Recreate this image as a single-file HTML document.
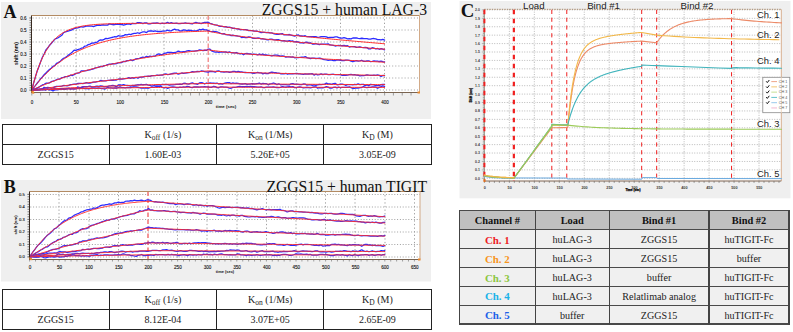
<!DOCTYPE html>
<html><head><meta charset="utf-8"><style>
html,body{margin:0;padding:0;background:#fff;}
body{width:793px;height:332px;position:relative;overflow:hidden;font-family:"Liberation Serif",serif;}
svg{position:absolute;left:0;top:0;}
svg text{font-family:"Liberation Sans",sans-serif;fill:#111;}
.tk{font-size:5.3px;fill:#111;stroke:#111;stroke-width:0.12px;}
.tkb{font-size:5px;font-weight:bold;}
.tkc{font-size:4px;font-weight:bold;fill:#3a3a3a;}
.tkcb{font-size:3.1px;font-weight:bold;stroke:#000;stroke-width:0.25px;}
svg text.lbl{font-family:"Liberation Serif",serif;font-weight:bold;font-size:18px;}
svg text.lblc{font-family:"Liberation Serif",serif;font-weight:bold;font-size:18.8px;}
svg text.ttl{font-family:"Liberation Serif",serif;font-size:15.7px;}
.sec{font-size:9.7px;fill:#222;}
.chl{font-size:9.4px;fill:#222;}
.lg{font-size:3.7px;fill:#555;}
table{position:absolute;border-collapse:collapse;}
.kt{left:1.5px;width:430px;font-size:10px;}
.kt td{border:1.2px solid #222;height:18.8px;padding:0;text-align:center;width:25%;color:#222;}
.kt sub{font-size:7.5px;vertical-align:-2px;line-height:0;}
.cc{position:absolute;display:flex;align-items:center;justify-content:center;font-size:10.6px;line-height:1;padding-top:2.2px;box-sizing:border-box;}
</style></head><body>
<svg width="793" height="332" viewBox="0 0 793 332">
<rect x="1" y="2" width="430" height="117" fill="#efefef"/>
<rect x="31.5" y="15.5" width="388.0" height="77.0" fill="#fff"/>
<line x1="29.5" y1="90" x2="419.5" y2="90" stroke="#a0a0a0" stroke-width="1.2" stroke-dasharray="1,2.1"/>
<line x1="29.5" y1="78" x2="419.5" y2="78" stroke="#a0a0a0" stroke-width="1.2" stroke-dasharray="1,2.1"/>
<line x1="29.5" y1="66" x2="419.5" y2="66" stroke="#a0a0a0" stroke-width="1.2" stroke-dasharray="1,2.1"/>
<line x1="29.5" y1="54" x2="419.5" y2="54" stroke="#a0a0a0" stroke-width="1.2" stroke-dasharray="1,2.1"/>
<line x1="29.5" y1="42" x2="419.5" y2="42" stroke="#a0a0a0" stroke-width="1.2" stroke-dasharray="1,2.1"/>
<line x1="29.5" y1="30" x2="419.5" y2="30" stroke="#a0a0a0" stroke-width="1.2" stroke-dasharray="1,2.1"/>
<line x1="29.5" y1="18" x2="419.5" y2="18" stroke="#a0a0a0" stroke-width="1.2" stroke-dasharray="1,2.1"/>
<line x1="76" y1="15.5" x2="76" y2="92.5" stroke="#a0a0a0" stroke-width="1" stroke-dasharray="1.3,2.3"/>
<line x1="120" y1="15.5" x2="120" y2="92.5" stroke="#a0a0a0" stroke-width="1" stroke-dasharray="1.3,2.3"/>
<line x1="164" y1="15.5" x2="164" y2="92.5" stroke="#a0a0a0" stroke-width="1" stroke-dasharray="1.3,2.3"/>
<line x1="252.5" y1="15.5" x2="252.5" y2="92.5" stroke="#a0a0a0" stroke-width="1" stroke-dasharray="1.3,2.3"/>
<line x1="296.5" y1="15.5" x2="296.5" y2="92.5" stroke="#a0a0a0" stroke-width="1" stroke-dasharray="1.3,2.3"/>
<line x1="340.5" y1="15.5" x2="340.5" y2="92.5" stroke="#a0a0a0" stroke-width="1" stroke-dasharray="1.3,2.3"/>
<line x1="384.5" y1="15.5" x2="384.5" y2="92.5" stroke="#a0a0a0" stroke-width="1" stroke-dasharray="1.3,2.3"/>
<line x1="208.2" y1="15.5" x2="208.2" y2="92.5" stroke="#f27a7a" stroke-width="1.2" stroke-dasharray="4.5,2.5"/>
<path d="M31.8,90.2 L33.56,83.23 L35.33,77.1 L37.09,71.35 L38.86,66.76 L40.62,61.86 L42.38,57.28 L44.15,54.02 L45.91,49.95 L47.68,48.05 L49.44,45.46 L51.2,43.51 L52.97,41.31 L54.73,39.24 L56.5,38.46 L58.26,37.59 L60.02,36.56 L61.79,35.3 L63.55,32.72 L65.32,32 L67.08,31.28 L68.84,30.8 L70.61,30.44 L72.37,29.69 L74.14,28.54 L75.9,28.1 L77.66,27.77 L79.43,27.29 L81.19,26.72 L82.96,27.02 L84.72,26.53 L86.48,26.09 L88.25,25.94 L90.01,26.03 L91.78,26.17 L93.54,26.55 L95.3,25.81 L97.07,25.44 L98.83,25.26 L100.6,25.29 L102.36,24.85 L104.12,24.99 L105.89,25.08 L107.65,25.11 L109.42,23.79 L111.18,24.28 L112.94,24.74 L114.71,24.69 L116.47,24.23 L118.24,24.24 L120,24.69 L121.76,24.33 L123.53,25.18 L125.29,24.57 L127.06,24.07 L128.82,23.89 L130.58,24.48 L132.35,23.33 L134.11,23.54 L135.88,23.65 L137.64,22.62 L139.4,22.74 L141.17,22.9 L142.93,23.61 L144.7,22.91 L146.46,22.85 L148.22,23.87 L149.99,23.9 L151.75,23.43 L153.52,23.03 L155.28,23.24 L157.04,22.96 L158.81,23.4 L160.57,23.58 L162.34,23.1 L164.1,23.54 L165.86,23.21 L167.63,22.38 L169.39,23.46 L171.16,22.56 L172.92,23.45 L174.68,23.42 L176.45,23.19 L178.21,23.71 L179.98,23.62 L181.74,23.45 L183.5,23.3 L185.27,22.98 L187.03,23.41 L188.8,23.28 L190.56,23.55 L192.32,23.94 L194.09,23.01 L195.85,22.4 L197.62,22.95 L199.38,23.24 L201.14,23.67 L202.91,22.86 L204.67,22.38 L206.44,22.43 L208.2,22.19 L209.96,23.3 L211.73,23.82 L213.49,24.52 L215.26,24.97 L217.02,25.06 L218.78,26.04 L220.55,26.34 L222.31,26.36 L224.08,26.82 L225.84,26.68 L227.6,27.37 L229.37,27.12 L231.13,27.55 L232.9,28.39 L234.66,28.24 L236.42,28.86 L238.19,28.79 L239.95,29.64 L241.72,29.6 L243.48,29.54 L245.24,29.69 L247.01,29.96 L248.77,30.57 L250.54,30.54 L252.3,30.72 L254.06,31.04 L255.83,31.22 L257.59,31.25 L259.36,31.98 L261.12,32.53 L262.88,32.42 L264.65,32.45 L266.41,32.73 L268.18,32.39 L269.94,32.86 L271.7,32.89 L273.47,33.59 L275.23,34.2 L277,34.33 L278.76,34.27 L280.52,33.81 L282.29,33.59 L284.05,34.96 L285.82,34.96 L287.58,34.8 L289.34,34.51 L291.11,35.07 L292.87,35.65 L294.64,36.1 L296.4,35.37 L298.16,34.81 L299.93,35.97 L301.69,36 L303.46,36.18 L305.22,35.69 L306.98,36.72 L308.75,36.65 L310.51,36.61 L312.28,36.61 L314.04,36.67 L315.8,36.66 L317.57,37.43 L319.33,37.13 L321.1,36.61 L322.86,36.64 L324.62,36.56 L326.39,36.86 L328.15,37.68 L329.92,37.4 L331.68,37.33 L333.44,37.37 L335.21,36.8 L336.97,36.95 L338.74,37.56 L340.5,38.15 L342.26,38.16 L344.03,37.7 L345.79,38.23 L347.56,38.82 L349.32,38.67 L351.08,38.94 L352.85,37.99 L354.61,37.99 L356.38,37.93 L358.14,38.29 L359.9,38.57 L361.67,38.26 L363.43,38.49 L365.2,38.66 L366.96,38.57 L368.72,39.1 L370.49,39.17 L372.25,38.64 L374.02,38.52 L375.78,38.82 L377.54,39.55 L379.31,39.66 L381.07,39.92 L382.84,39.4 L384.6,40.11" fill="none" stroke="#2c2cff" stroke-width="1.3" stroke-linejoin="round" stroke-linecap="round" />
<path d="M31.8,90.2 L33.56,83.23 L35.33,76.98 L37.09,71.38 L38.86,66.37 L40.62,61.88 L42.38,57.86 L44.15,54.25 L45.91,51.02 L47.68,48.13 L49.44,45.54 L51.2,43.22 L52.97,41.14 L54.73,39.28 L56.5,37.61 L58.26,36.11 L60.02,34.77 L61.79,33.58 L63.55,32.5 L65.32,31.54 L67.08,30.68 L68.84,29.9 L70.61,29.21 L72.37,28.59 L74.14,28.03 L75.9,27.54 L77.66,27.09 L79.43,26.69 L81.19,26.33 L82.96,26.01 L84.72,25.73 L86.48,25.47 L88.25,25.24 L90.01,25.03 L91.78,24.85 L93.54,24.68 L95.3,24.53 L97.07,24.4 L98.83,24.28 L100.6,24.18 L102.36,24.08 L104.12,23.99 L105.89,23.92 L107.65,23.85 L109.42,23.79 L111.18,23.73 L112.94,23.68 L114.71,23.64 L116.47,23.6 L118.24,23.56 L120,23.53 L121.76,23.5 L123.53,23.48 L125.29,23.45 L127.06,23.43 L128.82,23.42 L130.58,23.4 L132.35,23.38 L134.11,23.37 L135.88,23.36 L137.64,23.35 L139.4,23.34 L141.17,23.33 L142.93,23.32 L144.7,23.32 L146.46,23.31 L148.22,23.3 L149.99,23.3 L151.75,23.3 L153.52,23.29 L155.28,23.29 L157.04,23.28 L158.81,23.28 L160.57,23.28 L162.34,23.28 L164.1,23.28 L165.86,23.27 L167.63,23.27 L169.39,23.27 L171.16,23.27 L172.92,23.27 L174.68,23.27 L176.45,23.27 L178.21,23.26 L179.98,23.26 L181.74,23.26 L183.5,23.26 L185.27,23.26 L187.03,23.26 L188.8,23.26 L190.56,23.26 L192.32,23.26 L194.09,23.26 L195.85,23.26 L197.62,23.26 L199.38,23.26 L201.14,23.26 L202.91,23.26 L204.67,23.26 L206.44,23.26 L208.2,23.26 L209.96,23.69 L211.73,24.11 L213.49,24.51 L215.26,24.9 L217.02,25.27 L218.78,25.62 L220.55,25.97 L222.31,26.3 L224.08,26.62 L225.84,26.93 L227.6,27.23 L229.37,27.53 L231.13,27.81 L232.9,28.09 L234.66,28.36 L236.42,28.62 L238.19,28.88 L239.95,29.14 L241.72,29.38 L243.48,29.63 L245.24,29.86 L247.01,30.1 L248.77,30.33 L250.54,30.56 L252.3,30.78 L254.06,31 L255.83,31.22 L257.59,31.43 L259.36,31.64 L261.12,31.85 L262.88,32.06 L264.65,32.26 L266.41,32.46 L268.18,32.66 L269.94,32.86 L271.7,33.06 L273.47,33.25 L275.23,33.45 L277,33.64 L278.76,33.83 L280.52,34.02 L282.29,34.21 L284.05,34.39 L285.82,34.58 L287.58,34.76 L289.34,34.95 L291.11,35.13 L292.87,35.31 L294.64,35.49 L296.4,35.67 L298.16,35.85 L299.93,36.02 L301.69,36.2 L303.46,36.38 L305.22,36.55 L306.98,36.73 L308.75,36.9 L310.51,37.07 L312.28,37.24 L314.04,37.41 L315.8,37.58 L317.57,37.75 L319.33,37.92 L321.1,38.09 L322.86,38.26 L324.62,38.43 L326.39,38.59 L328.15,38.76 L329.92,38.92 L331.68,39.09 L333.44,39.25 L335.21,39.42 L336.97,39.58 L338.74,39.74 L340.5,39.9 L342.26,40.07 L344.03,40.23 L345.79,40.39 L347.56,40.55 L349.32,40.7 L351.08,40.86 L352.85,41.02 L354.61,41.18 L356.38,41.34 L358.14,41.49 L359.9,41.65 L361.67,41.8 L363.43,41.96 L365.2,42.11 L366.96,42.27 L368.72,42.42 L370.49,42.57 L372.25,42.72 L374.02,42.88 L375.78,43.03 L377.54,43.18 L379.31,43.33 L381.07,43.48 L382.84,43.63 L384.6,43.78" fill="none" stroke="#ff2a2a" stroke-width="1.0" stroke-linejoin="round" stroke-linecap="round" />
<path d="M31.8,90.2 L33.56,87.8 L35.33,85.61 L37.09,83.27 L38.86,81.17 L40.62,78.76 L42.38,76.97 L44.15,74.71 L45.91,73.07 L47.68,71.33 L49.44,69.58 L51.2,68.24 L52.97,66.38 L54.73,65.56 L56.5,63.44 L58.26,62.66 L60.02,61.61 L61.79,59.8 L63.55,58.28 L65.32,57.5 L67.08,56.28 L68.84,54.69 L70.61,53.44 L72.37,52.04 L74.14,50.16 L75.9,50.38 L77.66,49.59 L79.43,49.23 L81.19,48.24 L82.96,47.8 L84.72,46.19 L86.48,45.77 L88.25,44.67 L90.01,44.15 L91.78,43.11 L93.54,43.02 L95.3,42.51 L97.07,42.2 L98.83,40.67 L100.6,39.92 L102.36,40.15 L104.12,39.4 L105.89,38.43 L107.65,38.55 L109.42,38.06 L111.18,37.62 L112.94,37.26 L114.71,36.59 L116.47,36.85 L118.24,35.73 L120,36.09 L121.76,36 L123.53,35.76 L125.29,34.64 L127.06,34.89 L128.82,34.24 L130.58,34.63 L132.35,33.87 L134.11,33.41 L135.88,33.31 L137.64,32.75 L139.4,33.39 L141.17,32.5 L142.93,31.81 L144.7,31.89 L146.46,32.54 L148.22,31.16 L149.99,31 L151.75,30.88 L153.52,31.3 L155.28,30.92 L157.04,31.5 L158.81,31.38 L160.57,31.71 L162.34,31.11 L164.1,31.11 L165.86,30.89 L167.63,30.2 L169.39,30.87 L171.16,30.9 L172.92,29.78 L174.68,29.07 L176.45,29.97 L178.21,29.87 L179.98,30.95 L181.74,30.88 L183.5,29.83 L185.27,30.13 L187.03,30.53 L188.8,30.21 L190.56,30.41 L192.32,30.73 L194.09,30.79 L195.85,30.99 L197.62,30.72 L199.38,29.43 L201.14,29.87 L202.91,29.08 L204.67,29.79 L206.44,29.92 L208.2,30.53 L209.96,31.35 L211.73,31.58 L213.49,31.31 L215.26,31.65 L217.02,31.98 L218.78,32.5 L220.55,33.4 L222.31,33.94 L224.08,33.53 L225.84,34.68 L227.6,34.94 L229.37,34.92 L231.13,35.59 L232.9,35.24 L234.66,35.58 L236.42,35.77 L238.19,36.16 L239.95,36.4 L241.72,37.56 L243.48,37.14 L245.24,37.7 L247.01,37.63 L248.77,36.85 L250.54,37.19 L252.3,38.03 L254.06,38.32 L255.83,38.32 L257.59,38.02 L259.36,38.12 L261.12,38.84 L262.88,38.76 L264.65,39.21 L266.41,39.52 L268.18,39.96 L269.94,39.19 L271.7,39.14 L273.47,39.53 L275.23,39.78 L277,39.56 L278.76,39.76 L280.52,40.41 L282.29,40.92 L284.05,40.72 L285.82,41.15 L287.58,41.1 L289.34,40.67 L291.11,41.15 L292.87,40.94 L294.64,41.96 L296.4,41.57 L298.16,41.9 L299.93,42.88 L301.69,42.61 L303.46,43.18 L305.22,42.33 L306.98,42.15 L308.75,43.04 L310.51,42.77 L312.28,43.98 L314.04,44.08 L315.8,43.59 L317.57,44.24 L319.33,44.63 L321.1,44.14 L322.86,44.22 L324.62,44.1 L326.39,44.16 L328.15,43.84 L329.92,44.96 L331.68,45.11 L333.44,45.28 L335.21,46.01 L336.97,45.68 L338.74,45.52 L340.5,45.65 L342.26,45.75 L344.03,45.42 L345.79,45.99 L347.56,45.69 L349.32,47.05 L351.08,46.67 L352.85,46.59 L354.61,46.55 L356.38,47.29 L358.14,47.05 L359.9,46.77 L361.67,47.27 L363.43,47.6 L365.2,47.34 L366.96,47.63 L368.72,48.86 L370.49,48.84 L372.25,47.7 L374.02,48.18 L375.78,48.8 L377.54,48.49 L379.31,49.27 L381.07,48.72 L382.84,49.2 L384.6,49.76" fill="none" stroke="#2c2cff" stroke-width="1.3" stroke-linejoin="round" stroke-linecap="round" />
<path d="M31.8,90.2 L33.56,87.84 L35.33,85.57 L37.09,83.39 L38.86,81.3 L40.62,79.29 L42.38,77.35 L44.15,75.5 L45.91,73.71 L47.68,72 L49.44,70.35 L51.2,68.77 L52.97,67.25 L54.73,65.79 L56.5,64.39 L58.26,63.04 L60.02,61.74 L61.79,60.5 L63.55,59.3 L65.32,58.15 L67.08,57.05 L68.84,55.99 L70.61,54.97 L72.37,53.99 L74.14,53.05 L75.9,52.15 L77.66,51.28 L79.43,50.44 L81.19,49.64 L82.96,48.87 L84.72,48.13 L86.48,47.42 L88.25,46.74 L90.01,46.08 L91.78,45.45 L93.54,44.85 L95.3,44.26 L97.07,43.7 L98.83,43.17 L100.6,42.65 L102.36,42.15 L104.12,41.68 L105.89,41.22 L107.65,40.78 L109.42,40.36 L111.18,39.95 L112.94,39.56 L114.71,39.19 L116.47,38.83 L118.24,38.48 L120,38.15 L121.76,37.83 L123.53,37.52 L125.29,37.23 L127.06,36.94 L128.82,36.67 L130.58,36.41 L132.35,36.16 L134.11,35.92 L135.88,35.68 L137.64,35.46 L139.4,35.25 L141.17,35.04 L142.93,34.84 L144.7,34.65 L146.46,34.47 L148.22,34.3 L149.99,34.13 L151.75,33.97 L153.52,33.81 L155.28,33.66 L157.04,33.52 L158.81,33.38 L160.57,33.25 L162.34,33.12 L164.1,33 L165.86,32.88 L167.63,32.77 L169.39,32.66 L171.16,32.55 L172.92,32.45 L174.68,32.36 L176.45,32.27 L178.21,32.18 L179.98,32.09 L181.74,32.01 L183.5,31.93 L185.27,31.85 L187.03,31.78 L188.8,31.71 L190.56,31.64 L192.32,31.58 L194.09,31.52 L195.85,31.46 L197.62,31.4 L199.38,31.35 L201.14,31.29 L202.91,31.24 L204.67,31.19 L206.44,31.15 L208.2,31.1 L209.96,31.49 L211.73,31.86 L213.49,32.21 L215.26,32.55 L217.02,32.88 L218.78,33.19 L220.55,33.49 L222.31,33.79 L224.08,34.07 L225.84,34.34 L227.6,34.61 L229.37,34.87 L231.13,35.12 L232.9,35.37 L234.66,35.61 L236.42,35.84 L238.19,36.07 L239.95,36.29 L241.72,36.51 L243.48,36.72 L245.24,36.93 L247.01,37.14 L248.77,37.34 L250.54,37.54 L252.3,37.74 L254.06,37.94 L255.83,38.13 L257.59,38.32 L259.36,38.5 L261.12,38.69 L262.88,38.87 L264.65,39.05 L266.41,39.23 L268.18,39.41 L269.94,39.58 L271.7,39.75 L273.47,39.93 L275.23,40.1 L277,40.27 L278.76,40.43 L280.52,40.6 L282.29,40.77 L284.05,40.93 L285.82,41.1 L287.58,41.26 L289.34,41.42 L291.11,41.58 L292.87,41.74 L294.64,41.9 L296.4,42.06 L298.16,42.22 L299.93,42.37 L301.69,42.53 L303.46,42.68 L305.22,42.84 L306.98,42.99 L308.75,43.14 L310.51,43.3 L312.28,43.45 L314.04,43.6 L315.8,43.75 L317.57,43.9 L319.33,44.05 L321.1,44.2 L322.86,44.35 L324.62,44.49 L326.39,44.64 L328.15,44.79 L329.92,44.93 L331.68,45.08 L333.44,45.22 L335.21,45.37 L336.97,45.51 L338.74,45.65 L340.5,45.8 L342.26,45.94 L344.03,46.08 L345.79,46.22 L347.56,46.36 L349.32,46.5 L351.08,46.64 L352.85,46.78 L354.61,46.92 L356.38,47.06 L358.14,47.2 L359.9,47.34 L361.67,47.47 L363.43,47.61 L365.2,47.75 L366.96,47.88 L368.72,48.02 L370.49,48.15 L372.25,48.29 L374.02,48.42 L375.78,48.56 L377.54,48.69 L379.31,48.82 L381.07,48.95 L382.84,49.09 L384.6,49.22" fill="none" stroke="#ff2a2a" stroke-width="1.0" stroke-linejoin="round" stroke-linecap="round" />
<path d="M31.8,90.2 L33.56,89.39 L35.33,88.57 L37.09,88.24 L38.86,87.18 L40.62,86.07 L42.38,84.94 L44.15,84.26 L45.91,83.26 L47.68,83.04 L49.44,82.85 L51.2,81.71 L52.97,81.04 L54.73,80.51 L56.5,79.72 L58.26,79.17 L60.02,79.08 L61.79,77.64 L63.55,77.38 L65.32,76.57 L67.08,76.71 L68.84,76.19 L70.61,75.16 L72.37,75.54 L74.14,74.64 L75.9,73.36 L77.66,73.08 L79.43,72.91 L81.19,70.95 L82.96,70.88 L84.72,70.85 L86.48,70.52 L88.25,70.04 L90.01,69.89 L91.78,69.24 L93.54,68.93 L95.3,67.83 L97.07,67.63 L98.83,67.07 L100.6,66.47 L102.36,66.67 L104.12,65.64 L105.89,65.33 L107.65,64.56 L109.42,64.21 L111.18,64.11 L112.94,63.53 L114.71,63.79 L116.47,63.51 L118.24,62.94 L120,62.59 L121.76,62.48 L123.53,61.39 L125.29,61.59 L127.06,60.65 L128.82,60.54 L130.58,59.96 L132.35,60.51 L134.11,59.92 L135.88,58.77 L137.64,58.54 L139.4,58.38 L141.17,57.61 L142.93,57.17 L144.7,57.55 L146.46,56.3 L148.22,56.78 L149.99,56.09 L151.75,56.59 L153.52,56.09 L155.28,55.99 L157.04,54.51 L158.81,53.84 L160.57,54.64 L162.34,54.62 L164.1,53.46 L165.86,53.22 L167.63,52.3 L169.39,52.49 L171.16,52.49 L172.92,52.55 L174.68,52.5 L176.45,52.02 L178.21,51.06 L179.98,51.54 L181.74,51.94 L183.5,51.74 L185.27,51.57 L187.03,50.97 L188.8,50.63 L190.56,50.96 L192.32,51.05 L194.09,51.14 L195.85,50.85 L197.62,50.72 L199.38,49.94 L201.14,50.24 L202.91,50.66 L204.67,50.25 L206.44,50.43 L208.2,49.08 L209.96,49.19 L211.73,50.91 L213.49,51.59 L215.26,52.11 L217.02,51.94 L218.78,52.32 L220.55,52.18 L222.31,52.1 L224.08,52.2 L225.84,51.81 L227.6,52.55 L229.37,51.96 L231.13,52.66 L232.9,52.76 L234.66,52.94 L236.42,52.52 L238.19,53.43 L239.95,53.79 L241.72,53.48 L243.48,54.72 L245.24,53.64 L247.01,53.47 L248.77,53.88 L250.54,53.95 L252.3,54.29 L254.06,54.12 L255.83,54.48 L257.59,54.86 L259.36,54.06 L261.12,54.53 L262.88,54.18 L264.65,54.81 L266.41,55 L268.18,55.36 L269.94,55.45 L271.7,55.77 L273.47,55.36 L275.23,55.05 L277,55.07 L278.76,55.59 L280.52,56.16 L282.29,55.82 L284.05,56.19 L285.82,57.07 L287.58,56.92 L289.34,56.79 L291.11,57.19 L292.87,56.93 L294.64,57.78 L296.4,57.72 L298.16,57.55 L299.93,57.33 L301.69,57.21 L303.46,57.27 L305.22,56.53 L306.98,57.67 L308.75,58.06 L310.51,58.5 L312.28,58.12 L314.04,58.13 L315.8,58.49 L317.57,58.39 L319.33,58.04 L321.1,58.5 L322.86,59.26 L324.62,59.66 L326.39,59.89 L328.15,60.28 L329.92,60.06 L331.68,60.08 L333.44,60.53 L335.21,60.59 L336.97,59.98 L338.74,60 L340.5,60.25 L342.26,60.66 L344.03,60.69 L345.79,60.13 L347.56,60.05 L349.32,60.47 L351.08,61.17 L352.85,61.74 L354.61,61.09 L356.38,60.6 L358.14,61.07 L359.9,60.87 L361.67,60.26 L363.43,61.27 L365.2,61.3 L366.96,60.97 L368.72,60.9 L370.49,61.69 L372.25,61.44 L374.02,60.95 L375.78,61.17 L377.54,61.03 L379.31,61.51 L381.07,61.18 L382.84,61.73 L384.6,61.93" fill="none" stroke="#2c2cff" stroke-width="1.3" stroke-linejoin="round" stroke-linecap="round" />
<path d="M31.8,90.2 L33.56,89.4 L35.33,88.61 L37.09,87.83 L38.86,87.07 L40.62,86.31 L42.38,85.57 L44.15,84.84 L45.91,84.12 L47.68,83.42 L49.44,82.72 L51.2,82.04 L52.97,81.37 L54.73,80.7 L56.5,80.05 L58.26,79.41 L60.02,78.78 L61.79,78.16 L63.55,77.55 L65.32,76.94 L67.08,76.35 L68.84,75.77 L70.61,75.2 L72.37,74.63 L74.14,74.08 L75.9,73.53 L77.66,72.99 L79.43,72.46 L81.19,71.94 L82.96,71.43 L84.72,70.92 L86.48,70.43 L88.25,69.94 L90.01,69.46 L91.78,68.98 L93.54,68.52 L95.3,68.06 L97.07,67.61 L98.83,67.16 L100.6,66.73 L102.36,66.3 L104.12,65.87 L105.89,65.46 L107.65,65.05 L109.42,64.64 L111.18,64.25 L112.94,63.86 L114.71,63.47 L116.47,63.09 L118.24,62.72 L120,62.35 L121.76,61.99 L123.53,61.64 L125.29,61.29 L127.06,60.95 L128.82,60.61 L130.58,60.27 L132.35,59.95 L134.11,59.62 L135.88,59.31 L137.64,58.99 L139.4,58.69 L141.17,58.38 L142.93,58.09 L144.7,57.79 L146.46,57.51 L148.22,57.22 L149.99,56.94 L151.75,56.67 L153.52,56.4 L155.28,56.13 L157.04,55.87 L158.81,55.61 L160.57,55.36 L162.34,55.11 L164.1,54.86 L165.86,54.62 L167.63,54.38 L169.39,54.15 L171.16,53.92 L172.92,53.69 L174.68,53.47 L176.45,53.25 L178.21,53.03 L179.98,52.82 L181.74,52.61 L183.5,52.4 L185.27,52.2 L187.03,52 L188.8,51.81 L190.56,51.61 L192.32,51.42 L194.09,51.24 L195.85,51.05 L197.62,50.87 L199.38,50.69 L201.14,50.52 L202.91,50.34 L204.67,50.17 L206.44,50.01 L208.2,49.84 L209.96,50.1 L211.73,50.36 L213.49,50.6 L215.26,50.83 L217.02,51.05 L218.78,51.27 L220.55,51.47 L222.31,51.67 L224.08,51.87 L225.84,52.06 L227.6,52.24 L229.37,52.41 L231.13,52.59 L232.9,52.75 L234.66,52.92 L236.42,53.08 L238.19,53.23 L239.95,53.38 L241.72,53.53 L243.48,53.68 L245.24,53.82 L247.01,53.97 L248.77,54.1 L250.54,54.24 L252.3,54.38 L254.06,54.51 L255.83,54.64 L257.59,54.77 L259.36,54.89 L261.12,55.02 L262.88,55.15 L264.65,55.27 L266.41,55.39 L268.18,55.51 L269.94,55.63 L271.7,55.75 L273.47,55.87 L275.23,55.98 L277,56.1 L278.76,56.21 L280.52,56.33 L282.29,56.44 L284.05,56.55 L285.82,56.67 L287.58,56.78 L289.34,56.89 L291.11,57 L292.87,57.11 L294.64,57.22 L296.4,57.32 L298.16,57.43 L299.93,57.54 L301.69,57.64 L303.46,57.75 L305.22,57.86 L306.98,57.96 L308.75,58.06 L310.51,58.17 L312.28,58.27 L314.04,58.38 L315.8,58.48 L317.57,58.58 L319.33,58.68 L321.1,58.78 L322.86,58.89 L324.62,58.99 L326.39,59.09 L328.15,59.19 L329.92,59.29 L331.68,59.39 L333.44,59.48 L335.21,59.58 L336.97,59.68 L338.74,59.78 L340.5,59.88 L342.26,59.97 L344.03,60.07 L345.79,60.17 L347.56,60.26 L349.32,60.36 L351.08,60.46 L352.85,60.55 L354.61,60.65 L356.38,60.74 L358.14,60.83 L359.9,60.93 L361.67,61.02 L363.43,61.12 L365.2,61.21 L366.96,61.3 L368.72,61.39 L370.49,61.49 L372.25,61.58 L374.02,61.67 L375.78,61.76 L377.54,61.85 L379.31,61.94 L381.07,62.03 L382.84,62.12 L384.6,62.21" fill="none" stroke="#ff2a2a" stroke-width="1.0" stroke-linejoin="round" stroke-linecap="round" />
<path d="M31.8,90.2 L33.56,89.97 L35.33,89.86 L37.09,89.49 L38.86,89.18 L40.62,89.02 L42.38,88.88 L44.15,87.32 L45.91,87.76 L47.68,87.36 L49.44,87.74 L51.2,88.23 L52.97,87.86 L54.73,86.95 L56.5,86.29 L58.26,86.39 L60.02,86.29 L61.79,86.02 L63.55,85.5 L65.32,85.7 L67.08,85.84 L68.84,85.32 L70.61,84.73 L72.37,84.46 L74.14,84.11 L75.9,84.12 L77.66,83.49 L79.43,83.39 L81.19,83.35 L82.96,83.54 L84.72,83.15 L86.48,82.71 L88.25,83.11 L90.01,83.09 L91.78,82.64 L93.54,82.08 L95.3,82.05 L97.07,81.58 L98.83,81.42 L100.6,80.47 L102.36,80.74 L104.12,80.96 L105.89,80.87 L107.65,80.41 L109.42,80.36 L111.18,80.11 L112.94,80.23 L114.71,80.09 L116.47,80 L118.24,79.22 L120,78.97 L121.76,79.22 L123.53,78.88 L125.29,78.53 L127.06,78.37 L128.82,77.65 L130.58,78.46 L132.35,77.72 L134.11,78.31 L135.88,77.29 L137.64,78.17 L139.4,77.32 L141.17,77.17 L142.93,77.13 L144.7,76.44 L146.46,76.39 L148.22,76.27 L149.99,76.38 L151.75,75.65 L153.52,75.62 L155.28,75.6 L157.04,75.02 L158.81,75.45 L160.57,75.13 L162.34,75.09 L164.1,74.48 L165.86,73.96 L167.63,74.54 L169.39,74.28 L171.16,73.79 L172.92,73.51 L174.68,73.22 L176.45,73.08 L178.21,74.22 L179.98,73.74 L181.74,73 L183.5,73.37 L185.27,73.2 L187.03,72.76 L188.8,72.6 L190.56,72.29 L192.32,71.7 L194.09,71.83 L195.85,71.66 L197.62,71.4 L199.38,71.7 L201.14,70.98 L202.91,71.18 L204.67,71.69 L206.44,71.94 L208.2,72.2 L209.96,71.42 L211.73,71.52 L213.49,71.62 L215.26,72.15 L217.02,71.14 L218.78,70.8 L220.55,71.75 L222.31,71.88 L224.08,72.14 L225.84,71.77 L227.6,71.95 L229.37,72.25 L231.13,72.03 L232.9,71.46 L234.66,71.42 L236.42,71.96 L238.19,71.3 L239.95,71.86 L241.72,71.88 L243.48,72.29 L245.24,72.48 L247.01,72.67 L248.77,72.65 L250.54,72.69 L252.3,72.99 L254.06,73.24 L255.83,72.87 L257.59,72.34 L259.36,72.88 L261.12,72.8 L262.88,73.89 L264.65,73.25 L266.41,73.5 L268.18,73.64 L269.94,72.54 L271.7,72.03 L273.47,72.45 L275.23,72.68 L277,72.92 L278.76,73.11 L280.52,73.73 L282.29,73.72 L284.05,73.78 L285.82,73.42 L287.58,74.26 L289.34,73.53 L291.11,73.94 L292.87,73.75 L294.64,73.54 L296.4,73.46 L298.16,73.76 L299.93,73.8 L301.69,74.09 L303.46,74.31 L305.22,73.87 L306.98,74.14 L308.75,74 L310.51,73.88 L312.28,73.65 L314.04,75.12 L315.8,74.24 L317.57,74.8 L319.33,74.62 L321.1,73.87 L322.86,74.59 L324.62,74.14 L326.39,74.08 L328.15,74.54 L329.92,74.72 L331.68,74.33 L333.44,74.27 L335.21,74.6 L336.97,74.72 L338.74,74.54 L340.5,74.55 L342.26,75.35 L344.03,75.19 L345.79,75.25 L347.56,75.14 L349.32,74.7 L351.08,74.46 L352.85,74.81 L354.61,74.74 L356.38,75.13 L358.14,75.23 L359.9,75.87 L361.67,75.59 L363.43,75.6 L365.2,75.3 L366.96,74.84 L368.72,75.17 L370.49,75.37 L372.25,75.41 L374.02,75.1 L375.78,75.33 L377.54,74.98 L379.31,75.36 L381.07,76.47 L382.84,75.47 L384.6,75.72" fill="none" stroke="#2c2cff" stroke-width="1.3" stroke-linejoin="round" stroke-linecap="round" />
<path d="M31.8,90.2 L33.56,89.94 L35.33,89.69 L37.09,89.44 L38.86,89.19 L40.62,88.94 L42.38,88.69 L44.15,88.44 L45.91,88.2 L47.68,87.95 L49.44,87.71 L51.2,87.47 L52.97,87.23 L54.73,86.99 L56.5,86.76 L58.26,86.52 L60.02,86.29 L61.79,86.06 L63.55,85.82 L65.32,85.59 L67.08,85.37 L68.84,85.14 L70.61,84.91 L72.37,84.69 L74.14,84.47 L75.9,84.25 L77.66,84.03 L79.43,83.81 L81.19,83.59 L82.96,83.37 L84.72,83.16 L86.48,82.95 L88.25,82.73 L90.01,82.52 L91.78,82.31 L93.54,82.1 L95.3,81.9 L97.07,81.69 L98.83,81.49 L100.6,81.28 L102.36,81.08 L104.12,80.88 L105.89,80.68 L107.65,80.48 L109.42,80.28 L111.18,80.09 L112.94,79.89 L114.71,79.7 L116.47,79.5 L118.24,79.31 L120,79.12 L121.76,78.93 L123.53,78.74 L125.29,78.56 L127.06,78.37 L128.82,78.19 L130.58,78 L132.35,77.82 L134.11,77.64 L135.88,77.46 L137.64,77.28 L139.4,77.1 L141.17,76.92 L142.93,76.75 L144.7,76.57 L146.46,76.4 L148.22,76.22 L149.99,76.05 L151.75,75.88 L153.52,75.71 L155.28,75.54 L157.04,75.37 L158.81,75.21 L160.57,75.04 L162.34,74.88 L164.1,74.71 L165.86,74.55 L167.63,74.39 L169.39,74.23 L171.16,74.07 L172.92,73.91 L174.68,73.75 L176.45,73.59 L178.21,73.43 L179.98,73.28 L181.74,73.12 L183.5,72.97 L185.27,72.82 L187.03,72.67 L188.8,72.52 L190.56,72.37 L192.32,72.22 L194.09,72.07 L195.85,71.92 L197.62,71.78 L199.38,71.63 L201.14,71.49 L202.91,71.34 L204.67,71.2 L206.44,71.06 L208.2,70.92 L209.96,71.02 L211.73,71.13 L213.49,71.22 L215.26,71.32 L217.02,71.41 L218.78,71.49 L220.55,71.57 L222.31,71.65 L224.08,71.73 L225.84,71.8 L227.6,71.87 L229.37,71.94 L231.13,72 L232.9,72.07 L234.66,72.13 L236.42,72.19 L238.19,72.25 L239.95,72.31 L241.72,72.36 L243.48,72.41 L245.24,72.47 L247.01,72.52 L248.77,72.57 L250.54,72.62 L252.3,72.67 L254.06,72.72 L255.83,72.76 L257.59,72.81 L259.36,72.86 L261.12,72.9 L262.88,72.95 L264.65,72.99 L266.41,73.03 L268.18,73.08 L269.94,73.12 L271.7,73.16 L273.47,73.2 L275.23,73.24 L277,73.29 L278.76,73.33 L280.52,73.37 L282.29,73.41 L284.05,73.45 L285.82,73.49 L287.58,73.53 L289.34,73.56 L291.11,73.6 L292.87,73.64 L294.64,73.68 L296.4,73.72 L298.16,73.76 L299.93,73.79 L301.69,73.83 L303.46,73.87 L305.22,73.91 L306.98,73.94 L308.75,73.98 L310.51,74.02 L312.28,74.06 L314.04,74.09 L315.8,74.13 L317.57,74.17 L319.33,74.2 L321.1,74.24 L322.86,74.27 L324.62,74.31 L326.39,74.35 L328.15,74.38 L329.92,74.42 L331.68,74.45 L333.44,74.49 L335.21,74.52 L336.97,74.56 L338.74,74.59 L340.5,74.63 L342.26,74.66 L344.03,74.7 L345.79,74.73 L347.56,74.77 L349.32,74.8 L351.08,74.84 L352.85,74.87 L354.61,74.91 L356.38,74.94 L358.14,74.98 L359.9,75.01 L361.67,75.04 L363.43,75.08 L365.2,75.11 L366.96,75.14 L368.72,75.18 L370.49,75.21 L372.25,75.25 L374.02,75.28 L375.78,75.31 L377.54,75.35 L379.31,75.38 L381.07,75.41 L382.84,75.45 L384.6,75.48" fill="none" stroke="#ff2a2a" stroke-width="1.0" stroke-linejoin="round" stroke-linecap="round" />
<path d="M31.8,90.2 L33.56,90.1 L35.33,89.95 L37.09,89.93 L38.86,89.67 L40.62,89.49 L42.38,89.15 L44.15,89.02 L45.91,89.39 L47.68,89.41 L49.44,89.97 L51.2,89.21 L52.97,89.38 L54.73,88.29 L56.5,88.81 L58.26,88.88 L60.02,88.67 L61.79,89.05 L63.55,88.69 L65.32,88.82 L67.08,88.93 L68.84,88.24 L70.61,89.08 L72.37,88.73 L74.14,88.77 L75.9,88.37 L77.66,86.91 L79.43,87.54 L81.19,87.31 L82.96,86.56 L84.72,86.72 L86.48,86.55 L88.25,86.45 L90.01,86.16 L91.78,86.96 L93.54,86.78 L95.3,86.5 L97.07,86.11 L98.83,86.37 L100.6,85.91 L102.36,86.06 L104.12,86.88 L105.89,86.55 L107.65,86.36 L109.42,85.87 L111.18,85.68 L112.94,85.36 L114.71,85.93 L116.47,86.84 L118.24,85 L120,85 L121.76,85.11 L123.53,84.72 L125.29,85.2 L127.06,85.33 L128.82,85.72 L130.58,86.11 L132.35,85.5 L134.11,85.74 L135.88,85.19 L137.64,84.77 L139.4,84.88 L141.17,84.38 L142.93,84.77 L144.7,84.69 L146.46,84.31 L148.22,85.09 L149.99,85.28 L151.75,86.02 L153.52,85.58 L155.28,85.04 L157.04,84.8 L158.81,84.72 L160.57,85.16 L162.34,84.47 L164.1,84.63 L165.86,84.47 L167.63,84.6 L169.39,85.23 L171.16,84.81 L172.92,84.94 L174.68,84.67 L176.45,84.3 L178.21,84.38 L179.98,84.24 L181.74,84.46 L183.5,83.3 L185.27,83.26 L187.03,83.78 L188.8,84.21 L190.56,83.45 L192.32,82.84 L194.09,83.52 L195.85,83.89 L197.62,84.26 L199.38,82.93 L201.14,82.75 L202.91,83.01 L204.67,84.03 L206.44,83.01 L208.2,83.53 L209.96,82.9 L211.73,83.23 L213.49,83.11 L215.26,83.48 L217.02,83.03 L218.78,84.06 L220.55,83.52 L222.31,84.16 L224.08,83.38 L225.84,82.83 L227.6,82.59 L229.37,82.62 L231.13,83.62 L232.9,82.97 L234.66,83.39 L236.42,83.19 L238.19,83.39 L239.95,83.96 L241.72,84.01 L243.48,83.98 L245.24,83.72 L247.01,84.39 L248.77,84.14 L250.54,83.99 L252.3,83.52 L254.06,84 L255.83,83.77 L257.59,83.71 L259.36,83.19 L261.12,84.01 L262.88,83.43 L264.65,83.59 L266.41,83.69 L268.18,84.82 L269.94,83.95 L271.7,83.72 L273.47,83.02 L275.23,83.64 L277,84.69 L278.76,83.9 L280.52,84.79 L282.29,84.71 L284.05,84.71 L285.82,84.57 L287.58,84.83 L289.34,84.9 L291.11,83.89 L292.87,83.57 L294.64,84.3 L296.4,84.14 L298.16,84.36 L299.93,84.65 L301.69,84.7 L303.46,84.02 L305.22,84.09 L306.98,85.22 L308.75,84.89 L310.51,84.88 L312.28,85.26 L314.04,84.81 L315.8,85.4 L317.57,84.78 L319.33,84.5 L321.1,84.58 L322.86,84.28 L324.62,84.12 L326.39,83.18 L328.15,83.78 L329.92,83.95 L331.68,84.41 L333.44,83.56 L335.21,83.38 L336.97,84.8 L338.74,84.67 L340.5,84.09 L342.26,84.22 L344.03,84.52 L345.79,85.31 L347.56,84.62 L349.32,84.65 L351.08,84.65 L352.85,84.83 L354.61,84.39 L356.38,84.59 L358.14,83.78 L359.9,84.63 L361.67,84.29 L363.43,84.39 L365.2,85.65 L366.96,84.88 L368.72,85.65 L370.49,84.4 L372.25,84.71 L374.02,84.95 L375.78,85.61 L377.54,85.59 L379.31,85.54 L381.07,84.63 L382.84,84.3 L384.6,84.3" fill="none" stroke="#2c2cff" stroke-width="1.3" stroke-linejoin="round" stroke-linecap="round" />
<path d="M31.8,90.2 L33.56,90.08 L35.33,89.95 L37.09,89.83 L38.86,89.71 L40.62,89.6 L42.38,89.48 L44.15,89.37 L45.91,89.26 L47.68,89.15 L49.44,89.04 L51.2,88.93 L52.97,88.82 L54.73,88.72 L56.5,88.61 L58.26,88.51 L60.02,88.41 L61.79,88.31 L63.55,88.22 L65.32,88.12 L67.08,88.02 L68.84,87.93 L70.61,87.84 L72.37,87.75 L74.14,87.66 L75.9,87.57 L77.66,87.48 L79.43,87.4 L81.19,87.31 L82.96,87.23 L84.72,87.14 L86.48,87.06 L88.25,86.98 L90.01,86.9 L91.78,86.83 L93.54,86.75 L95.3,86.67 L97.07,86.6 L98.83,86.52 L100.6,86.45 L102.36,86.38 L104.12,86.31 L105.89,86.24 L107.65,86.17 L109.42,86.1 L111.18,86.04 L112.94,85.97 L114.71,85.9 L116.47,85.84 L118.24,85.78 L120,85.71 L121.76,85.65 L123.53,85.59 L125.29,85.53 L127.06,85.47 L128.82,85.42 L130.58,85.36 L132.35,85.3 L134.11,85.25 L135.88,85.19 L137.64,85.14 L139.4,85.08 L141.17,85.03 L142.93,84.98 L144.7,84.93 L146.46,84.88 L148.22,84.83 L149.99,84.78 L151.75,84.73 L153.52,84.68 L155.28,84.63 L157.04,84.59 L158.81,84.54 L160.57,84.5 L162.34,84.45 L164.1,84.41 L165.86,84.36 L167.63,84.32 L169.39,84.28 L171.16,84.24 L172.92,84.2 L174.68,84.16 L176.45,84.12 L178.21,84.08 L179.98,84.04 L181.74,84 L183.5,83.96 L185.27,83.93 L187.03,83.89 L188.8,83.85 L190.56,83.82 L192.32,83.78 L194.09,83.75 L195.85,83.71 L197.62,83.68 L199.38,83.65 L201.14,83.61 L202.91,83.58 L204.67,83.55 L206.44,83.52 L208.2,83.49 L209.96,83.52 L211.73,83.55 L213.49,83.58 L215.26,83.61 L217.02,83.63 L218.78,83.66 L220.55,83.68 L222.31,83.7 L224.08,83.73 L225.84,83.75 L227.6,83.76 L229.37,83.78 L231.13,83.8 L232.9,83.82 L234.66,83.84 L236.42,83.85 L238.19,83.87 L239.95,83.88 L241.72,83.9 L243.48,83.91 L245.24,83.92 L247.01,83.94 L248.77,83.95 L250.54,83.96 L252.3,83.98 L254.06,83.99 L255.83,84 L257.59,84.01 L259.36,84.02 L261.12,84.03 L262.88,84.04 L264.65,84.05 L266.41,84.07 L268.18,84.08 L269.94,84.09 L271.7,84.1 L273.47,84.11 L275.23,84.12 L277,84.13 L278.76,84.14 L280.52,84.15 L282.29,84.16 L284.05,84.16 L285.82,84.17 L287.58,84.18 L289.34,84.19 L291.11,84.2 L292.87,84.21 L294.64,84.22 L296.4,84.23 L298.16,84.24 L299.93,84.25 L301.69,84.26 L303.46,84.27 L305.22,84.27 L306.98,84.28 L308.75,84.29 L310.51,84.3 L312.28,84.31 L314.04,84.32 L315.8,84.33 L317.57,84.33 L319.33,84.34 L321.1,84.35 L322.86,84.36 L324.62,84.37 L326.39,84.38 L328.15,84.39 L329.92,84.39 L331.68,84.4 L333.44,84.41 L335.21,84.42 L336.97,84.43 L338.74,84.44 L340.5,84.45 L342.26,84.45 L344.03,84.46 L345.79,84.47 L347.56,84.48 L349.32,84.49 L351.08,84.49 L352.85,84.5 L354.61,84.51 L356.38,84.52 L358.14,84.53 L359.9,84.54 L361.67,84.54 L363.43,84.55 L365.2,84.56 L366.96,84.57 L368.72,84.58 L370.49,84.58 L372.25,84.59 L374.02,84.6 L375.78,84.61 L377.54,84.62 L379.31,84.63 L381.07,84.63 L382.84,84.64 L384.6,84.65" fill="none" stroke="#ff2a2a" stroke-width="1.0" stroke-linejoin="round" stroke-linecap="round" />
<path d="M31.8,90.2 L33.56,90.18 L35.33,90.17 L37.09,90.1 L38.86,90.22 L40.62,89.83 L42.38,89.93 L44.15,89.55 L45.91,90.03 L47.68,89.01 L49.44,89.51 L51.2,89.97 L52.97,90.92 L54.73,89.92 L56.5,89.85 L58.26,89.67 L60.02,89.36 L61.79,88.8 L63.55,89.46 L65.32,89.24 L67.08,88.64 L68.84,88.7 L70.61,88.77 L72.37,88.36 L74.14,88.84 L75.9,88.93 L77.66,88.22 L79.43,88.53 L81.19,87.96 L82.96,88.01 L84.72,88.58 L86.48,88.42 L88.25,88.76 L90.01,88.55 L91.78,88.11 L93.54,88.19 L95.3,88.19 L97.07,88.25 L98.83,87.98 L100.6,88.41 L102.36,88.49 L104.12,89 L105.89,88.53 L107.65,87.29 L109.42,87.88 L111.18,87.84 L112.94,88.23 L114.71,87.89 L116.47,88.25 L118.24,87.56 L120,86.98 L121.76,87.61 L123.53,87.56 L125.29,87.84 L127.06,87.48 L128.82,87.53 L130.58,87.71 L132.35,87.14 L134.11,86.83 L135.88,86.96 L137.64,87.25 L139.4,87.65 L141.17,88 L142.93,88.07 L144.7,88.15 L146.46,87.96 L148.22,88.26 L149.99,87.53 L151.75,87.17 L153.52,87.43 L155.28,86.78 L157.04,86.22 L158.81,86.36 L160.57,86.12 L162.34,87.26 L164.1,87.77 L165.86,87.4 L167.63,88.37 L169.39,87.73 L171.16,87.23 L172.92,86.96 L174.68,87.04 L176.45,87.52 L178.21,87.67 L179.98,87.17 L181.74,87.35 L183.5,86.98 L185.27,87.03 L187.03,86.49 L188.8,86.59 L190.56,87.32 L192.32,87.6 L194.09,86.89 L195.85,87.01 L197.62,86.93 L199.38,87.19 L201.14,86.78 L202.91,86.88 L204.67,86.76 L206.44,86.87 L208.2,86.98 L209.96,87.45 L211.73,87.25 L213.49,86.37 L215.26,86.63 L217.02,87.64 L218.78,87.74 L220.55,86.86 L222.31,86.91 L224.08,87.17 L225.84,87.1 L227.6,87.42 L229.37,88.07 L231.13,88.28 L232.9,87.42 L234.66,87.41 L236.42,87.22 L238.19,86.64 L239.95,86.3 L241.72,86.76 L243.48,86.55 L245.24,86.74 L247.01,86.34 L248.77,86.54 L250.54,86.36 L252.3,86.74 L254.06,86.71 L255.83,86.89 L257.59,87.09 L259.36,87.16 L261.12,86.78 L262.88,87.59 L264.65,87.59 L266.41,87.21 L268.18,87.12 L269.94,87.19 L271.7,87.07 L273.47,86.78 L275.23,87.4 L277,87.48 L278.76,87.58 L280.52,87.4 L282.29,86.55 L284.05,86.98 L285.82,87.24 L287.58,86.9 L289.34,86.54 L291.11,86.93 L292.87,86.66 L294.64,87.64 L296.4,87.72 L298.16,87.23 L299.93,86.94 L301.69,87.48 L303.46,87.83 L305.22,87.64 L306.98,87.37 L308.75,87.56 L310.51,87.82 L312.28,87.46 L314.04,86.8 L315.8,86.82 L317.57,88.1 L319.33,87.73 L321.1,87.79 L322.86,87.77 L324.62,87.31 L326.39,86.66 L328.15,87.11 L329.92,88.16 L331.68,88.22 L333.44,87.4 L335.21,87.21 L336.97,87.82 L338.74,87.05 L340.5,87.74 L342.26,87.32 L344.03,87.43 L345.79,87.44 L347.56,87.26 L349.32,86.79 L351.08,87.63 L352.85,88.52 L354.61,88.4 L356.38,87.86 L358.14,88.2 L359.9,87.66 L361.67,87.52 L363.43,86.49 L365.2,87.34 L366.96,87.64 L368.72,87.37 L370.49,87.3 L372.25,86.83 L374.02,86.78 L375.78,87.15 L377.54,88.27 L379.31,87.36 L381.07,86.68 L382.84,85.86 L384.6,86.51" fill="none" stroke="#2c2cff" stroke-width="1.3" stroke-linejoin="round" stroke-linecap="round" />
<path d="M31.8,90.2 L33.56,90.13 L35.33,90.06 L37.09,89.99 L38.86,89.92 L40.62,89.86 L42.38,89.79 L44.15,89.73 L45.91,89.67 L47.68,89.6 L49.44,89.55 L51.2,89.49 L52.97,89.43 L54.73,89.37 L56.5,89.32 L58.26,89.26 L60.02,89.21 L61.79,89.16 L63.55,89.11 L65.32,89.06 L67.08,89.01 L68.84,88.96 L70.61,88.91 L72.37,88.87 L74.14,88.82 L75.9,88.78 L77.66,88.74 L79.43,88.69 L81.19,88.65 L82.96,88.61 L84.72,88.57 L86.48,88.53 L88.25,88.49 L90.01,88.45 L91.78,88.42 L93.54,88.38 L95.3,88.35 L97.07,88.31 L98.83,88.28 L100.6,88.24 L102.36,88.21 L104.12,88.18 L105.89,88.15 L107.65,88.12 L109.42,88.09 L111.18,88.06 L112.94,88.03 L114.71,88 L116.47,87.97 L118.24,87.94 L120,87.92 L121.76,87.89 L123.53,87.86 L125.29,87.84 L127.06,87.81 L128.82,87.79 L130.58,87.77 L132.35,87.74 L134.11,87.72 L135.88,87.7 L137.64,87.68 L139.4,87.65 L141.17,87.63 L142.93,87.61 L144.7,87.59 L146.46,87.57 L148.22,87.55 L149.99,87.53 L151.75,87.52 L153.52,87.5 L155.28,87.48 L157.04,87.46 L158.81,87.44 L160.57,87.43 L162.34,87.41 L164.1,87.39 L165.86,87.38 L167.63,87.36 L169.39,87.35 L171.16,87.33 L172.92,87.32 L174.68,87.3 L176.45,87.29 L178.21,87.27 L179.98,87.26 L181.74,87.25 L183.5,87.23 L185.27,87.22 L187.03,87.21 L188.8,87.2 L190.56,87.19 L192.32,87.17 L194.09,87.16 L195.85,87.15 L197.62,87.14 L199.38,87.13 L201.14,87.12 L202.91,87.11 L204.67,87.1 L206.44,87.09 L208.2,87.08 L209.96,87.09 L211.73,87.1 L213.49,87.11 L215.26,87.12 L217.02,87.13 L218.78,87.14 L220.55,87.15 L222.31,87.15 L224.08,87.16 L225.84,87.17 L227.6,87.17 L229.37,87.18 L231.13,87.19 L232.9,87.19 L234.66,87.2 L236.42,87.2 L238.19,87.21 L239.95,87.21 L241.72,87.21 L243.48,87.22 L245.24,87.22 L247.01,87.22 L248.77,87.23 L250.54,87.23 L252.3,87.23 L254.06,87.24 L255.83,87.24 L257.59,87.24 L259.36,87.24 L261.12,87.25 L262.88,87.25 L264.65,87.25 L266.41,87.25 L268.18,87.26 L269.94,87.26 L271.7,87.26 L273.47,87.26 L275.23,87.26 L277,87.27 L278.76,87.27 L280.52,87.27 L282.29,87.27 L284.05,87.27 L285.82,87.28 L287.58,87.28 L289.34,87.28 L291.11,87.28 L292.87,87.28 L294.64,87.28 L296.4,87.29 L298.16,87.29 L299.93,87.29 L301.69,87.29 L303.46,87.29 L305.22,87.29 L306.98,87.29 L308.75,87.3 L310.51,87.3 L312.28,87.3 L314.04,87.3 L315.8,87.3 L317.57,87.3 L319.33,87.31 L321.1,87.31 L322.86,87.31 L324.62,87.31 L326.39,87.31 L328.15,87.31 L329.92,87.31 L331.68,87.32 L333.44,87.32 L335.21,87.32 L336.97,87.32 L338.74,87.32 L340.5,87.32 L342.26,87.32 L344.03,87.33 L345.79,87.33 L347.56,87.33 L349.32,87.33 L351.08,87.33 L352.85,87.33 L354.61,87.33 L356.38,87.34 L358.14,87.34 L359.9,87.34 L361.67,87.34 L363.43,87.34 L365.2,87.34 L366.96,87.34 L368.72,87.34 L370.49,87.35 L372.25,87.35 L374.02,87.35 L375.78,87.35 L377.54,87.35 L379.31,87.35 L381.07,87.35 L382.84,87.36 L384.6,87.36" fill="none" stroke="#ff2a2a" stroke-width="1.0" stroke-linejoin="round" stroke-linecap="round" />
<line x1="31.5" y1="15.5" x2="419.5" y2="15.5" stroke="#b38b63" stroke-width="1"/>
<line x1="419.5" y1="15.5" x2="419.5" y2="92.5" stroke="#d2aa88" stroke-width="1"/>
<line x1="31.5" y1="15.5" x2="31.5" y2="93.0" stroke="#3a2a20" stroke-width="1"/>
<line x1="31.5" y1="92.5" x2="419.5" y2="92.5" stroke="#7a6450" stroke-width="1"/>
<rect x="417.5" y="91.5" width="2.5" height="2" fill="#e8882e"/>
<line x1="29.5" y1="90.2" x2="31.5" y2="90.2" stroke="#333" stroke-width="0.6"/>
<line x1="29.5" y1="87.79" x2="31.5" y2="87.79" stroke="#333" stroke-width="0.6"/>
<line x1="29.5" y1="85.38" x2="31.5" y2="85.38" stroke="#333" stroke-width="0.6"/>
<line x1="29.5" y1="82.98" x2="31.5" y2="82.98" stroke="#333" stroke-width="0.6"/>
<line x1="29.5" y1="80.57" x2="31.5" y2="80.57" stroke="#333" stroke-width="0.6"/>
<line x1="29.5" y1="78.16" x2="31.5" y2="78.16" stroke="#333" stroke-width="0.6"/>
<line x1="29.5" y1="75.75" x2="31.5" y2="75.75" stroke="#333" stroke-width="0.6"/>
<line x1="29.5" y1="73.34" x2="31.5" y2="73.34" stroke="#333" stroke-width="0.6"/>
<line x1="29.5" y1="70.94" x2="31.5" y2="70.94" stroke="#333" stroke-width="0.6"/>
<line x1="29.5" y1="68.53" x2="31.5" y2="68.53" stroke="#333" stroke-width="0.6"/>
<line x1="29.5" y1="66.12" x2="31.5" y2="66.12" stroke="#333" stroke-width="0.6"/>
<line x1="29.5" y1="63.71" x2="31.5" y2="63.71" stroke="#333" stroke-width="0.6"/>
<line x1="29.5" y1="61.3" x2="31.5" y2="61.3" stroke="#333" stroke-width="0.6"/>
<line x1="29.5" y1="58.9" x2="31.5" y2="58.9" stroke="#333" stroke-width="0.6"/>
<line x1="29.5" y1="56.49" x2="31.5" y2="56.49" stroke="#333" stroke-width="0.6"/>
<line x1="29.5" y1="54.08" x2="31.5" y2="54.08" stroke="#333" stroke-width="0.6"/>
<line x1="29.5" y1="51.67" x2="31.5" y2="51.67" stroke="#333" stroke-width="0.6"/>
<line x1="29.5" y1="49.26" x2="31.5" y2="49.26" stroke="#333" stroke-width="0.6"/>
<line x1="29.5" y1="46.86" x2="31.5" y2="46.86" stroke="#333" stroke-width="0.6"/>
<line x1="29.5" y1="44.45" x2="31.5" y2="44.45" stroke="#333" stroke-width="0.6"/>
<line x1="29.5" y1="42.04" x2="31.5" y2="42.04" stroke="#333" stroke-width="0.6"/>
<line x1="29.5" y1="39.63" x2="31.5" y2="39.63" stroke="#333" stroke-width="0.6"/>
<line x1="29.5" y1="37.22" x2="31.5" y2="37.22" stroke="#333" stroke-width="0.6"/>
<line x1="29.5" y1="34.82" x2="31.5" y2="34.82" stroke="#333" stroke-width="0.6"/>
<line x1="29.5" y1="32.41" x2="31.5" y2="32.41" stroke="#333" stroke-width="0.6"/>
<line x1="29.5" y1="30" x2="31.5" y2="30" stroke="#333" stroke-width="0.6"/>
<line x1="29.5" y1="27.59" x2="31.5" y2="27.59" stroke="#333" stroke-width="0.6"/>
<line x1="29.5" y1="25.18" x2="31.5" y2="25.18" stroke="#333" stroke-width="0.6"/>
<line x1="29.5" y1="22.78" x2="31.5" y2="22.78" stroke="#333" stroke-width="0.6"/>
<line x1="29.5" y1="20.37" x2="31.5" y2="20.37" stroke="#333" stroke-width="0.6"/>
<line x1="29.5" y1="17.96" x2="31.5" y2="17.96" stroke="#333" stroke-width="0.6"/>
<line x1="31.8" y1="92.5" x2="31.8" y2="95.5" stroke="#666" stroke-width="0.6"/>
<line x1="40.62" y1="92.5" x2="40.62" y2="95.5" stroke="#666" stroke-width="0.6"/>
<line x1="49.44" y1="92.5" x2="49.44" y2="95.5" stroke="#666" stroke-width="0.6"/>
<line x1="58.26" y1="92.5" x2="58.26" y2="95.5" stroke="#666" stroke-width="0.6"/>
<line x1="67.08" y1="92.5" x2="67.08" y2="95.5" stroke="#666" stroke-width="0.6"/>
<line x1="75.9" y1="92.5" x2="75.9" y2="95.5" stroke="#666" stroke-width="0.6"/>
<line x1="84.72" y1="92.5" x2="84.72" y2="95.5" stroke="#666" stroke-width="0.6"/>
<line x1="93.54" y1="92.5" x2="93.54" y2="95.5" stroke="#666" stroke-width="0.6"/>
<line x1="102.36" y1="92.5" x2="102.36" y2="95.5" stroke="#666" stroke-width="0.6"/>
<line x1="111.18" y1="92.5" x2="111.18" y2="95.5" stroke="#666" stroke-width="0.6"/>
<line x1="120" y1="92.5" x2="120" y2="95.5" stroke="#666" stroke-width="0.6"/>
<line x1="128.82" y1="92.5" x2="128.82" y2="95.5" stroke="#666" stroke-width="0.6"/>
<line x1="137.64" y1="92.5" x2="137.64" y2="95.5" stroke="#666" stroke-width="0.6"/>
<line x1="146.46" y1="92.5" x2="146.46" y2="95.5" stroke="#666" stroke-width="0.6"/>
<line x1="155.28" y1="92.5" x2="155.28" y2="95.5" stroke="#666" stroke-width="0.6"/>
<line x1="164.1" y1="92.5" x2="164.1" y2="95.5" stroke="#666" stroke-width="0.6"/>
<line x1="172.92" y1="92.5" x2="172.92" y2="95.5" stroke="#666" stroke-width="0.6"/>
<line x1="181.74" y1="92.5" x2="181.74" y2="95.5" stroke="#666" stroke-width="0.6"/>
<line x1="190.56" y1="92.5" x2="190.56" y2="95.5" stroke="#666" stroke-width="0.6"/>
<line x1="199.38" y1="92.5" x2="199.38" y2="95.5" stroke="#666" stroke-width="0.6"/>
<line x1="208.2" y1="92.5" x2="208.2" y2="95.5" stroke="#666" stroke-width="0.6"/>
<line x1="217.02" y1="92.5" x2="217.02" y2="95.5" stroke="#666" stroke-width="0.6"/>
<line x1="225.84" y1="92.5" x2="225.84" y2="95.5" stroke="#666" stroke-width="0.6"/>
<line x1="234.66" y1="92.5" x2="234.66" y2="95.5" stroke="#666" stroke-width="0.6"/>
<line x1="243.48" y1="92.5" x2="243.48" y2="95.5" stroke="#666" stroke-width="0.6"/>
<line x1="252.3" y1="92.5" x2="252.3" y2="95.5" stroke="#666" stroke-width="0.6"/>
<line x1="261.12" y1="92.5" x2="261.12" y2="95.5" stroke="#666" stroke-width="0.6"/>
<line x1="269.94" y1="92.5" x2="269.94" y2="95.5" stroke="#666" stroke-width="0.6"/>
<line x1="278.76" y1="92.5" x2="278.76" y2="95.5" stroke="#666" stroke-width="0.6"/>
<line x1="287.58" y1="92.5" x2="287.58" y2="95.5" stroke="#666" stroke-width="0.6"/>
<line x1="296.4" y1="92.5" x2="296.4" y2="95.5" stroke="#666" stroke-width="0.6"/>
<line x1="305.22" y1="92.5" x2="305.22" y2="95.5" stroke="#666" stroke-width="0.6"/>
<line x1="314.04" y1="92.5" x2="314.04" y2="95.5" stroke="#666" stroke-width="0.6"/>
<line x1="322.86" y1="92.5" x2="322.86" y2="95.5" stroke="#666" stroke-width="0.6"/>
<line x1="331.68" y1="92.5" x2="331.68" y2="95.5" stroke="#666" stroke-width="0.6"/>
<line x1="340.5" y1="92.5" x2="340.5" y2="95.5" stroke="#666" stroke-width="0.6"/>
<line x1="349.32" y1="92.5" x2="349.32" y2="95.5" stroke="#666" stroke-width="0.6"/>
<line x1="358.14" y1="92.5" x2="358.14" y2="95.5" stroke="#666" stroke-width="0.6"/>
<line x1="366.96" y1="92.5" x2="366.96" y2="95.5" stroke="#666" stroke-width="0.6"/>
<line x1="375.78" y1="92.5" x2="375.78" y2="95.5" stroke="#666" stroke-width="0.6"/>
<line x1="384.6" y1="92.5" x2="384.6" y2="95.5" stroke="#666" stroke-width="0.6"/>
<line x1="393.42" y1="92.5" x2="393.42" y2="95.5" stroke="#666" stroke-width="0.6"/>
<line x1="402.24" y1="92.5" x2="402.24" y2="95.5" stroke="#666" stroke-width="0.6"/>
<line x1="411.06" y1="92.5" x2="411.06" y2="95.5" stroke="#666" stroke-width="0.6"/>
<text x="26.6" y="92.2" class="tk" style="font-size:4.9px" text-anchor="end" textLength="6.3" lengthAdjust="spacingAndGlyphs">0.0</text>
<text x="26.6" y="80.16" class="tk" style="font-size:4.9px" text-anchor="end" textLength="6.3" lengthAdjust="spacingAndGlyphs">0.1</text>
<text x="26.6" y="68.12" class="tk" style="font-size:4.9px" text-anchor="end" textLength="6.3" lengthAdjust="spacingAndGlyphs">0.2</text>
<text x="26.6" y="56.08" class="tk" style="font-size:4.9px" text-anchor="end" textLength="6.3" lengthAdjust="spacingAndGlyphs">0.3</text>
<text x="26.6" y="44.04" class="tk" style="font-size:4.9px" text-anchor="end" textLength="6.3" lengthAdjust="spacingAndGlyphs">0.4</text>
<text x="26.6" y="32" class="tk" style="font-size:4.9px" text-anchor="end" textLength="6.3" lengthAdjust="spacingAndGlyphs">0.5</text>
<text x="26.6" y="19.96" class="tk" style="font-size:4.9px" text-anchor="end" textLength="6.3" lengthAdjust="spacingAndGlyphs">0.6</text>
<text x="32.1" y="103.8" class="tk" style="font-size:5.2px" text-anchor="middle" textLength="2.5" lengthAdjust="spacingAndGlyphs">0</text>
<text x="76.2" y="103.8" class="tk" style="font-size:5.2px" text-anchor="middle" textLength="5" lengthAdjust="spacingAndGlyphs">50</text>
<text x="120.3" y="103.8" class="tk" style="font-size:5.2px" text-anchor="middle" textLength="7.5" lengthAdjust="spacingAndGlyphs">100</text>
<text x="164.4" y="103.8" class="tk" style="font-size:5.2px" text-anchor="middle" textLength="7.5" lengthAdjust="spacingAndGlyphs">150</text>
<text x="208.5" y="103.8" class="tk" style="font-size:5.2px" text-anchor="middle" textLength="7.5" lengthAdjust="spacingAndGlyphs">200</text>
<text x="252.6" y="103.8" class="tk" style="font-size:5.2px" text-anchor="middle" textLength="7.5" lengthAdjust="spacingAndGlyphs">250</text>
<text x="296.7" y="103.8" class="tk" style="font-size:5.2px" text-anchor="middle" textLength="7.5" lengthAdjust="spacingAndGlyphs">300</text>
<text x="340.8" y="103.8" class="tk" style="font-size:5.2px" text-anchor="middle" textLength="7.5" lengthAdjust="spacingAndGlyphs">350</text>
<text x="384.9" y="103.8" class="tk" style="font-size:5.2px" text-anchor="middle" textLength="7.5" lengthAdjust="spacingAndGlyphs">400</text>
<text x="226" y="108.3" class="tkb" style="font-size:4.4px" text-anchor="middle">time (sec)</text>
<text transform="translate(18.2,53.5) rotate(-90)" class="tkb" style="font-size:5px" text-anchor="middle">shift (nm)</text>
<path d="M31.0,90.7 l2.8,0.6 l0.6,2.4 l-2.6,-0.2 z" fill="#e8882e"/>
<text x="3.4" y="17.9" class="lbl">A</text>
<text x="427" y="15.3" class="ttl" text-anchor="end">ZGGS15 + human LAG-3</text>
<rect x="1" y="180" width="430" height="101.5" fill="#efefef"/>
<rect x="29.5" y="191.5" width="390.5" height="68.0" fill="#fff"/>
<line x1="27.5" y1="257" x2="420" y2="257" stroke="#a0a0a0" stroke-width="1.2" stroke-dasharray="1,1.8"/>
<line x1="27.5" y1="244.5" x2="420" y2="244.5" stroke="#a0a0a0" stroke-width="1.2" stroke-dasharray="1,1.8"/>
<line x1="27.5" y1="232" x2="420" y2="232" stroke="#a0a0a0" stroke-width="1.2" stroke-dasharray="1,1.8"/>
<line x1="27.5" y1="219.5" x2="420" y2="219.5" stroke="#a0a0a0" stroke-width="1.2" stroke-dasharray="1,1.8"/>
<line x1="27.5" y1="207" x2="420" y2="207" stroke="#a0a0a0" stroke-width="1.2" stroke-dasharray="1,1.8"/>
<line x1="27.5" y1="194.5" x2="420" y2="194.5" stroke="#a0a0a0" stroke-width="1.2" stroke-dasharray="1,1.8"/>
<line x1="59" y1="191.5" x2="59" y2="259.5" stroke="#a0a0a0" stroke-width="1" stroke-dasharray="1.3,2.3"/>
<line x1="89" y1="191.5" x2="89" y2="259.5" stroke="#a0a0a0" stroke-width="1" stroke-dasharray="1.3,2.3"/>
<line x1="118.5" y1="191.5" x2="118.5" y2="259.5" stroke="#a0a0a0" stroke-width="1" stroke-dasharray="1.3,2.3"/>
<line x1="177.5" y1="191.5" x2="177.5" y2="259.5" stroke="#a0a0a0" stroke-width="1" stroke-dasharray="1.3,2.3"/>
<line x1="207" y1="191.5" x2="207" y2="259.5" stroke="#a0a0a0" stroke-width="1" stroke-dasharray="1.3,2.3"/>
<line x1="237" y1="191.5" x2="237" y2="259.5" stroke="#a0a0a0" stroke-width="1" stroke-dasharray="1.3,2.3"/>
<line x1="266.5" y1="191.5" x2="266.5" y2="259.5" stroke="#a0a0a0" stroke-width="1" stroke-dasharray="1.3,2.3"/>
<line x1="296" y1="191.5" x2="296" y2="259.5" stroke="#a0a0a0" stroke-width="1" stroke-dasharray="1.3,2.3"/>
<line x1="325.5" y1="191.5" x2="325.5" y2="259.5" stroke="#a0a0a0" stroke-width="1" stroke-dasharray="1.3,2.3"/>
<line x1="355" y1="191.5" x2="355" y2="259.5" stroke="#a0a0a0" stroke-width="1" stroke-dasharray="1.3,2.3"/>
<line x1="385" y1="191.5" x2="385" y2="259.5" stroke="#a0a0a0" stroke-width="1" stroke-dasharray="1.3,2.3"/>
<line x1="414.5" y1="191.5" x2="414.5" y2="259.5" stroke="#a0a0a0" stroke-width="1" stroke-dasharray="1.3,2.3"/>
<line x1="148" y1="191.5" x2="148" y2="259.5" stroke="#f27a7a" stroke-width="1.6" stroke-dasharray="4.5,2.5"/>
<path d="M29.6,256.8 L31.38,254.21 L33.15,251.67 L34.93,249.28 L36.7,246.78 L38.48,244.66 L40.26,243.32 L42.03,241.36 L43.81,239.24 L45.58,237.07 L47.36,235.31 L49.14,234.1 L50.91,232.48 L52.69,230.65 L54.46,228.72 L56.24,228.1 L58.02,226.29 L59.79,224.83 L61.57,223.02 L63.34,221.35 L65.12,220.45 L66.9,219.98 L68.67,218.05 L70.45,217.72 L72.22,216.79 L74,215.37 L75.78,214.55 L77.55,213.72 L79.33,213.09 L81.1,211.97 L82.88,211.52 L84.66,210.63 L86.43,209.96 L88.21,209.73 L89.98,209.21 L91.76,209.14 L93.54,207.89 L95.31,208.51 L97.09,207.61 L98.86,206.76 L100.64,205.6 L102.42,205.12 L104.19,205.08 L105.97,204.67 L107.74,204.35 L109.52,203.91 L111.3,204.33 L113.07,203.64 L114.85,202.82 L116.62,202.86 L118.4,202.03 L120.18,202.6 L121.95,202.4 L123.73,202.46 L125.5,201.25 L127.28,201.1 L129.06,201.11 L130.83,200.62 L132.61,200.84 L134.38,200.19 L136.16,200.71 L137.94,200.62 L139.71,200.47 L141.49,200.05 L143.26,200.69 L145.04,200.81 L146.82,199.96 L148.59,199.92 L150.37,200.38 L152.14,201.26 L153.92,201.77 L155.7,201.61 L157.47,202.2 L159.25,202.03 L161.02,202.39 L162.8,202.05 L164.58,202.62 L166.35,202.99 L168.13,203.43 L169.9,203.57 L171.68,203.71 L173.46,203.29 L175.23,204.59 L177.01,204.26 L178.78,203.82 L180.56,203.96 L182.34,204.18 L184.11,204.73 L185.89,204.17 L187.66,203.96 L189.44,204.22 L191.22,204.47 L192.99,205.08 L194.77,205.08 L196.54,204.72 L198.32,205.52 L200.1,205.22 L201.87,205.38 L203.65,205.87 L205.42,205.44 L207.2,206.14 L208.98,205.61 L210.75,205.64 L212.53,205.65 L214.3,206.2 L216.08,206.73 L217.86,207.74 L219.63,208.21 L221.41,207.7 L223.18,207.2 L224.96,207.58 L226.74,207.26 L228.51,207.09 L230.29,207.38 L232.06,207.63 L233.84,207.45 L235.62,207.33 L237.39,207.3 L239.17,207.48 L240.94,207.84 L242.72,207.71 L244.5,208.14 L246.27,208.23 L248.05,207.85 L249.82,208.56 L251.6,208.48 L253.38,208.89 L255.15,209.47 L256.93,209.93 L258.7,209.39 L260.48,209.1 L262.26,208.55 L264.03,209.23 L265.81,209.99 L267.58,209.68 L269.36,209.45 L271.14,209.95 L272.91,209.68 L274.69,209.61 L276.46,209.71 L278.24,209.6 L280.02,209.33 L281.79,210.47 L283.57,210.49 L285.34,210.96 L287.12,211.97 L288.9,211.39 L290.67,210.82 L292.45,210.85 L294.22,211.66 L296,211.56 L297.78,211.65 L299.55,211.95 L301.33,211.9 L303.1,212.03 L304.88,212.1 L306.66,212.25 L308.43,212.28 L310.21,212.6 L311.98,212.34 L313.76,212.92 L315.54,213.11 L317.31,213.17 L319.09,213.57 L320.86,213.87 L322.64,213.76 L324.42,213.38 L326.19,213.43 L327.97,213.58 L329.74,213.46 L331.52,213.42 L333.3,213.92 L335.07,214.01 L336.85,214.19 L338.62,213.81 L340.4,213.39 L342.18,213.43 L343.95,213.5 L345.73,214.24 L347.5,214.3 L349.28,214.29 L351.06,214.49 L352.83,214.38 L354.61,214.92 L356.38,215.92 L358.16,216.05 L359.94,216.37 L361.71,215.65 L363.49,215.46 L365.26,215.25 L367.04,215.93 L368.82,216.45 L370.59,215.98 L372.37,216.27 L374.14,215.57 L375.92,216.05 L377.7,216.58 L379.47,216.82 L381.25,216.7 L383.02,216.63 L384.8,216.01" fill="none" stroke="#2c2cff" stroke-width="1.25" stroke-linejoin="round" stroke-linecap="round" />
<path d="M29.6,256.8 L30.78,255.03 L31.97,253.31 L33.15,251.64 L34.34,250.02 L35.52,248.45 L36.7,246.93 L37.89,245.46 L39.07,244.03 L40.26,242.65 L41.44,241.31 L42.62,240.01 L43.81,238.74 L44.99,237.52 L46.18,236.33 L47.36,235.19 L48.54,234.07 L49.73,232.99 L50.91,231.94 L52.1,230.93 L53.28,229.94 L54.46,228.99 L55.65,228.06 L56.83,227.17 L58.02,226.3 L59.2,225.45 L60.38,224.64 L61.57,223.84 L62.75,223.08 L63.94,222.33 L65.12,221.61 L66.3,220.91 L67.49,220.23 L68.67,219.57 L69.86,218.93 L71.04,218.32 L72.22,217.72 L73.41,217.13 L74.59,216.57 L75.78,216.03 L76.96,215.5 L78.14,214.98 L79.33,214.48 L80.51,214 L81.7,213.53 L82.88,213.08 L84.06,212.64 L85.25,212.21 L86.43,211.8 L87.62,211.4 L88.8,211.01 L89.98,210.64 L91.17,210.27 L92.35,209.92 L93.54,209.57 L94.72,209.24 L95.9,208.92 L97.09,208.61 L98.27,208.3 L99.46,208.01 L100.64,207.72 L101.82,207.45 L103.01,207.18 L104.19,206.92 L105.38,206.67 L106.56,206.42 L107.74,206.19 L108.93,205.96 L110.11,205.74 L111.3,205.52 L112.48,205.31 L113.66,205.11 L114.85,204.91 L116.03,204.72 L117.22,204.54 L118.4,204.36 L119.58,204.19 L120.77,204.02 L121.95,203.85 L123.14,203.7 L124.32,203.54 L125.5,203.39 L126.69,203.25 L127.87,203.11 L129.06,202.97 L130.24,202.84 L131.42,202.72 L132.61,202.59 L133.79,202.47 L134.98,202.36 L136.16,202.25 L137.34,202.14 L138.53,202.03 L139.71,201.93 L140.9,201.83 L142.08,201.73 L143.26,201.64 L144.45,201.55 L145.63,201.46 L146.82,201.38 L148,201.29 L149.18,201.38 L150.37,201.47 L151.55,201.56 L152.74,201.65 L153.92,201.74 L155.1,201.83 L156.29,201.92 L157.47,202.01 L158.66,202.1 L159.84,202.19 L161.02,202.28 L162.21,202.36 L163.39,202.45 L164.58,202.54 L165.76,202.63 L166.94,202.72 L168.13,202.8 L169.31,202.89 L170.5,202.98 L171.68,203.07 L172.86,203.15 L174.05,203.24 L175.23,203.33 L176.42,203.42 L177.6,203.5 L178.78,203.59 L179.97,203.67 L181.15,203.76 L182.34,203.85 L183.52,203.93 L184.7,204.02 L185.89,204.1 L187.07,204.19 L188.26,204.28 L189.44,204.36 L190.62,204.45 L191.81,204.53 L192.99,204.62 L194.18,204.7 L195.36,204.78 L196.54,204.87 L197.73,204.95 L198.91,205.04 L200.1,205.12 L201.28,205.21 L202.46,205.29 L203.65,205.37 L204.83,205.46 L206.02,205.54 L207.2,205.62 L208.38,205.71 L209.57,205.79 L210.75,205.87 L211.94,205.95 L213.12,206.04 L214.3,206.12 L215.49,206.2 L216.67,206.28 L217.86,206.37 L219.04,206.45 L220.22,206.53 L221.41,206.61 L222.59,206.69 L223.78,206.77 L224.96,206.85 L226.14,206.94 L227.33,207.02 L228.51,207.1 L229.7,207.18 L230.88,207.26 L232.06,207.34 L233.25,207.42 L234.43,207.5 L235.62,207.58 L236.8,207.66 L237.98,207.74 L239.17,207.82 L240.35,207.9 L241.54,207.98 L242.72,208.06 L243.9,208.14 L245.09,208.21 L246.27,208.29 L247.46,208.37 L248.64,208.45 L249.82,208.53 L251.01,208.61 L252.19,208.69 L253.38,208.76 L254.56,208.84 L255.74,208.92 L256.93,209 L258.11,209.07 L259.3,209.15 L260.48,209.23 L261.66,209.31 L262.85,209.38 L264.03,209.46 L265.22,209.54 L266.4,209.61 L267.58,209.69 L268.77,209.77 L269.95,209.84 L271.14,209.92 L272.32,210 L273.5,210.07 L274.69,210.15 L275.87,210.22 L277.06,210.3 L278.24,210.37 L279.42,210.45 L280.61,210.52 L281.79,210.6 L282.98,210.67 L284.16,210.75 L285.34,210.82 L286.53,210.9 L287.71,210.97 L288.9,211.05 L290.08,211.12 L291.26,211.2 L292.45,211.27 L293.63,211.34 L294.82,211.42 L296,211.49 L297.18,211.56 L298.37,211.64 L299.55,211.71 L300.74,211.78 L301.92,211.86 L303.1,211.93 L304.29,212 L305.47,212.08 L306.66,212.15 L307.84,212.22 L309.02,212.29 L310.21,212.37 L311.39,212.44 L312.58,212.51 L313.76,212.58 L314.94,212.65 L316.13,212.73 L317.31,212.8 L318.5,212.87 L319.68,212.94 L320.86,213.01 L322.05,213.08 L323.23,213.15 L324.42,213.22 L325.6,213.29 L326.78,213.36 L327.97,213.44 L329.15,213.51 L330.34,213.58 L331.52,213.65 L332.7,213.72 L333.89,213.79 L335.07,213.86 L336.26,213.93 L337.44,213.99 L338.62,214.06 L339.81,214.13 L340.99,214.2 L342.18,214.27 L343.36,214.34 L344.54,214.41 L345.73,214.48 L346.91,214.55 L348.1,214.62 L349.28,214.68 L350.46,214.75 L351.65,214.82 L352.83,214.89 L354.02,214.96 L355.2,215.02 L356.38,215.09 L357.57,215.16 L358.75,215.23 L359.94,215.3 L361.12,215.36 L362.3,215.43 L363.49,215.5 L364.67,215.56 L365.86,215.63 L367.04,215.7 L368.22,215.76 L369.41,215.83 L370.59,215.9 L371.78,215.96 L372.96,216.03 L374.14,216.1 L375.33,216.16 L376.51,216.23 L377.7,216.29 L378.88,216.36 L380.06,216.43 L381.25,216.49 L382.43,216.56 L383.62,216.62 L384.8,216.69" fill="none" stroke="#ff2a2a" stroke-width="0.95" stroke-linejoin="round" stroke-linecap="round" />
<path d="M29.6,256.8 L31.38,255.57 L33.15,254.74 L34.93,253.62 L36.7,252.5 L38.48,251.78 L40.26,250.29 L42.03,249.53 L43.81,248.25 L45.58,247.22 L47.36,246.98 L49.14,245.47 L50.91,244.06 L52.69,242.79 L54.46,241.85 L56.24,241.03 L58.02,239.61 L59.79,239.34 L61.57,238.71 L63.34,237.25 L65.12,236.83 L66.9,236.01 L68.67,234.91 L70.45,234.25 L72.22,234.42 L74,232.89 L75.78,232.82 L77.55,232.08 L79.33,230.61 L81.1,229.28 L82.88,228.67 L84.66,228.79 L86.43,228.63 L88.21,227.74 L89.98,225.99 L91.76,225.39 L93.54,224.88 L95.31,224.24 L97.09,223.57 L98.86,223.03 L100.64,222.39 L102.42,221.63 L104.19,221.17 L105.97,220.44 L107.74,220.05 L109.52,220.07 L111.3,219.01 L113.07,219.07 L114.85,218.54 L116.62,218.17 L118.4,217.49 L120.18,216.7 L121.95,216.39 L123.73,215.81 L125.5,215.57 L127.28,215.33 L129.06,214.74 L130.83,214.1 L132.61,213.96 L134.38,213.78 L136.16,212.62 L137.94,212.17 L139.71,210.66 L141.49,211.24 L143.26,210.89 L145.04,209.93 L146.82,210.08 L148.59,208.54 L150.37,210.11 L152.14,209.96 L153.92,210.54 L155.7,210.62 L157.47,210.95 L159.25,210.91 L161.02,210.78 L162.8,210.73 L164.58,210.61 L166.35,211.17 L168.13,211.18 L169.9,211.64 L171.68,211.62 L173.46,211.38 L175.23,211.3 L177.01,212 L178.78,212.19 L180.56,212.67 L182.34,212.34 L184.11,212.42 L185.89,212.68 L187.66,212.92 L189.44,212.92 L191.22,213.07 L192.99,212.46 L194.77,212.76 L196.54,213.1 L198.32,213.47 L200.1,214.11 L201.87,213.49 L203.65,213.15 L205.42,213.37 L207.2,214.18 L208.98,214.1 L210.75,214.19 L212.53,214.11 L214.3,214.08 L216.08,214.42 L217.86,215.12 L219.63,214.83 L221.41,215.29 L223.18,214.76 L224.96,215.48 L226.74,215.98 L228.51,215.28 L230.29,215.79 L232.06,215.11 L233.84,215.06 L235.62,215.78 L237.39,215.5 L239.17,216.15 L240.94,215.32 L242.72,215.47 L244.5,216.41 L246.27,216.68 L248.05,216.95 L249.82,217 L251.6,216.66 L253.38,216.67 L255.15,216.82 L256.93,216.37 L258.7,217.24 L260.48,217.23 L262.26,217.41 L264.03,217.38 L265.81,217.13 L267.58,216.92 L269.36,216.84 L271.14,216.42 L272.91,216.67 L274.69,217.27 L276.46,217.2 L278.24,216.83 L280.02,217.29 L281.79,217.96 L283.57,217.6 L285.34,217.67 L287.12,218.36 L288.9,218.24 L290.67,218.19 L292.45,217.62 L294.22,217.74 L296,218.12 L297.78,218.19 L299.55,217.96 L301.33,217.99 L303.1,217.96 L304.88,218.21 L306.66,218.77 L308.43,219.35 L310.21,219.31 L311.98,219.92 L313.76,219.84 L315.54,219.6 L317.31,219.71 L319.09,220.03 L320.86,220.04 L322.64,219.69 L324.42,219.33 L326.19,220.34 L327.97,220.44 L329.74,219.96 L331.52,220.33 L333.3,220.68 L335.07,220.95 L336.85,221.09 L338.62,220.96 L340.4,221.41 L342.18,221.36 L343.95,221.25 L345.73,220.68 L347.5,220.85 L349.28,221.12 L351.06,220.84 L352.83,221.18 L354.61,221.12 L356.38,221.12 L358.16,221.71 L359.94,221.69 L361.71,222.1 L363.49,222.19 L365.26,222.8 L367.04,222.49 L368.82,222.36 L370.59,222.51 L372.37,222.01 L374.14,222.59 L375.92,222.2 L377.7,222.7 L379.47,223.2 L381.25,223.11 L383.02,222.36 L384.8,222.3" fill="none" stroke="#2c2cff" stroke-width="1.25" stroke-linejoin="round" stroke-linecap="round" />
<path d="M29.6,256.8 L30.78,256.02 L31.97,255.25 L33.15,254.49 L34.34,253.74 L35.52,252.99 L36.7,252.25 L37.89,251.53 L39.07,250.81 L40.26,250.1 L41.44,249.39 L42.62,248.7 L43.81,248.01 L44.99,247.33 L46.18,246.66 L47.36,245.99 L48.54,245.34 L49.73,244.69 L50.91,244.05 L52.1,243.41 L53.28,242.78 L54.46,242.16 L55.65,241.55 L56.83,240.94 L58.02,240.34 L59.2,239.75 L60.38,239.16 L61.57,238.59 L62.75,238.01 L63.94,237.45 L65.12,236.89 L66.3,236.33 L67.49,235.79 L68.67,235.24 L69.86,234.71 L71.04,234.18 L72.22,233.66 L73.41,233.14 L74.59,232.63 L75.78,232.12 L76.96,231.62 L78.14,231.13 L79.33,230.64 L80.51,230.16 L81.7,229.68 L82.88,229.21 L84.06,228.74 L85.25,228.28 L86.43,227.83 L87.62,227.38 L88.8,226.93 L89.98,226.49 L91.17,226.05 L92.35,225.62 L93.54,225.2 L94.72,224.78 L95.9,224.36 L97.09,223.95 L98.27,223.54 L99.46,223.14 L100.64,222.74 L101.82,222.35 L103.01,221.96 L104.19,221.57 L105.38,221.19 L106.56,220.82 L107.74,220.45 L108.93,220.08 L110.11,219.72 L111.3,219.36 L112.48,219 L113.66,218.65 L114.85,218.31 L116.03,217.96 L117.22,217.62 L118.4,217.29 L119.58,216.96 L120.77,216.63 L121.95,216.31 L123.14,215.98 L124.32,215.67 L125.5,215.36 L126.69,215.05 L127.87,214.74 L129.06,214.44 L130.24,214.14 L131.42,213.84 L132.61,213.55 L133.79,213.26 L134.98,212.98 L136.16,212.69 L137.34,212.41 L138.53,212.14 L139.71,211.86 L140.9,211.59 L142.08,211.33 L143.26,211.06 L144.45,210.8 L145.63,210.54 L146.82,210.29 L148,210.04 L149.18,210.11 L150.37,210.19 L151.55,210.26 L152.74,210.34 L153.92,210.42 L155.1,210.49 L156.29,210.57 L157.47,210.64 L158.66,210.72 L159.84,210.79 L161.02,210.87 L162.21,210.94 L163.39,211.01 L164.58,211.09 L165.76,211.16 L166.94,211.24 L168.13,211.31 L169.31,211.38 L170.5,211.46 L171.68,211.53 L172.86,211.61 L174.05,211.68 L175.23,211.75 L176.42,211.83 L177.6,211.9 L178.78,211.97 L179.97,212.04 L181.15,212.12 L182.34,212.19 L183.52,212.26 L184.7,212.33 L185.89,212.41 L187.07,212.48 L188.26,212.55 L189.44,212.62 L190.62,212.69 L191.81,212.76 L192.99,212.84 L194.18,212.91 L195.36,212.98 L196.54,213.05 L197.73,213.12 L198.91,213.19 L200.1,213.26 L201.28,213.33 L202.46,213.4 L203.65,213.47 L204.83,213.54 L206.02,213.61 L207.2,213.68 L208.38,213.75 L209.57,213.82 L210.75,213.89 L211.94,213.96 L213.12,214.03 L214.3,214.1 L215.49,214.17 L216.67,214.24 L217.86,214.31 L219.04,214.38 L220.22,214.45 L221.41,214.52 L222.59,214.59 L223.78,214.65 L224.96,214.72 L226.14,214.79 L227.33,214.86 L228.51,214.93 L229.7,214.99 L230.88,215.06 L232.06,215.13 L233.25,215.2 L234.43,215.27 L235.62,215.33 L236.8,215.4 L237.98,215.47 L239.17,215.53 L240.35,215.6 L241.54,215.67 L242.72,215.73 L243.9,215.8 L245.09,215.87 L246.27,215.93 L247.46,216 L248.64,216.07 L249.82,216.13 L251.01,216.2 L252.19,216.26 L253.38,216.33 L254.56,216.4 L255.74,216.46 L256.93,216.53 L258.11,216.59 L259.3,216.66 L260.48,216.72 L261.66,216.79 L262.85,216.85 L264.03,216.92 L265.22,216.98 L266.4,217.05 L267.58,217.11 L268.77,217.18 L269.95,217.24 L271.14,217.3 L272.32,217.37 L273.5,217.43 L274.69,217.5 L275.87,217.56 L277.06,217.62 L278.24,217.69 L279.42,217.75 L280.61,217.81 L281.79,217.88 L282.98,217.94 L284.16,218 L285.34,218.07 L286.53,218.13 L287.71,218.19 L288.9,218.26 L290.08,218.32 L291.26,218.38 L292.45,218.44 L293.63,218.5 L294.82,218.57 L296,218.63 L297.18,218.69 L298.37,218.75 L299.55,218.81 L300.74,218.88 L301.92,218.94 L303.1,219 L304.29,219.06 L305.47,219.12 L306.66,219.18 L307.84,219.24 L309.02,219.3 L310.21,219.37 L311.39,219.43 L312.58,219.49 L313.76,219.55 L314.94,219.61 L316.13,219.67 L317.31,219.73 L318.5,219.79 L319.68,219.85 L320.86,219.91 L322.05,219.97 L323.23,220.03 L324.42,220.09 L325.6,220.15 L326.78,220.21 L327.97,220.27 L329.15,220.33 L330.34,220.38 L331.52,220.44 L332.7,220.5 L333.89,220.56 L335.07,220.62 L336.26,220.68 L337.44,220.74 L338.62,220.8 L339.81,220.85 L340.99,220.91 L342.18,220.97 L343.36,221.03 L344.54,221.09 L345.73,221.15 L346.91,221.2 L348.1,221.26 L349.28,221.32 L350.46,221.38 L351.65,221.43 L352.83,221.49 L354.02,221.55 L355.2,221.61 L356.38,221.66 L357.57,221.72 L358.75,221.78 L359.94,221.83 L361.12,221.89 L362.3,221.95 L363.49,222 L364.67,222.06 L365.86,222.12 L367.04,222.17 L368.22,222.23 L369.41,222.29 L370.59,222.34 L371.78,222.4 L372.96,222.45 L374.14,222.51 L375.33,222.56 L376.51,222.62 L377.7,222.68 L378.88,222.73 L380.06,222.79 L381.25,222.84 L382.43,222.9 L383.62,222.95 L384.8,223.01" fill="none" stroke="#ff2a2a" stroke-width="0.95" stroke-linejoin="round" stroke-linecap="round" />
<path d="M29.6,256.8 L31.38,256.25 L33.15,255.52 L34.93,254.7 L36.7,254.28 L38.48,254.22 L40.26,253.81 L42.03,253.49 L43.81,253.3 L45.58,252.77 L47.36,251.92 L49.14,250.81 L50.91,250.13 L52.69,249.47 L54.46,249.39 L56.24,249.22 L58.02,248.63 L59.79,247.82 L61.57,246.78 L63.34,245.75 L65.12,245.53 L66.9,245.59 L68.67,245.45 L70.45,245.16 L72.22,244.87 L74,244.44 L75.78,243.59 L77.55,243.7 L79.33,241.99 L81.1,241.81 L82.88,240.9 L84.66,240.79 L86.43,240.86 L88.21,240.14 L89.98,239.65 L91.76,239.06 L93.54,238.87 L95.31,238.25 L97.09,237.91 L98.86,238.25 L100.64,237.92 L102.42,237.77 L104.19,237.65 L105.97,237.21 L107.74,236.68 L109.52,235.69 L111.3,235.38 L113.07,234.62 L114.85,233.92 L116.62,233.43 L118.4,233.5 L120.18,232.89 L121.95,232.81 L123.73,232.37 L125.5,231.6 L127.28,231.28 L129.06,231.42 L130.83,230.92 L132.61,231.02 L134.38,230.5 L136.16,230.45 L137.94,230.21 L139.71,229.77 L141.49,230.16 L143.26,229.22 L145.04,228.48 L146.82,227.76 L148.59,227.09 L150.37,227.65 L152.14,227.57 L153.92,228.06 L155.7,227.88 L157.47,228.16 L159.25,228.11 L161.02,228.34 L162.8,228.25 L164.58,228.72 L166.35,228.76 L168.13,229.17 L169.9,229.47 L171.68,229.43 L173.46,229.65 L175.23,229.79 L177.01,229.61 L178.78,229.55 L180.56,229.53 L182.34,229.64 L184.11,229.52 L185.89,229.88 L187.66,229.72 L189.44,229.88 L191.22,230.1 L192.99,230.25 L194.77,230.18 L196.54,229.7 L198.32,230.14 L200.1,230.58 L201.87,231.14 L203.65,230.79 L205.42,230.84 L207.2,231.4 L208.98,230.53 L210.75,230.95 L212.53,230.62 L214.3,230.22 L216.08,231.14 L217.86,231.01 L219.63,230.92 L221.41,231.36 L223.18,231.14 L224.96,230.48 L226.74,230.91 L228.51,230.71 L230.29,230.49 L232.06,230.89 L233.84,230.78 L235.62,230.55 L237.39,230.88 L239.17,230.99 L240.94,231.57 L242.72,232.05 L244.5,231.4 L246.27,231.13 L248.05,231.21 L249.82,232.02 L251.6,232.42 L253.38,231.96 L255.15,231.89 L256.93,231.66 L258.7,232.04 L260.48,232.02 L262.26,232.4 L264.03,232.19 L265.81,231.55 L267.58,232.17 L269.36,232.54 L271.14,232.74 L272.91,233.29 L274.69,233.13 L276.46,232.27 L278.24,232.58 L280.02,232.08 L281.79,231.96 L283.57,232.2 L285.34,232.6 L287.12,233.21 L288.9,233.06 L290.67,232.54 L292.45,233.65 L294.22,233.23 L296,233.78 L297.78,233.84 L299.55,233.81 L301.33,233.43 L303.1,233.51 L304.88,233.27 L306.66,233.96 L308.43,233.81 L310.21,234.03 L311.98,233.93 L313.76,234.4 L315.54,234.05 L317.31,233.31 L319.09,234.3 L320.86,234.55 L322.64,234.45 L324.42,234.57 L326.19,235.14 L327.97,235.13 L329.74,234.85 L331.52,234.58 L333.3,234.41 L335.07,235.07 L336.85,234.72 L338.62,234.69 L340.4,234.74 L342.18,234.27 L343.95,234.4 L345.73,234.16 L347.5,234.35 L349.28,234.3 L351.06,234.93 L352.83,235.45 L354.61,235.57 L356.38,235.43 L358.16,235.04 L359.94,235.73 L361.71,235.89 L363.49,235.67 L365.26,235.73 L367.04,235.66 L368.82,235.82 L370.59,236.2 L372.37,236.19 L374.14,236.13 L375.92,236.13 L377.7,236.27 L379.47,235.87 L381.25,235.65 L383.02,236.17 L384.8,235.42" fill="none" stroke="#2c2cff" stroke-width="1.25" stroke-linejoin="round" stroke-linecap="round" />
<path d="M29.6,256.8 L30.78,256.42 L31.97,256.05 L33.15,255.68 L34.34,255.31 L35.52,254.94 L36.7,254.58 L37.89,254.21 L39.07,253.85 L40.26,253.49 L41.44,253.14 L42.62,252.78 L43.81,252.43 L44.99,252.08 L46.18,251.73 L47.36,251.38 L48.54,251.04 L49.73,250.7 L50.91,250.36 L52.1,250.02 L53.28,249.68 L54.46,249.35 L55.65,249.01 L56.83,248.68 L58.02,248.35 L59.2,248.03 L60.38,247.7 L61.57,247.38 L62.75,247.06 L63.94,246.74 L65.12,246.42 L66.3,246.1 L67.49,245.79 L68.67,245.48 L69.86,245.17 L71.04,244.86 L72.22,244.55 L73.41,244.25 L74.59,243.94 L75.78,243.64 L76.96,243.34 L78.14,243.04 L79.33,242.75 L80.51,242.45 L81.7,242.16 L82.88,241.87 L84.06,241.58 L85.25,241.29 L86.43,241 L87.62,240.72 L88.8,240.44 L89.98,240.16 L91.17,239.88 L92.35,239.6 L93.54,239.32 L94.72,239.05 L95.9,238.77 L97.09,238.5 L98.27,238.23 L99.46,237.96 L100.64,237.7 L101.82,237.43 L103.01,237.17 L104.19,236.9 L105.38,236.64 L106.56,236.38 L107.74,236.13 L108.93,235.87 L110.11,235.62 L111.3,235.36 L112.48,235.11 L113.66,234.86 L114.85,234.61 L116.03,234.36 L117.22,234.12 L118.4,233.87 L119.58,233.63 L120.77,233.39 L121.95,233.15 L123.14,232.91 L124.32,232.67 L125.5,232.43 L126.69,232.2 L127.87,231.96 L129.06,231.73 L130.24,231.5 L131.42,231.27 L132.61,231.04 L133.79,230.82 L134.98,230.59 L136.16,230.37 L137.34,230.14 L138.53,229.92 L139.71,229.7 L140.9,229.48 L142.08,229.26 L143.26,229.05 L144.45,228.83 L145.63,228.62 L146.82,228.41 L148,228.19 L149.18,228.24 L150.37,228.29 L151.55,228.33 L152.74,228.38 L153.92,228.42 L155.1,228.47 L156.29,228.52 L157.47,228.56 L158.66,228.61 L159.84,228.65 L161.02,228.7 L162.21,228.75 L163.39,228.79 L164.58,228.84 L165.76,228.88 L166.94,228.93 L168.13,228.97 L169.31,229.02 L170.5,229.06 L171.68,229.11 L172.86,229.15 L174.05,229.2 L175.23,229.24 L176.42,229.29 L177.6,229.33 L178.78,229.38 L179.97,229.42 L181.15,229.47 L182.34,229.51 L183.52,229.55 L184.7,229.6 L185.89,229.64 L187.07,229.69 L188.26,229.73 L189.44,229.77 L190.62,229.82 L191.81,229.86 L192.99,229.91 L194.18,229.95 L195.36,229.99 L196.54,230.04 L197.73,230.08 L198.91,230.12 L200.1,230.17 L201.28,230.21 L202.46,230.25 L203.65,230.3 L204.83,230.34 L206.02,230.38 L207.2,230.42 L208.38,230.47 L209.57,230.51 L210.75,230.55 L211.94,230.6 L213.12,230.64 L214.3,230.68 L215.49,230.72 L216.67,230.76 L217.86,230.81 L219.04,230.85 L220.22,230.89 L221.41,230.93 L222.59,230.98 L223.78,231.02 L224.96,231.06 L226.14,231.1 L227.33,231.14 L228.51,231.18 L229.7,231.23 L230.88,231.27 L232.06,231.31 L233.25,231.35 L234.43,231.39 L235.62,231.43 L236.8,231.47 L237.98,231.51 L239.17,231.56 L240.35,231.6 L241.54,231.64 L242.72,231.68 L243.9,231.72 L245.09,231.76 L246.27,231.8 L247.46,231.84 L248.64,231.88 L249.82,231.92 L251.01,231.96 L252.19,232 L253.38,232.04 L254.56,232.08 L255.74,232.12 L256.93,232.16 L258.11,232.2 L259.3,232.24 L260.48,232.28 L261.66,232.32 L262.85,232.36 L264.03,232.4 L265.22,232.44 L266.4,232.48 L267.58,232.52 L268.77,232.56 L269.95,232.6 L271.14,232.64 L272.32,232.68 L273.5,232.72 L274.69,232.76 L275.87,232.8 L277.06,232.83 L278.24,232.87 L279.42,232.91 L280.61,232.95 L281.79,232.99 L282.98,233.03 L284.16,233.07 L285.34,233.11 L286.53,233.14 L287.71,233.18 L288.9,233.22 L290.08,233.26 L291.26,233.3 L292.45,233.34 L293.63,233.37 L294.82,233.41 L296,233.45 L297.18,233.49 L298.37,233.52 L299.55,233.56 L300.74,233.6 L301.92,233.64 L303.1,233.68 L304.29,233.71 L305.47,233.75 L306.66,233.79 L307.84,233.83 L309.02,233.86 L310.21,233.9 L311.39,233.94 L312.58,233.97 L313.76,234.01 L314.94,234.05 L316.13,234.08 L317.31,234.12 L318.5,234.16 L319.68,234.2 L320.86,234.23 L322.05,234.27 L323.23,234.31 L324.42,234.34 L325.6,234.38 L326.78,234.41 L327.97,234.45 L329.15,234.49 L330.34,234.52 L331.52,234.56 L332.7,234.6 L333.89,234.63 L335.07,234.67 L336.26,234.7 L337.44,234.74 L338.62,234.78 L339.81,234.81 L340.99,234.85 L342.18,234.88 L343.36,234.92 L344.54,234.95 L345.73,234.99 L346.91,235.02 L348.1,235.06 L349.28,235.09 L350.46,235.13 L351.65,235.17 L352.83,235.2 L354.02,235.24 L355.2,235.27 L356.38,235.31 L357.57,235.34 L358.75,235.37 L359.94,235.41 L361.12,235.44 L362.3,235.48 L363.49,235.51 L364.67,235.55 L365.86,235.58 L367.04,235.62 L368.22,235.65 L369.41,235.69 L370.59,235.72 L371.78,235.75 L372.96,235.79 L374.14,235.82 L375.33,235.86 L376.51,235.89 L377.7,235.92 L378.88,235.96 L380.06,235.99 L381.25,236.03 L382.43,236.06 L383.62,236.09 L384.8,236.13" fill="none" stroke="#ff2a2a" stroke-width="0.95" stroke-linejoin="round" stroke-linecap="round" />
<path d="M29.6,256.8 L31.38,256.62 L33.15,255.98 L34.93,256.04 L36.7,255.53 L38.48,254.78 L40.26,254.81 L42.03,254.79 L43.81,254.79 L45.58,254.07 L47.36,253.5 L49.14,253.19 L50.91,253 L52.69,253 L54.46,252.9 L56.24,253.13 L58.02,252.19 L59.79,251.47 L61.57,251.8 L63.34,251.82 L65.12,251.85 L66.9,252.52 L68.67,252.14 L70.45,252 L72.22,251.45 L74,251.65 L75.78,251.41 L77.55,250.77 L79.33,250.79 L81.1,250.59 L82.88,249.33 L84.66,249.76 L86.43,249.39 L88.21,249.09 L89.98,249.49 L91.76,248.78 L93.54,248.45 L95.31,248.31 L97.09,248.53 L98.86,248.52 L100.64,248.29 L102.42,248.25 L104.19,247.3 L105.97,247.14 L107.74,247.15 L109.52,247.37 L111.3,246.97 L113.07,245.75 L114.85,245.55 L116.62,245.67 L118.4,245.91 L120.18,245.56 L121.95,244.7 L123.73,244.93 L125.5,245.01 L127.28,245.3 L129.06,245.19 L130.83,244.96 L132.61,245.13 L134.38,244.52 L136.16,244.25 L137.94,244.12 L139.71,244.33 L141.49,244.44 L143.26,243.9 L145.04,243.18 L146.82,243.03 L148.59,242.47 L150.37,242.83 L152.14,242.09 L153.92,242.46 L155.7,243.03 L157.47,242.74 L159.25,242.83 L161.02,242.75 L162.8,242.23 L164.58,243.1 L166.35,242.55 L168.13,242.71 L169.9,243.49 L171.68,243.39 L173.46,242.89 L175.23,242.72 L177.01,242.29 L178.78,243.25 L180.56,243.88 L182.34,243.61 L184.11,243.39 L185.89,243.36 L187.66,243.55 L189.44,243.13 L191.22,243.76 L192.99,243.21 L194.77,242.94 L196.54,242.89 L198.32,242.7 L200.1,242.75 L201.87,242.62 L203.65,242.68 L205.42,242.7 L207.2,243.11 L208.98,243.09 L210.75,243.33 L212.53,243.57 L214.3,243.63 L216.08,243.81 L217.86,243.65 L219.63,243.86 L221.41,243.82 L223.18,243.55 L224.96,243.32 L226.74,243.52 L228.51,244.02 L230.29,243.61 L232.06,244.23 L233.84,243.82 L235.62,243.79 L237.39,244.28 L239.17,243.96 L240.94,243.9 L242.72,243.29 L244.5,243.54 L246.27,243.23 L248.05,243.36 L249.82,243.42 L251.6,243.49 L253.38,243.76 L255.15,243.8 L256.93,244.74 L258.7,244.52 L260.48,244.88 L262.26,244.87 L264.03,244.46 L265.81,244.67 L267.58,243.83 L269.36,243.54 L271.14,243.87 L272.91,243.66 L274.69,243.74 L276.46,244.63 L278.24,244.87 L280.02,244.62 L281.79,244.91 L283.57,245.37 L285.34,245.02 L287.12,244.39 L288.9,244.95 L290.67,245.3 L292.45,245.44 L294.22,245.38 L296,245.23 L297.78,244.58 L299.55,244.26 L301.33,244.19 L303.1,244.88 L304.88,244.27 L306.66,244.31 L308.43,244.43 L310.21,244.5 L311.98,244.85 L313.76,245.26 L315.54,245.37 L317.31,245.37 L319.09,245.56 L320.86,244.93 L322.64,246.06 L324.42,245.91 L326.19,245.52 L327.97,245.33 L329.74,245.53 L331.52,244.45 L333.3,244.47 L335.07,244.17 L336.85,244.55 L338.62,244.27 L340.4,244.87 L342.18,244.89 L343.95,245.09 L345.73,245.38 L347.5,245.57 L349.28,244.72 L351.06,245.21 L352.83,244.72 L354.61,244.5 L356.38,244.92 L358.16,244.96 L359.94,245.16 L361.71,246.35 L363.49,245.13 L365.26,244.3 L367.04,244.46 L368.82,245.11 L370.59,244.81 L372.37,245.63 L374.14,245.13 L375.92,245.69 L377.7,245.66 L379.47,245.47 L381.25,245.95 L383.02,246.45 L384.8,245.45" fill="none" stroke="#2c2cff" stroke-width="1.25" stroke-linejoin="round" stroke-linecap="round" />
<path d="M29.6,256.8 L30.78,256.63 L31.97,256.47 L33.15,256.3 L34.34,256.13 L35.52,255.97 L36.7,255.8 L37.89,255.64 L39.07,255.48 L40.26,255.31 L41.44,255.15 L42.62,254.99 L43.81,254.83 L44.99,254.67 L46.18,254.51 L47.36,254.35 L48.54,254.2 L49.73,254.04 L50.91,253.88 L52.1,253.73 L53.28,253.57 L54.46,253.42 L55.65,253.26 L56.83,253.11 L58.02,252.96 L59.2,252.8 L60.38,252.65 L61.57,252.5 L62.75,252.35 L63.94,252.2 L65.12,252.05 L66.3,251.9 L67.49,251.75 L68.67,251.61 L69.86,251.46 L71.04,251.31 L72.22,251.17 L73.41,251.02 L74.59,250.88 L75.78,250.73 L76.96,250.59 L78.14,250.45 L79.33,250.3 L80.51,250.16 L81.7,250.02 L82.88,249.88 L84.06,249.74 L85.25,249.6 L86.43,249.46 L87.62,249.32 L88.8,249.19 L89.98,249.05 L91.17,248.91 L92.35,248.78 L93.54,248.64 L94.72,248.51 L95.9,248.37 L97.09,248.24 L98.27,248.1 L99.46,247.97 L100.64,247.84 L101.82,247.71 L103.01,247.58 L104.19,247.44 L105.38,247.31 L106.56,247.18 L107.74,247.05 L108.93,246.93 L110.11,246.8 L111.3,246.67 L112.48,246.54 L113.66,246.42 L114.85,246.29 L116.03,246.16 L117.22,246.04 L118.4,245.91 L119.58,245.79 L120.77,245.67 L121.95,245.54 L123.14,245.42 L124.32,245.3 L125.5,245.18 L126.69,245.06 L127.87,244.93 L129.06,244.81 L130.24,244.69 L131.42,244.58 L132.61,244.46 L133.79,244.34 L134.98,244.22 L136.16,244.1 L137.34,243.99 L138.53,243.87 L139.71,243.75 L140.9,243.64 L142.08,243.52 L143.26,243.41 L144.45,243.29 L145.63,243.18 L146.82,243.07 L148,242.95 L149.18,242.97 L150.37,242.98 L151.55,242.99 L152.74,243.01 L153.92,243.02 L155.1,243.03 L156.29,243.05 L157.47,243.06 L158.66,243.07 L159.84,243.09 L161.02,243.1 L162.21,243.11 L163.39,243.13 L164.58,243.14 L165.76,243.15 L166.94,243.17 L168.13,243.18 L169.31,243.19 L170.5,243.21 L171.68,243.22 L172.86,243.23 L174.05,243.25 L175.23,243.26 L176.42,243.27 L177.6,243.29 L178.78,243.3 L179.97,243.31 L181.15,243.33 L182.34,243.34 L183.52,243.35 L184.7,243.37 L185.89,243.38 L187.07,243.39 L188.26,243.4 L189.44,243.42 L190.62,243.43 L191.81,243.44 L192.99,243.46 L194.18,243.47 L195.36,243.48 L196.54,243.5 L197.73,243.51 L198.91,243.52 L200.1,243.53 L201.28,243.55 L202.46,243.56 L203.65,243.57 L204.83,243.59 L206.02,243.6 L207.2,243.61 L208.38,243.62 L209.57,243.64 L210.75,243.65 L211.94,243.66 L213.12,243.68 L214.3,243.69 L215.49,243.7 L216.67,243.71 L217.86,243.73 L219.04,243.74 L220.22,243.75 L221.41,243.77 L222.59,243.78 L223.78,243.79 L224.96,243.8 L226.14,243.82 L227.33,243.83 L228.51,243.84 L229.7,243.85 L230.88,243.87 L232.06,243.88 L233.25,243.89 L234.43,243.9 L235.62,243.92 L236.8,243.93 L237.98,243.94 L239.17,243.95 L240.35,243.97 L241.54,243.98 L242.72,243.99 L243.9,244 L245.09,244.02 L246.27,244.03 L247.46,244.04 L248.64,244.05 L249.82,244.07 L251.01,244.08 L252.19,244.09 L253.38,244.1 L254.56,244.12 L255.74,244.13 L256.93,244.14 L258.11,244.15 L259.3,244.17 L260.48,244.18 L261.66,244.19 L262.85,244.2 L264.03,244.21 L265.22,244.23 L266.4,244.24 L267.58,244.25 L268.77,244.26 L269.95,244.28 L271.14,244.29 L272.32,244.3 L273.5,244.31 L274.69,244.32 L275.87,244.34 L277.06,244.35 L278.24,244.36 L279.42,244.37 L280.61,244.39 L281.79,244.4 L282.98,244.41 L284.16,244.42 L285.34,244.43 L286.53,244.45 L287.71,244.46 L288.9,244.47 L290.08,244.48 L291.26,244.49 L292.45,244.51 L293.63,244.52 L294.82,244.53 L296,244.54 L297.18,244.55 L298.37,244.57 L299.55,244.58 L300.74,244.59 L301.92,244.6 L303.1,244.61 L304.29,244.62 L305.47,244.64 L306.66,244.65 L307.84,244.66 L309.02,244.67 L310.21,244.68 L311.39,244.7 L312.58,244.71 L313.76,244.72 L314.94,244.73 L316.13,244.74 L317.31,244.75 L318.5,244.77 L319.68,244.78 L320.86,244.79 L322.05,244.8 L323.23,244.81 L324.42,244.82 L325.6,244.84 L326.78,244.85 L327.97,244.86 L329.15,244.87 L330.34,244.88 L331.52,244.89 L332.7,244.91 L333.89,244.92 L335.07,244.93 L336.26,244.94 L337.44,244.95 L338.62,244.96 L339.81,244.98 L340.99,244.99 L342.18,245 L343.36,245.01 L344.54,245.02 L345.73,245.03 L346.91,245.04 L348.1,245.06 L349.28,245.07 L350.46,245.08 L351.65,245.09 L352.83,245.1 L354.02,245.11 L355.2,245.12 L356.38,245.14 L357.57,245.15 L358.75,245.16 L359.94,245.17 L361.12,245.18 L362.3,245.19 L363.49,245.2 L364.67,245.21 L365.86,245.23 L367.04,245.24 L368.22,245.25 L369.41,245.26 L370.59,245.27 L371.78,245.28 L372.96,245.29 L374.14,245.3 L375.33,245.32 L376.51,245.33 L377.7,245.34 L378.88,245.35 L380.06,245.36 L381.25,245.37 L382.43,245.38 L383.62,245.39 L384.8,245.41" fill="none" stroke="#ff2a2a" stroke-width="0.95" stroke-linejoin="round" stroke-linecap="round" />
<path d="M29.6,256.8 L31.38,256.68 L33.15,256.7 L34.93,256.77 L36.7,256.89 L38.48,256.67 L40.26,255.74 L42.03,256.38 L43.81,255.88 L45.58,256.34 L47.36,255.8 L49.14,255.6 L50.91,255.95 L52.69,256.16 L54.46,256.19 L56.24,255.23 L58.02,253.95 L59.79,254.33 L61.57,254.48 L63.34,254.24 L65.12,255.02 L66.9,254.58 L68.67,254.37 L70.45,254.31 L72.22,253.89 L74,253.8 L75.78,253.44 L77.55,253.36 L79.33,253.76 L81.1,253.45 L82.88,253.15 L84.66,253.4 L86.43,253.49 L88.21,253.28 L89.98,253.85 L91.76,253.24 L93.54,253.92 L95.31,253.14 L97.09,252.64 L98.86,252.9 L100.64,252.26 L102.42,252.36 L104.19,251.95 L105.97,251.98 L107.74,252.31 L109.52,251.68 L111.3,251.5 L113.07,252.06 L114.85,252.54 L116.62,252.17 L118.4,252 L120.18,251.43 L121.95,251.24 L123.73,251.29 L125.5,252.06 L127.28,251.57 L129.06,251.57 L130.83,251.43 L132.61,252.07 L134.38,251.75 L136.16,251.73 L137.94,251.7 L139.71,251.06 L141.49,251.16 L143.26,251.12 L145.04,251.01 L146.82,251.26 L148.59,251.22 L150.37,251 L152.14,250.32 L153.92,250.39 L155.7,250.26 L157.47,250.49 L159.25,250.68 L161.02,250.54 L162.8,249.85 L164.58,249.92 L166.35,249.63 L168.13,250.16 L169.9,250.4 L171.68,250.17 L173.46,250.64 L175.23,251.25 L177.01,251.5 L178.78,251.03 L180.56,250.63 L182.34,251.2 L184.11,251.42 L185.89,251.43 L187.66,251.03 L189.44,250.41 L191.22,250.33 L192.99,250.72 L194.77,250.58 L196.54,250.96 L198.32,251.31 L200.1,251.44 L201.87,251 L203.65,251.56 L205.42,251.11 L207.2,251.39 L208.98,251.81 L210.75,251.54 L212.53,251.66 L214.3,251.43 L216.08,251.54 L217.86,251.2 L219.63,251.46 L221.41,251.23 L223.18,251.03 L224.96,250.94 L226.74,250.4 L228.51,250.53 L230.29,249.88 L232.06,250.01 L233.84,250.03 L235.62,250.32 L237.39,250.09 L239.17,250.18 L240.94,251.19 L242.72,251.03 L244.5,250.9 L246.27,250.51 L248.05,251.36 L249.82,251.7 L251.6,251.82 L253.38,251.32 L255.15,251.11 L256.93,252.14 L258.7,251.67 L260.48,251.11 L262.26,250.66 L264.03,251.67 L265.81,251.61 L267.58,251.74 L269.36,251.63 L271.14,251.28 L272.91,251.2 L274.69,251.79 L276.46,251.94 L278.24,252.28 L280.02,251.61 L281.79,251.78 L283.57,251.28 L285.34,251.65 L287.12,251.53 L288.9,251.5 L290.67,251.49 L292.45,251.14 L294.22,250.58 L296,251.07 L297.78,251.91 L299.55,251.53 L301.33,251.19 L303.1,250.78 L304.88,251.07 L306.66,251.23 L308.43,251.35 L310.21,251.37 L311.98,251.57 L313.76,251.43 L315.54,250.78 L317.31,250.84 L319.09,251.7 L320.86,251.89 L322.64,251.66 L324.42,251.81 L326.19,252.23 L327.97,251.75 L329.74,251.63 L331.52,252.18 L333.3,251.99 L335.07,251.48 L336.85,251.44 L338.62,251.44 L340.4,251.02 L342.18,251.27 L343.95,250.66 L345.73,250.83 L347.5,251.37 L349.28,251.49 L351.06,251.71 L352.83,250.91 L354.61,251.47 L356.38,251.18 L358.16,251.57 L359.94,250.63 L361.71,249.79 L363.49,250.9 L365.26,251.51 L367.04,251.01 L368.82,251.73 L370.59,251.38 L372.37,250.83 L374.14,251.47 L375.92,251.6 L377.7,251.4 L379.47,251.42 L381.25,250.51 L383.02,250.79 L384.8,250.68" fill="none" stroke="#2c2cff" stroke-width="1.25" stroke-linejoin="round" stroke-linecap="round" />
<path d="M29.6,256.8 L30.78,256.73 L31.97,256.65 L33.15,256.58 L34.34,256.5 L35.52,256.43 L36.7,256.36 L37.89,256.28 L39.07,256.21 L40.26,256.14 L41.44,256.06 L42.62,255.99 L43.81,255.92 L44.99,255.85 L46.18,255.78 L47.36,255.71 L48.54,255.64 L49.73,255.57 L50.91,255.5 L52.1,255.43 L53.28,255.36 L54.46,255.29 L55.65,255.22 L56.83,255.15 L58.02,255.08 L59.2,255.02 L60.38,254.95 L61.57,254.88 L62.75,254.81 L63.94,254.75 L65.12,254.68 L66.3,254.61 L67.49,254.55 L68.67,254.48 L69.86,254.42 L71.04,254.35 L72.22,254.29 L73.41,254.22 L74.59,254.16 L75.78,254.09 L76.96,254.03 L78.14,253.96 L79.33,253.9 L80.51,253.84 L81.7,253.77 L82.88,253.71 L84.06,253.65 L85.25,253.59 L86.43,253.52 L87.62,253.46 L88.8,253.4 L89.98,253.34 L91.17,253.28 L92.35,253.22 L93.54,253.16 L94.72,253.1 L95.9,253.04 L97.09,252.98 L98.27,252.92 L99.46,252.86 L100.64,252.8 L101.82,252.74 L103.01,252.68 L104.19,252.62 L105.38,252.57 L106.56,252.51 L107.74,252.45 L108.93,252.39 L110.11,252.33 L111.3,252.28 L112.48,252.22 L113.66,252.16 L114.85,252.11 L116.03,252.05 L117.22,252 L118.4,251.94 L119.58,251.88 L120.77,251.83 L121.95,251.77 L123.14,251.72 L124.32,251.67 L125.5,251.61 L126.69,251.56 L127.87,251.5 L129.06,251.45 L130.24,251.4 L131.42,251.34 L132.61,251.29 L133.79,251.24 L134.98,251.18 L136.16,251.13 L137.34,251.08 L138.53,251.03 L139.71,250.98 L140.9,250.92 L142.08,250.87 L143.26,250.82 L144.45,250.77 L145.63,250.72 L146.82,250.67 L148,250.62 L149.18,250.62 L150.37,250.63 L151.55,250.63 L152.74,250.64 L153.92,250.64 L155.1,250.65 L156.29,250.65 L157.47,250.66 L158.66,250.66 L159.84,250.67 L161.02,250.67 L162.21,250.68 L163.39,250.68 L164.58,250.69 L165.76,250.69 L166.94,250.7 L168.13,250.7 L169.31,250.71 L170.5,250.71 L171.68,250.72 L172.86,250.72 L174.05,250.73 L175.23,250.73 L176.42,250.74 L177.6,250.74 L178.78,250.75 L179.97,250.75 L181.15,250.76 L182.34,250.76 L183.52,250.77 L184.7,250.77 L185.89,250.78 L187.07,250.78 L188.26,250.79 L189.44,250.79 L190.62,250.8 L191.81,250.8 L192.99,250.81 L194.18,250.81 L195.36,250.82 L196.54,250.82 L197.73,250.83 L198.91,250.83 L200.1,250.84 L201.28,250.84 L202.46,250.85 L203.65,250.85 L204.83,250.85 L206.02,250.86 L207.2,250.86 L208.38,250.87 L209.57,250.87 L210.75,250.88 L211.94,250.88 L213.12,250.89 L214.3,250.89 L215.49,250.9 L216.67,250.9 L217.86,250.91 L219.04,250.91 L220.22,250.92 L221.41,250.92 L222.59,250.93 L223.78,250.93 L224.96,250.94 L226.14,250.94 L227.33,250.95 L228.51,250.95 L229.7,250.96 L230.88,250.96 L232.06,250.96 L233.25,250.97 L234.43,250.97 L235.62,250.98 L236.8,250.98 L237.98,250.99 L239.17,250.99 L240.35,251 L241.54,251 L242.72,251.01 L243.9,251.01 L245.09,251.02 L246.27,251.02 L247.46,251.03 L248.64,251.03 L249.82,251.04 L251.01,251.04 L252.19,251.04 L253.38,251.05 L254.56,251.05 L255.74,251.06 L256.93,251.06 L258.11,251.07 L259.3,251.07 L260.48,251.08 L261.66,251.08 L262.85,251.09 L264.03,251.09 L265.22,251.1 L266.4,251.1 L267.58,251.11 L268.77,251.11 L269.95,251.11 L271.14,251.12 L272.32,251.12 L273.5,251.13 L274.69,251.13 L275.87,251.14 L277.06,251.14 L278.24,251.15 L279.42,251.15 L280.61,251.16 L281.79,251.16 L282.98,251.17 L284.16,251.17 L285.34,251.17 L286.53,251.18 L287.71,251.18 L288.9,251.19 L290.08,251.19 L291.26,251.2 L292.45,251.2 L293.63,251.21 L294.82,251.21 L296,251.22 L297.18,251.22 L298.37,251.22 L299.55,251.23 L300.74,251.23 L301.92,251.24 L303.1,251.24 L304.29,251.25 L305.47,251.25 L306.66,251.26 L307.84,251.26 L309.02,251.26 L310.21,251.27 L311.39,251.27 L312.58,251.28 L313.76,251.28 L314.94,251.29 L316.13,251.29 L317.31,251.3 L318.5,251.3 L319.68,251.31 L320.86,251.31 L322.05,251.31 L323.23,251.32 L324.42,251.32 L325.6,251.33 L326.78,251.33 L327.97,251.34 L329.15,251.34 L330.34,251.35 L331.52,251.35 L332.7,251.35 L333.89,251.36 L335.07,251.36 L336.26,251.37 L337.44,251.37 L338.62,251.38 L339.81,251.38 L340.99,251.38 L342.18,251.39 L343.36,251.39 L344.54,251.4 L345.73,251.4 L346.91,251.41 L348.1,251.41 L349.28,251.42 L350.46,251.42 L351.65,251.42 L352.83,251.43 L354.02,251.43 L355.2,251.44 L356.38,251.44 L357.57,251.45 L358.75,251.45 L359.94,251.45 L361.12,251.46 L362.3,251.46 L363.49,251.47 L364.67,251.47 L365.86,251.48 L367.04,251.48 L368.22,251.49 L369.41,251.49 L370.59,251.49 L371.78,251.5 L372.96,251.5 L374.14,251.51 L375.33,251.51 L376.51,251.52 L377.7,251.52 L378.88,251.52 L380.06,251.53 L381.25,251.53 L382.43,251.54 L383.62,251.54 L384.8,251.55" fill="none" stroke="#ff2a2a" stroke-width="0.95" stroke-linejoin="round" stroke-linecap="round" />
<path d="M29.6,256.8 L31.38,256.84 L33.15,256.96 L34.93,257.01 L36.7,256.78 L38.48,257.12 L40.26,256.65 L42.03,256.74 L43.81,257.61 L45.58,257.78 L47.36,257.41 L49.14,256.92 L50.91,256.77 L52.69,256.8 L54.46,257.21 L56.24,256.64 L58.02,256.48 L59.79,257.04 L61.57,256.91 L63.34,256.88 L65.12,256.35 L66.9,256.33 L68.67,255.57 L70.45,255.7 L72.22,254.96 L74,255.19 L75.78,255.73 L77.55,255.7 L79.33,255.71 L81.1,256.24 L82.88,255.56 L84.66,256.1 L86.43,255.62 L88.21,256.08 L89.98,256.07 L91.76,255.18 L93.54,255.6 L95.31,254.84 L97.09,254.67 L98.86,255.63 L100.64,255.1 L102.42,255.34 L104.19,254.92 L105.97,254.98 L107.74,254.92 L109.52,255.01 L111.3,255.12 L113.07,255.12 L114.85,254.87 L116.62,254.98 L118.4,254.52 L120.18,254.98 L121.95,254.2 L123.73,253.94 L125.5,254.49 L127.28,254.93 L129.06,254.75 L130.83,255.65 L132.61,255.69 L134.38,256 L136.16,256.33 L137.94,255.41 L139.71,255.24 L141.49,254.5 L143.26,255.54 L145.04,255.67 L146.82,255.32 L148.59,255.36 L150.37,254.85 L152.14,255.06 L153.92,255.39 L155.7,254.44 L157.47,254.89 L159.25,254.69 L161.02,254.59 L162.8,254.67 L164.58,254.83 L166.35,254.91 L168.13,254.35 L169.9,255 L171.68,254.35 L173.46,254.87 L175.23,254.7 L177.01,255.09 L178.78,255.54 L180.56,255.04 L182.34,254.83 L184.11,254.63 L185.89,255.14 L187.66,255.65 L189.44,254.67 L191.22,254.78 L192.99,255.02 L194.77,254.76 L196.54,255.13 L198.32,254.5 L200.1,254.87 L201.87,254.82 L203.65,254.1 L205.42,254.49 L207.2,254.3 L208.98,254.59 L210.75,254.44 L212.53,255.03 L214.3,254.14 L216.08,254.51 L217.86,254.59 L219.63,254.03 L221.41,253.81 L223.18,254.29 L224.96,254.6 L226.74,254.68 L228.51,254.84 L230.29,254.66 L232.06,254.96 L233.84,254.84 L235.62,254.89 L237.39,253.98 L239.17,254.14 L240.94,254.91 L242.72,254.87 L244.5,255.15 L246.27,255.62 L248.05,254.81 L249.82,255.06 L251.6,255.38 L253.38,255.17 L255.15,255.18 L256.93,254.63 L258.7,255.05 L260.48,255.28 L262.26,255.15 L264.03,254.93 L265.81,254.56 L267.58,254.9 L269.36,254.69 L271.14,254.8 L272.91,255.59 L274.69,255.19 L276.46,255.65 L278.24,255.06 L280.02,255.3 L281.79,254.51 L283.57,254.45 L285.34,254.42 L287.12,254.52 L288.9,255.28 L290.67,255.3 L292.45,255.03 L294.22,254.5 L296,253.92 L297.78,254.22 L299.55,254.03 L301.33,253.99 L303.1,254.43 L304.88,254.38 L306.66,254.21 L308.43,254.72 L310.21,254.29 L311.98,255.06 L313.76,255.13 L315.54,255.24 L317.31,255.18 L319.09,254.66 L320.86,254.26 L322.64,254.43 L324.42,254.74 L326.19,254.34 L327.97,254.91 L329.74,255.37 L331.52,255.54 L333.3,255.67 L335.07,255.1 L336.85,254.68 L338.62,254.85 L340.4,255.03 L342.18,254.64 L343.95,255.15 L345.73,255.29 L347.5,255.88 L349.28,254.74 L351.06,255.38 L352.83,255.53 L354.61,254.6 L356.38,255.18 L358.16,255.7 L359.94,255.11 L361.71,254.86 L363.49,254.94 L365.26,254.5 L367.04,254.5 L368.82,255.37 L370.59,254.99 L372.37,254.69 L374.14,255.37 L375.92,255.05 L377.7,254.72 L379.47,254.57 L381.25,255.28 L383.02,254.56 L384.8,254.63" fill="none" stroke="#2c2cff" stroke-width="1.25" stroke-linejoin="round" stroke-linecap="round" />
<path d="M29.6,256.8 L30.78,256.78 L31.97,256.75 L33.15,256.73 L34.34,256.7 L35.52,256.68 L36.7,256.65 L37.89,256.63 L39.07,256.6 L40.26,256.58 L41.44,256.55 L42.62,256.53 L43.81,256.51 L44.99,256.48 L46.18,256.46 L47.36,256.44 L48.54,256.41 L49.73,256.39 L50.91,256.37 L52.1,256.34 L53.28,256.32 L54.46,256.3 L55.65,256.27 L56.83,256.25 L58.02,256.23 L59.2,256.21 L60.38,256.18 L61.57,256.16 L62.75,256.14 L63.94,256.12 L65.12,256.09 L66.3,256.07 L67.49,256.05 L68.67,256.03 L69.86,256.01 L71.04,255.98 L72.22,255.96 L73.41,255.94 L74.59,255.92 L75.78,255.9 L76.96,255.88 L78.14,255.85 L79.33,255.83 L80.51,255.81 L81.7,255.79 L82.88,255.77 L84.06,255.75 L85.25,255.73 L86.43,255.71 L87.62,255.69 L88.8,255.67 L89.98,255.65 L91.17,255.63 L92.35,255.61 L93.54,255.59 L94.72,255.57 L95.9,255.55 L97.09,255.53 L98.27,255.51 L99.46,255.49 L100.64,255.47 L101.82,255.45 L103.01,255.43 L104.19,255.41 L105.38,255.39 L106.56,255.37 L107.74,255.35 L108.93,255.33 L110.11,255.31 L111.3,255.29 L112.48,255.27 L113.66,255.25 L114.85,255.24 L116.03,255.22 L117.22,255.2 L118.4,255.18 L119.58,255.16 L120.77,255.14 L121.95,255.12 L123.14,255.11 L124.32,255.09 L125.5,255.07 L126.69,255.05 L127.87,255.03 L129.06,255.02 L130.24,255 L131.42,254.98 L132.61,254.96 L133.79,254.95 L134.98,254.93 L136.16,254.91 L137.34,254.89 L138.53,254.88 L139.71,254.86 L140.9,254.84 L142.08,254.82 L143.26,254.81 L144.45,254.79 L145.63,254.77 L146.82,254.76 L148,254.74 L149.18,254.74 L150.37,254.74 L151.55,254.74 L152.74,254.74 L153.92,254.74 L155.1,254.75 L156.29,254.75 L157.47,254.75 L158.66,254.75 L159.84,254.75 L161.02,254.75 L162.21,254.75 L163.39,254.75 L164.58,254.75 L165.76,254.75 L166.94,254.76 L168.13,254.76 L169.31,254.76 L170.5,254.76 L171.68,254.76 L172.86,254.76 L174.05,254.76 L175.23,254.76 L176.42,254.76 L177.6,254.76 L178.78,254.77 L179.97,254.77 L181.15,254.77 L182.34,254.77 L183.52,254.77 L184.7,254.77 L185.89,254.77 L187.07,254.77 L188.26,254.77 L189.44,254.77 L190.62,254.78 L191.81,254.78 L192.99,254.78 L194.18,254.78 L195.36,254.78 L196.54,254.78 L197.73,254.78 L198.91,254.78 L200.1,254.78 L201.28,254.78 L202.46,254.79 L203.65,254.79 L204.83,254.79 L206.02,254.79 L207.2,254.79 L208.38,254.79 L209.57,254.79 L210.75,254.79 L211.94,254.79 L213.12,254.79 L214.3,254.79 L215.49,254.8 L216.67,254.8 L217.86,254.8 L219.04,254.8 L220.22,254.8 L221.41,254.8 L222.59,254.8 L223.78,254.8 L224.96,254.8 L226.14,254.8 L227.33,254.81 L228.51,254.81 L229.7,254.81 L230.88,254.81 L232.06,254.81 L233.25,254.81 L234.43,254.81 L235.62,254.81 L236.8,254.81 L237.98,254.81 L239.17,254.82 L240.35,254.82 L241.54,254.82 L242.72,254.82 L243.9,254.82 L245.09,254.82 L246.27,254.82 L247.46,254.82 L248.64,254.82 L249.82,254.82 L251.01,254.83 L252.19,254.83 L253.38,254.83 L254.56,254.83 L255.74,254.83 L256.93,254.83 L258.11,254.83 L259.3,254.83 L260.48,254.83 L261.66,254.83 L262.85,254.83 L264.03,254.84 L265.22,254.84 L266.4,254.84 L267.58,254.84 L268.77,254.84 L269.95,254.84 L271.14,254.84 L272.32,254.84 L273.5,254.84 L274.69,254.84 L275.87,254.85 L277.06,254.85 L278.24,254.85 L279.42,254.85 L280.61,254.85 L281.79,254.85 L282.98,254.85 L284.16,254.85 L285.34,254.85 L286.53,254.85 L287.71,254.85 L288.9,254.86 L290.08,254.86 L291.26,254.86 L292.45,254.86 L293.63,254.86 L294.82,254.86 L296,254.86 L297.18,254.86 L298.37,254.86 L299.55,254.86 L300.74,254.87 L301.92,254.87 L303.1,254.87 L304.29,254.87 L305.47,254.87 L306.66,254.87 L307.84,254.87 L309.02,254.87 L310.21,254.87 L311.39,254.87 L312.58,254.87 L313.76,254.88 L314.94,254.88 L316.13,254.88 L317.31,254.88 L318.5,254.88 L319.68,254.88 L320.86,254.88 L322.05,254.88 L323.23,254.88 L324.42,254.88 L325.6,254.88 L326.78,254.89 L327.97,254.89 L329.15,254.89 L330.34,254.89 L331.52,254.89 L332.7,254.89 L333.89,254.89 L335.07,254.89 L336.26,254.89 L337.44,254.89 L338.62,254.89 L339.81,254.9 L340.99,254.9 L342.18,254.9 L343.36,254.9 L344.54,254.9 L345.73,254.9 L346.91,254.9 L348.1,254.9 L349.28,254.9 L350.46,254.9 L351.65,254.91 L352.83,254.91 L354.02,254.91 L355.2,254.91 L356.38,254.91 L357.57,254.91 L358.75,254.91 L359.94,254.91 L361.12,254.91 L362.3,254.91 L363.49,254.91 L364.67,254.92 L365.86,254.92 L367.04,254.92 L368.22,254.92 L369.41,254.92 L370.59,254.92 L371.78,254.92 L372.96,254.92 L374.14,254.92 L375.33,254.92 L376.51,254.92 L377.7,254.93 L378.88,254.93 L380.06,254.93 L381.25,254.93 L382.43,254.93 L383.62,254.93 L384.8,254.93" fill="none" stroke="#ff2a2a" stroke-width="0.95" stroke-linejoin="round" stroke-linecap="round" />
<line x1="29.5" y1="191.5" x2="420" y2="191.5" stroke="#b38b63" stroke-width="1"/>
<line x1="420" y1="191.5" x2="420" y2="259.5" stroke="#d2aa88" stroke-width="1"/>
<line x1="29.5" y1="191.5" x2="29.5" y2="260.0" stroke="#3a2a20" stroke-width="1"/>
<line x1="29.5" y1="259.5" x2="420" y2="259.5" stroke="#7a6450" stroke-width="1"/>
<rect x="418" y="258.5" width="2.5" height="2" fill="#e8882e"/>
<line x1="27.5" y1="256.8" x2="29.5" y2="256.8" stroke="#333" stroke-width="0.6"/>
<line x1="27.5" y1="254.3" x2="29.5" y2="254.3" stroke="#333" stroke-width="0.6"/>
<line x1="27.5" y1="251.8" x2="29.5" y2="251.8" stroke="#333" stroke-width="0.6"/>
<line x1="27.5" y1="249.3" x2="29.5" y2="249.3" stroke="#333" stroke-width="0.6"/>
<line x1="27.5" y1="246.8" x2="29.5" y2="246.8" stroke="#333" stroke-width="0.6"/>
<line x1="27.5" y1="244.3" x2="29.5" y2="244.3" stroke="#333" stroke-width="0.6"/>
<line x1="27.5" y1="241.8" x2="29.5" y2="241.8" stroke="#333" stroke-width="0.6"/>
<line x1="27.5" y1="239.3" x2="29.5" y2="239.3" stroke="#333" stroke-width="0.6"/>
<line x1="27.5" y1="236.8" x2="29.5" y2="236.8" stroke="#333" stroke-width="0.6"/>
<line x1="27.5" y1="234.3" x2="29.5" y2="234.3" stroke="#333" stroke-width="0.6"/>
<line x1="27.5" y1="231.8" x2="29.5" y2="231.8" stroke="#333" stroke-width="0.6"/>
<line x1="27.5" y1="229.3" x2="29.5" y2="229.3" stroke="#333" stroke-width="0.6"/>
<line x1="27.5" y1="226.8" x2="29.5" y2="226.8" stroke="#333" stroke-width="0.6"/>
<line x1="27.5" y1="224.3" x2="29.5" y2="224.3" stroke="#333" stroke-width="0.6"/>
<line x1="27.5" y1="221.8" x2="29.5" y2="221.8" stroke="#333" stroke-width="0.6"/>
<line x1="27.5" y1="219.3" x2="29.5" y2="219.3" stroke="#333" stroke-width="0.6"/>
<line x1="27.5" y1="216.8" x2="29.5" y2="216.8" stroke="#333" stroke-width="0.6"/>
<line x1="27.5" y1="214.3" x2="29.5" y2="214.3" stroke="#333" stroke-width="0.6"/>
<line x1="27.5" y1="211.8" x2="29.5" y2="211.8" stroke="#333" stroke-width="0.6"/>
<line x1="27.5" y1="209.3" x2="29.5" y2="209.3" stroke="#333" stroke-width="0.6"/>
<line x1="27.5" y1="206.8" x2="29.5" y2="206.8" stroke="#333" stroke-width="0.6"/>
<line x1="27.5" y1="204.3" x2="29.5" y2="204.3" stroke="#333" stroke-width="0.6"/>
<line x1="27.5" y1="201.8" x2="29.5" y2="201.8" stroke="#333" stroke-width="0.6"/>
<line x1="27.5" y1="199.3" x2="29.5" y2="199.3" stroke="#333" stroke-width="0.6"/>
<line x1="27.5" y1="196.8" x2="29.5" y2="196.8" stroke="#333" stroke-width="0.6"/>
<line x1="27.5" y1="194.3" x2="29.5" y2="194.3" stroke="#333" stroke-width="0.6"/>
<line x1="29.6" y1="259.5" x2="29.6" y2="261.5" stroke="#666" stroke-width="0.6"/>
<line x1="35.52" y1="259.5" x2="35.52" y2="261.5" stroke="#666" stroke-width="0.6"/>
<line x1="41.44" y1="259.5" x2="41.44" y2="261.5" stroke="#666" stroke-width="0.6"/>
<line x1="47.36" y1="259.5" x2="47.36" y2="261.5" stroke="#666" stroke-width="0.6"/>
<line x1="53.28" y1="259.5" x2="53.28" y2="261.5" stroke="#666" stroke-width="0.6"/>
<line x1="59.2" y1="259.5" x2="59.2" y2="261.5" stroke="#666" stroke-width="0.6"/>
<line x1="65.12" y1="259.5" x2="65.12" y2="261.5" stroke="#666" stroke-width="0.6"/>
<line x1="71.04" y1="259.5" x2="71.04" y2="261.5" stroke="#666" stroke-width="0.6"/>
<line x1="76.96" y1="259.5" x2="76.96" y2="261.5" stroke="#666" stroke-width="0.6"/>
<line x1="82.88" y1="259.5" x2="82.88" y2="261.5" stroke="#666" stroke-width="0.6"/>
<line x1="88.8" y1="259.5" x2="88.8" y2="261.5" stroke="#666" stroke-width="0.6"/>
<line x1="94.72" y1="259.5" x2="94.72" y2="261.5" stroke="#666" stroke-width="0.6"/>
<line x1="100.64" y1="259.5" x2="100.64" y2="261.5" stroke="#666" stroke-width="0.6"/>
<line x1="106.56" y1="259.5" x2="106.56" y2="261.5" stroke="#666" stroke-width="0.6"/>
<line x1="112.48" y1="259.5" x2="112.48" y2="261.5" stroke="#666" stroke-width="0.6"/>
<line x1="118.4" y1="259.5" x2="118.4" y2="261.5" stroke="#666" stroke-width="0.6"/>
<line x1="124.32" y1="259.5" x2="124.32" y2="261.5" stroke="#666" stroke-width="0.6"/>
<line x1="130.24" y1="259.5" x2="130.24" y2="261.5" stroke="#666" stroke-width="0.6"/>
<line x1="136.16" y1="259.5" x2="136.16" y2="261.5" stroke="#666" stroke-width="0.6"/>
<line x1="142.08" y1="259.5" x2="142.08" y2="261.5" stroke="#666" stroke-width="0.6"/>
<line x1="148" y1="259.5" x2="148" y2="261.5" stroke="#666" stroke-width="0.6"/>
<line x1="153.92" y1="259.5" x2="153.92" y2="261.5" stroke="#666" stroke-width="0.6"/>
<line x1="159.84" y1="259.5" x2="159.84" y2="261.5" stroke="#666" stroke-width="0.6"/>
<line x1="165.76" y1="259.5" x2="165.76" y2="261.5" stroke="#666" stroke-width="0.6"/>
<line x1="171.68" y1="259.5" x2="171.68" y2="261.5" stroke="#666" stroke-width="0.6"/>
<line x1="177.6" y1="259.5" x2="177.6" y2="261.5" stroke="#666" stroke-width="0.6"/>
<line x1="183.52" y1="259.5" x2="183.52" y2="261.5" stroke="#666" stroke-width="0.6"/>
<line x1="189.44" y1="259.5" x2="189.44" y2="261.5" stroke="#666" stroke-width="0.6"/>
<line x1="195.36" y1="259.5" x2="195.36" y2="261.5" stroke="#666" stroke-width="0.6"/>
<line x1="201.28" y1="259.5" x2="201.28" y2="261.5" stroke="#666" stroke-width="0.6"/>
<line x1="207.2" y1="259.5" x2="207.2" y2="261.5" stroke="#666" stroke-width="0.6"/>
<line x1="213.12" y1="259.5" x2="213.12" y2="261.5" stroke="#666" stroke-width="0.6"/>
<line x1="219.04" y1="259.5" x2="219.04" y2="261.5" stroke="#666" stroke-width="0.6"/>
<line x1="224.96" y1="259.5" x2="224.96" y2="261.5" stroke="#666" stroke-width="0.6"/>
<line x1="230.88" y1="259.5" x2="230.88" y2="261.5" stroke="#666" stroke-width="0.6"/>
<line x1="236.8" y1="259.5" x2="236.8" y2="261.5" stroke="#666" stroke-width="0.6"/>
<line x1="242.72" y1="259.5" x2="242.72" y2="261.5" stroke="#666" stroke-width="0.6"/>
<line x1="248.64" y1="259.5" x2="248.64" y2="261.5" stroke="#666" stroke-width="0.6"/>
<line x1="254.56" y1="259.5" x2="254.56" y2="261.5" stroke="#666" stroke-width="0.6"/>
<line x1="260.48" y1="259.5" x2="260.48" y2="261.5" stroke="#666" stroke-width="0.6"/>
<line x1="266.4" y1="259.5" x2="266.4" y2="261.5" stroke="#666" stroke-width="0.6"/>
<line x1="272.32" y1="259.5" x2="272.32" y2="261.5" stroke="#666" stroke-width="0.6"/>
<line x1="278.24" y1="259.5" x2="278.24" y2="261.5" stroke="#666" stroke-width="0.6"/>
<line x1="284.16" y1="259.5" x2="284.16" y2="261.5" stroke="#666" stroke-width="0.6"/>
<line x1="290.08" y1="259.5" x2="290.08" y2="261.5" stroke="#666" stroke-width="0.6"/>
<line x1="296" y1="259.5" x2="296" y2="261.5" stroke="#666" stroke-width="0.6"/>
<line x1="301.92" y1="259.5" x2="301.92" y2="261.5" stroke="#666" stroke-width="0.6"/>
<line x1="307.84" y1="259.5" x2="307.84" y2="261.5" stroke="#666" stroke-width="0.6"/>
<line x1="313.76" y1="259.5" x2="313.76" y2="261.5" stroke="#666" stroke-width="0.6"/>
<line x1="319.68" y1="259.5" x2="319.68" y2="261.5" stroke="#666" stroke-width="0.6"/>
<line x1="325.6" y1="259.5" x2="325.6" y2="261.5" stroke="#666" stroke-width="0.6"/>
<line x1="331.52" y1="259.5" x2="331.52" y2="261.5" stroke="#666" stroke-width="0.6"/>
<line x1="337.44" y1="259.5" x2="337.44" y2="261.5" stroke="#666" stroke-width="0.6"/>
<line x1="343.36" y1="259.5" x2="343.36" y2="261.5" stroke="#666" stroke-width="0.6"/>
<line x1="349.28" y1="259.5" x2="349.28" y2="261.5" stroke="#666" stroke-width="0.6"/>
<line x1="355.2" y1="259.5" x2="355.2" y2="261.5" stroke="#666" stroke-width="0.6"/>
<line x1="361.12" y1="259.5" x2="361.12" y2="261.5" stroke="#666" stroke-width="0.6"/>
<line x1="367.04" y1="259.5" x2="367.04" y2="261.5" stroke="#666" stroke-width="0.6"/>
<line x1="372.96" y1="259.5" x2="372.96" y2="261.5" stroke="#666" stroke-width="0.6"/>
<line x1="378.88" y1="259.5" x2="378.88" y2="261.5" stroke="#666" stroke-width="0.6"/>
<line x1="384.8" y1="259.5" x2="384.8" y2="261.5" stroke="#666" stroke-width="0.6"/>
<line x1="390.72" y1="259.5" x2="390.72" y2="261.5" stroke="#666" stroke-width="0.6"/>
<line x1="396.64" y1="259.5" x2="396.64" y2="261.5" stroke="#666" stroke-width="0.6"/>
<line x1="402.56" y1="259.5" x2="402.56" y2="261.5" stroke="#666" stroke-width="0.6"/>
<line x1="408.48" y1="259.5" x2="408.48" y2="261.5" stroke="#666" stroke-width="0.6"/>
<line x1="414.4" y1="259.5" x2="414.4" y2="261.5" stroke="#666" stroke-width="0.6"/>
<text x="24.8" y="258.3" class="tk" style="font-size:4.3px" text-anchor="end" textLength="5.7" lengthAdjust="spacingAndGlyphs">0.0</text>
<text x="24.8" y="245.8" class="tk" style="font-size:4.3px" text-anchor="end" textLength="5.7" lengthAdjust="spacingAndGlyphs">0.1</text>
<text x="24.8" y="233.3" class="tk" style="font-size:4.3px" text-anchor="end" textLength="5.7" lengthAdjust="spacingAndGlyphs">0.2</text>
<text x="24.8" y="220.8" class="tk" style="font-size:4.3px" text-anchor="end" textLength="5.7" lengthAdjust="spacingAndGlyphs">0.3</text>
<text x="24.8" y="208.3" class="tk" style="font-size:4.3px" text-anchor="end" textLength="5.7" lengthAdjust="spacingAndGlyphs">0.4</text>
<text x="24.8" y="195.8" class="tk" style="font-size:4.3px" text-anchor="end" textLength="5.7" lengthAdjust="spacingAndGlyphs">0.5</text>
<text x="29.9" y="268.7" class="tk" style="font-size:5.0px" text-anchor="middle" textLength="2.55" lengthAdjust="spacingAndGlyphs">0</text>
<text x="59.5" y="268.7" class="tk" style="font-size:5.0px" text-anchor="middle" textLength="5.1" lengthAdjust="spacingAndGlyphs">50</text>
<text x="89.1" y="268.7" class="tk" style="font-size:5.0px" text-anchor="middle" textLength="7.65" lengthAdjust="spacingAndGlyphs">100</text>
<text x="118.7" y="268.7" class="tk" style="font-size:5.0px" text-anchor="middle" textLength="7.65" lengthAdjust="spacingAndGlyphs">150</text>
<text x="148.3" y="268.7" class="tk" style="font-size:5.0px" text-anchor="middle" textLength="7.65" lengthAdjust="spacingAndGlyphs">200</text>
<text x="177.9" y="268.7" class="tk" style="font-size:5.0px" text-anchor="middle" textLength="7.65" lengthAdjust="spacingAndGlyphs">250</text>
<text x="207.5" y="268.7" class="tk" style="font-size:5.0px" text-anchor="middle" textLength="7.65" lengthAdjust="spacingAndGlyphs">300</text>
<text x="237.1" y="268.7" class="tk" style="font-size:5.0px" text-anchor="middle" textLength="7.65" lengthAdjust="spacingAndGlyphs">350</text>
<text x="266.7" y="268.7" class="tk" style="font-size:5.0px" text-anchor="middle" textLength="7.65" lengthAdjust="spacingAndGlyphs">400</text>
<text x="296.3" y="268.7" class="tk" style="font-size:5.0px" text-anchor="middle" textLength="7.65" lengthAdjust="spacingAndGlyphs">450</text>
<text x="325.9" y="268.7" class="tk" style="font-size:5.0px" text-anchor="middle" textLength="7.65" lengthAdjust="spacingAndGlyphs">500</text>
<text x="355.5" y="268.7" class="tk" style="font-size:5.0px" text-anchor="middle" textLength="7.65" lengthAdjust="spacingAndGlyphs">550</text>
<text x="385.1" y="268.7" class="tk" style="font-size:5.0px" text-anchor="middle" textLength="7.65" lengthAdjust="spacingAndGlyphs">600</text>
<text x="414.7" y="268.7" class="tk" style="font-size:5.0px" text-anchor="middle" textLength="7.65" lengthAdjust="spacingAndGlyphs">650</text>
<text x="225" y="272.6" class="tkb" style="font-size:3.95px" text-anchor="middle">time (sec)</text>
<text transform="translate(17.2,225) rotate(-90)" class="tkb" style="font-size:4.2px" text-anchor="middle">shift (nm)</text>
<path d="M29.0,257.3 l2.8,0.6 l0.6,2.4 l-2.6,-0.2 z" fill="#e8882e"/>
<text x="3.7" y="192.5" class="lbl">B</text>
<text x="427" y="191.8" class="ttl" text-anchor="end">ZGGS15 + human TIGIT</text>
<rect x="459.5" y="1" width="331" height="197.3" fill="#efefef"/>
<rect x="484.3" y="9.3" width="296.99999999999994" height="171.7" fill="#fff"/>
<line x1="484.3" y1="178.3" x2="781.3" y2="178.3" stroke="#999" stroke-width="0.75" stroke-dasharray="0.9,1.6"/>
<line x1="484.3" y1="169.88" x2="781.3" y2="169.88" stroke="#999" stroke-width="0.75" stroke-dasharray="0.9,1.6"/>
<line x1="484.3" y1="161.46" x2="781.3" y2="161.46" stroke="#999" stroke-width="0.75" stroke-dasharray="0.9,1.6"/>
<line x1="484.3" y1="153.04" x2="781.3" y2="153.04" stroke="#999" stroke-width="0.75" stroke-dasharray="0.9,1.6"/>
<line x1="484.3" y1="144.62" x2="781.3" y2="144.62" stroke="#999" stroke-width="0.75" stroke-dasharray="0.9,1.6"/>
<line x1="484.3" y1="136.2" x2="781.3" y2="136.2" stroke="#999" stroke-width="0.75" stroke-dasharray="0.9,1.6"/>
<line x1="484.3" y1="127.78" x2="781.3" y2="127.78" stroke="#999" stroke-width="0.75" stroke-dasharray="0.9,1.6"/>
<line x1="484.3" y1="119.36" x2="781.3" y2="119.36" stroke="#999" stroke-width="0.75" stroke-dasharray="0.9,1.6"/>
<line x1="484.3" y1="110.94" x2="781.3" y2="110.94" stroke="#999" stroke-width="0.75" stroke-dasharray="0.9,1.6"/>
<line x1="484.3" y1="102.52" x2="781.3" y2="102.52" stroke="#999" stroke-width="0.75" stroke-dasharray="0.9,1.6"/>
<line x1="484.3" y1="94.1" x2="781.3" y2="94.1" stroke="#999" stroke-width="0.75" stroke-dasharray="0.9,1.6"/>
<line x1="484.3" y1="85.68" x2="781.3" y2="85.68" stroke="#999" stroke-width="0.75" stroke-dasharray="0.9,1.6"/>
<line x1="484.3" y1="77.26" x2="781.3" y2="77.26" stroke="#999" stroke-width="0.75" stroke-dasharray="0.9,1.6"/>
<line x1="484.3" y1="68.84" x2="781.3" y2="68.84" stroke="#999" stroke-width="0.75" stroke-dasharray="0.9,1.6"/>
<line x1="484.3" y1="60.42" x2="781.3" y2="60.42" stroke="#999" stroke-width="0.75" stroke-dasharray="0.9,1.6"/>
<line x1="484.3" y1="52" x2="781.3" y2="52" stroke="#999" stroke-width="0.75" stroke-dasharray="0.9,1.6"/>
<line x1="484.3" y1="43.58" x2="781.3" y2="43.58" stroke="#999" stroke-width="0.75" stroke-dasharray="0.9,1.6"/>
<line x1="484.3" y1="35.16" x2="781.3" y2="35.16" stroke="#999" stroke-width="0.75" stroke-dasharray="0.9,1.6"/>
<line x1="484.3" y1="26.74" x2="781.3" y2="26.74" stroke="#999" stroke-width="0.75" stroke-dasharray="0.9,1.6"/>
<line x1="484.3" y1="18.32" x2="781.3" y2="18.32" stroke="#999" stroke-width="0.75" stroke-dasharray="0.9,1.6"/>
<line x1="484.3" y1="9.9" x2="781.3" y2="9.9" stroke="#999" stroke-width="0.75" stroke-dasharray="0.9,1.6"/>
<line x1="509.36" y1="9.3" x2="509.36" y2="181.0" stroke="#a4a4a4" stroke-width="0.8" stroke-dasharray="0.9,1.5"/>
<circle cx="509.36" cy="169.88" r="0.9" fill="#fff" stroke="#c4c4c4" stroke-width="0.5"/>
<circle cx="509.36" cy="161.46" r="0.9" fill="#fff" stroke="#c4c4c4" stroke-width="0.5"/>
<circle cx="509.36" cy="153.04" r="0.9" fill="#fff" stroke="#c4c4c4" stroke-width="0.5"/>
<circle cx="509.36" cy="144.62" r="0.9" fill="#fff" stroke="#c4c4c4" stroke-width="0.5"/>
<circle cx="509.36" cy="136.2" r="0.9" fill="#fff" stroke="#c4c4c4" stroke-width="0.5"/>
<circle cx="509.36" cy="127.78" r="0.9" fill="#fff" stroke="#c4c4c4" stroke-width="0.5"/>
<circle cx="509.36" cy="119.36" r="0.9" fill="#fff" stroke="#c4c4c4" stroke-width="0.5"/>
<circle cx="509.36" cy="110.94" r="0.9" fill="#fff" stroke="#c4c4c4" stroke-width="0.5"/>
<circle cx="509.36" cy="102.52" r="0.9" fill="#fff" stroke="#c4c4c4" stroke-width="0.5"/>
<circle cx="509.36" cy="94.1" r="0.9" fill="#fff" stroke="#c4c4c4" stroke-width="0.5"/>
<circle cx="509.36" cy="85.68" r="0.9" fill="#fff" stroke="#c4c4c4" stroke-width="0.5"/>
<circle cx="509.36" cy="77.26" r="0.9" fill="#fff" stroke="#c4c4c4" stroke-width="0.5"/>
<circle cx="509.36" cy="68.84" r="0.9" fill="#fff" stroke="#c4c4c4" stroke-width="0.5"/>
<circle cx="509.36" cy="60.42" r="0.9" fill="#fff" stroke="#c4c4c4" stroke-width="0.5"/>
<circle cx="509.36" cy="52" r="0.9" fill="#fff" stroke="#c4c4c4" stroke-width="0.5"/>
<circle cx="509.36" cy="43.58" r="0.9" fill="#fff" stroke="#c4c4c4" stroke-width="0.5"/>
<circle cx="509.36" cy="35.16" r="0.9" fill="#fff" stroke="#c4c4c4" stroke-width="0.5"/>
<circle cx="509.36" cy="26.74" r="0.9" fill="#fff" stroke="#c4c4c4" stroke-width="0.5"/>
<circle cx="509.36" cy="18.32" r="0.9" fill="#fff" stroke="#c4c4c4" stroke-width="0.5"/>
<line x1="534.33" y1="9.3" x2="534.33" y2="181.0" stroke="#a4a4a4" stroke-width="0.8" stroke-dasharray="0.9,1.5"/>
<circle cx="534.33" cy="169.88" r="0.9" fill="#fff" stroke="#c4c4c4" stroke-width="0.5"/>
<circle cx="534.33" cy="161.46" r="0.9" fill="#fff" stroke="#c4c4c4" stroke-width="0.5"/>
<circle cx="534.33" cy="153.04" r="0.9" fill="#fff" stroke="#c4c4c4" stroke-width="0.5"/>
<circle cx="534.33" cy="144.62" r="0.9" fill="#fff" stroke="#c4c4c4" stroke-width="0.5"/>
<circle cx="534.33" cy="136.2" r="0.9" fill="#fff" stroke="#c4c4c4" stroke-width="0.5"/>
<circle cx="534.33" cy="127.78" r="0.9" fill="#fff" stroke="#c4c4c4" stroke-width="0.5"/>
<circle cx="534.33" cy="119.36" r="0.9" fill="#fff" stroke="#c4c4c4" stroke-width="0.5"/>
<circle cx="534.33" cy="110.94" r="0.9" fill="#fff" stroke="#c4c4c4" stroke-width="0.5"/>
<circle cx="534.33" cy="102.52" r="0.9" fill="#fff" stroke="#c4c4c4" stroke-width="0.5"/>
<circle cx="534.33" cy="94.1" r="0.9" fill="#fff" stroke="#c4c4c4" stroke-width="0.5"/>
<circle cx="534.33" cy="85.68" r="0.9" fill="#fff" stroke="#c4c4c4" stroke-width="0.5"/>
<circle cx="534.33" cy="77.26" r="0.9" fill="#fff" stroke="#c4c4c4" stroke-width="0.5"/>
<circle cx="534.33" cy="68.84" r="0.9" fill="#fff" stroke="#c4c4c4" stroke-width="0.5"/>
<circle cx="534.33" cy="60.42" r="0.9" fill="#fff" stroke="#c4c4c4" stroke-width="0.5"/>
<circle cx="534.33" cy="52" r="0.9" fill="#fff" stroke="#c4c4c4" stroke-width="0.5"/>
<circle cx="534.33" cy="43.58" r="0.9" fill="#fff" stroke="#c4c4c4" stroke-width="0.5"/>
<circle cx="534.33" cy="35.16" r="0.9" fill="#fff" stroke="#c4c4c4" stroke-width="0.5"/>
<circle cx="534.33" cy="26.74" r="0.9" fill="#fff" stroke="#c4c4c4" stroke-width="0.5"/>
<circle cx="534.33" cy="18.32" r="0.9" fill="#fff" stroke="#c4c4c4" stroke-width="0.5"/>
<line x1="559.29" y1="9.3" x2="559.29" y2="181.0" stroke="#a4a4a4" stroke-width="0.8" stroke-dasharray="0.9,1.5"/>
<circle cx="559.29" cy="169.88" r="0.9" fill="#fff" stroke="#c4c4c4" stroke-width="0.5"/>
<circle cx="559.29" cy="161.46" r="0.9" fill="#fff" stroke="#c4c4c4" stroke-width="0.5"/>
<circle cx="559.29" cy="153.04" r="0.9" fill="#fff" stroke="#c4c4c4" stroke-width="0.5"/>
<circle cx="559.29" cy="144.62" r="0.9" fill="#fff" stroke="#c4c4c4" stroke-width="0.5"/>
<circle cx="559.29" cy="136.2" r="0.9" fill="#fff" stroke="#c4c4c4" stroke-width="0.5"/>
<circle cx="559.29" cy="127.78" r="0.9" fill="#fff" stroke="#c4c4c4" stroke-width="0.5"/>
<circle cx="559.29" cy="119.36" r="0.9" fill="#fff" stroke="#c4c4c4" stroke-width="0.5"/>
<circle cx="559.29" cy="110.94" r="0.9" fill="#fff" stroke="#c4c4c4" stroke-width="0.5"/>
<circle cx="559.29" cy="102.52" r="0.9" fill="#fff" stroke="#c4c4c4" stroke-width="0.5"/>
<circle cx="559.29" cy="94.1" r="0.9" fill="#fff" stroke="#c4c4c4" stroke-width="0.5"/>
<circle cx="559.29" cy="85.68" r="0.9" fill="#fff" stroke="#c4c4c4" stroke-width="0.5"/>
<circle cx="559.29" cy="77.26" r="0.9" fill="#fff" stroke="#c4c4c4" stroke-width="0.5"/>
<circle cx="559.29" cy="68.84" r="0.9" fill="#fff" stroke="#c4c4c4" stroke-width="0.5"/>
<circle cx="559.29" cy="60.42" r="0.9" fill="#fff" stroke="#c4c4c4" stroke-width="0.5"/>
<circle cx="559.29" cy="52" r="0.9" fill="#fff" stroke="#c4c4c4" stroke-width="0.5"/>
<circle cx="559.29" cy="43.58" r="0.9" fill="#fff" stroke="#c4c4c4" stroke-width="0.5"/>
<circle cx="559.29" cy="35.16" r="0.9" fill="#fff" stroke="#c4c4c4" stroke-width="0.5"/>
<circle cx="559.29" cy="26.74" r="0.9" fill="#fff" stroke="#c4c4c4" stroke-width="0.5"/>
<circle cx="559.29" cy="18.32" r="0.9" fill="#fff" stroke="#c4c4c4" stroke-width="0.5"/>
<line x1="584.26" y1="9.3" x2="584.26" y2="181.0" stroke="#a4a4a4" stroke-width="0.8" stroke-dasharray="0.9,1.5"/>
<circle cx="584.26" cy="169.88" r="0.9" fill="#fff" stroke="#c4c4c4" stroke-width="0.5"/>
<circle cx="584.26" cy="161.46" r="0.9" fill="#fff" stroke="#c4c4c4" stroke-width="0.5"/>
<circle cx="584.26" cy="153.04" r="0.9" fill="#fff" stroke="#c4c4c4" stroke-width="0.5"/>
<circle cx="584.26" cy="144.62" r="0.9" fill="#fff" stroke="#c4c4c4" stroke-width="0.5"/>
<circle cx="584.26" cy="136.2" r="0.9" fill="#fff" stroke="#c4c4c4" stroke-width="0.5"/>
<circle cx="584.26" cy="127.78" r="0.9" fill="#fff" stroke="#c4c4c4" stroke-width="0.5"/>
<circle cx="584.26" cy="119.36" r="0.9" fill="#fff" stroke="#c4c4c4" stroke-width="0.5"/>
<circle cx="584.26" cy="110.94" r="0.9" fill="#fff" stroke="#c4c4c4" stroke-width="0.5"/>
<circle cx="584.26" cy="102.52" r="0.9" fill="#fff" stroke="#c4c4c4" stroke-width="0.5"/>
<circle cx="584.26" cy="94.1" r="0.9" fill="#fff" stroke="#c4c4c4" stroke-width="0.5"/>
<circle cx="584.26" cy="85.68" r="0.9" fill="#fff" stroke="#c4c4c4" stroke-width="0.5"/>
<circle cx="584.26" cy="77.26" r="0.9" fill="#fff" stroke="#c4c4c4" stroke-width="0.5"/>
<circle cx="584.26" cy="68.84" r="0.9" fill="#fff" stroke="#c4c4c4" stroke-width="0.5"/>
<circle cx="584.26" cy="60.42" r="0.9" fill="#fff" stroke="#c4c4c4" stroke-width="0.5"/>
<circle cx="584.26" cy="52" r="0.9" fill="#fff" stroke="#c4c4c4" stroke-width="0.5"/>
<circle cx="584.26" cy="43.58" r="0.9" fill="#fff" stroke="#c4c4c4" stroke-width="0.5"/>
<circle cx="584.26" cy="35.16" r="0.9" fill="#fff" stroke="#c4c4c4" stroke-width="0.5"/>
<circle cx="584.26" cy="26.74" r="0.9" fill="#fff" stroke="#c4c4c4" stroke-width="0.5"/>
<circle cx="584.26" cy="18.32" r="0.9" fill="#fff" stroke="#c4c4c4" stroke-width="0.5"/>
<line x1="609.23" y1="9.3" x2="609.23" y2="181.0" stroke="#a4a4a4" stroke-width="0.8" stroke-dasharray="0.9,1.5"/>
<circle cx="609.23" cy="169.88" r="0.9" fill="#fff" stroke="#c4c4c4" stroke-width="0.5"/>
<circle cx="609.23" cy="161.46" r="0.9" fill="#fff" stroke="#c4c4c4" stroke-width="0.5"/>
<circle cx="609.23" cy="153.04" r="0.9" fill="#fff" stroke="#c4c4c4" stroke-width="0.5"/>
<circle cx="609.23" cy="144.62" r="0.9" fill="#fff" stroke="#c4c4c4" stroke-width="0.5"/>
<circle cx="609.23" cy="136.2" r="0.9" fill="#fff" stroke="#c4c4c4" stroke-width="0.5"/>
<circle cx="609.23" cy="127.78" r="0.9" fill="#fff" stroke="#c4c4c4" stroke-width="0.5"/>
<circle cx="609.23" cy="119.36" r="0.9" fill="#fff" stroke="#c4c4c4" stroke-width="0.5"/>
<circle cx="609.23" cy="110.94" r="0.9" fill="#fff" stroke="#c4c4c4" stroke-width="0.5"/>
<circle cx="609.23" cy="102.52" r="0.9" fill="#fff" stroke="#c4c4c4" stroke-width="0.5"/>
<circle cx="609.23" cy="94.1" r="0.9" fill="#fff" stroke="#c4c4c4" stroke-width="0.5"/>
<circle cx="609.23" cy="85.68" r="0.9" fill="#fff" stroke="#c4c4c4" stroke-width="0.5"/>
<circle cx="609.23" cy="77.26" r="0.9" fill="#fff" stroke="#c4c4c4" stroke-width="0.5"/>
<circle cx="609.23" cy="68.84" r="0.9" fill="#fff" stroke="#c4c4c4" stroke-width="0.5"/>
<circle cx="609.23" cy="60.42" r="0.9" fill="#fff" stroke="#c4c4c4" stroke-width="0.5"/>
<circle cx="609.23" cy="52" r="0.9" fill="#fff" stroke="#c4c4c4" stroke-width="0.5"/>
<circle cx="609.23" cy="43.58" r="0.9" fill="#fff" stroke="#c4c4c4" stroke-width="0.5"/>
<circle cx="609.23" cy="35.16" r="0.9" fill="#fff" stroke="#c4c4c4" stroke-width="0.5"/>
<circle cx="609.23" cy="26.74" r="0.9" fill="#fff" stroke="#c4c4c4" stroke-width="0.5"/>
<circle cx="609.23" cy="18.32" r="0.9" fill="#fff" stroke="#c4c4c4" stroke-width="0.5"/>
<line x1="634.19" y1="9.3" x2="634.19" y2="181.0" stroke="#a4a4a4" stroke-width="0.8" stroke-dasharray="0.9,1.5"/>
<circle cx="634.19" cy="169.88" r="0.9" fill="#fff" stroke="#c4c4c4" stroke-width="0.5"/>
<circle cx="634.19" cy="161.46" r="0.9" fill="#fff" stroke="#c4c4c4" stroke-width="0.5"/>
<circle cx="634.19" cy="153.04" r="0.9" fill="#fff" stroke="#c4c4c4" stroke-width="0.5"/>
<circle cx="634.19" cy="144.62" r="0.9" fill="#fff" stroke="#c4c4c4" stroke-width="0.5"/>
<circle cx="634.19" cy="136.2" r="0.9" fill="#fff" stroke="#c4c4c4" stroke-width="0.5"/>
<circle cx="634.19" cy="127.78" r="0.9" fill="#fff" stroke="#c4c4c4" stroke-width="0.5"/>
<circle cx="634.19" cy="119.36" r="0.9" fill="#fff" stroke="#c4c4c4" stroke-width="0.5"/>
<circle cx="634.19" cy="110.94" r="0.9" fill="#fff" stroke="#c4c4c4" stroke-width="0.5"/>
<circle cx="634.19" cy="102.52" r="0.9" fill="#fff" stroke="#c4c4c4" stroke-width="0.5"/>
<circle cx="634.19" cy="94.1" r="0.9" fill="#fff" stroke="#c4c4c4" stroke-width="0.5"/>
<circle cx="634.19" cy="85.68" r="0.9" fill="#fff" stroke="#c4c4c4" stroke-width="0.5"/>
<circle cx="634.19" cy="77.26" r="0.9" fill="#fff" stroke="#c4c4c4" stroke-width="0.5"/>
<circle cx="634.19" cy="68.84" r="0.9" fill="#fff" stroke="#c4c4c4" stroke-width="0.5"/>
<circle cx="634.19" cy="60.42" r="0.9" fill="#fff" stroke="#c4c4c4" stroke-width="0.5"/>
<circle cx="634.19" cy="52" r="0.9" fill="#fff" stroke="#c4c4c4" stroke-width="0.5"/>
<circle cx="634.19" cy="43.58" r="0.9" fill="#fff" stroke="#c4c4c4" stroke-width="0.5"/>
<circle cx="634.19" cy="35.16" r="0.9" fill="#fff" stroke="#c4c4c4" stroke-width="0.5"/>
<circle cx="634.19" cy="26.74" r="0.9" fill="#fff" stroke="#c4c4c4" stroke-width="0.5"/>
<circle cx="634.19" cy="18.32" r="0.9" fill="#fff" stroke="#c4c4c4" stroke-width="0.5"/>
<line x1="659.15" y1="9.3" x2="659.15" y2="181.0" stroke="#a4a4a4" stroke-width="0.8" stroke-dasharray="0.9,1.5"/>
<circle cx="659.15" cy="169.88" r="0.9" fill="#fff" stroke="#c4c4c4" stroke-width="0.5"/>
<circle cx="659.15" cy="161.46" r="0.9" fill="#fff" stroke="#c4c4c4" stroke-width="0.5"/>
<circle cx="659.15" cy="153.04" r="0.9" fill="#fff" stroke="#c4c4c4" stroke-width="0.5"/>
<circle cx="659.15" cy="144.62" r="0.9" fill="#fff" stroke="#c4c4c4" stroke-width="0.5"/>
<circle cx="659.15" cy="136.2" r="0.9" fill="#fff" stroke="#c4c4c4" stroke-width="0.5"/>
<circle cx="659.15" cy="127.78" r="0.9" fill="#fff" stroke="#c4c4c4" stroke-width="0.5"/>
<circle cx="659.15" cy="119.36" r="0.9" fill="#fff" stroke="#c4c4c4" stroke-width="0.5"/>
<circle cx="659.15" cy="110.94" r="0.9" fill="#fff" stroke="#c4c4c4" stroke-width="0.5"/>
<circle cx="659.15" cy="102.52" r="0.9" fill="#fff" stroke="#c4c4c4" stroke-width="0.5"/>
<circle cx="659.15" cy="94.1" r="0.9" fill="#fff" stroke="#c4c4c4" stroke-width="0.5"/>
<circle cx="659.15" cy="85.68" r="0.9" fill="#fff" stroke="#c4c4c4" stroke-width="0.5"/>
<circle cx="659.15" cy="77.26" r="0.9" fill="#fff" stroke="#c4c4c4" stroke-width="0.5"/>
<circle cx="659.15" cy="68.84" r="0.9" fill="#fff" stroke="#c4c4c4" stroke-width="0.5"/>
<circle cx="659.15" cy="60.42" r="0.9" fill="#fff" stroke="#c4c4c4" stroke-width="0.5"/>
<circle cx="659.15" cy="52" r="0.9" fill="#fff" stroke="#c4c4c4" stroke-width="0.5"/>
<circle cx="659.15" cy="43.58" r="0.9" fill="#fff" stroke="#c4c4c4" stroke-width="0.5"/>
<circle cx="659.15" cy="35.16" r="0.9" fill="#fff" stroke="#c4c4c4" stroke-width="0.5"/>
<circle cx="659.15" cy="26.74" r="0.9" fill="#fff" stroke="#c4c4c4" stroke-width="0.5"/>
<circle cx="659.15" cy="18.32" r="0.9" fill="#fff" stroke="#c4c4c4" stroke-width="0.5"/>
<line x1="684.12" y1="9.3" x2="684.12" y2="181.0" stroke="#a4a4a4" stroke-width="0.8" stroke-dasharray="0.9,1.5"/>
<circle cx="684.12" cy="169.88" r="0.9" fill="#fff" stroke="#c4c4c4" stroke-width="0.5"/>
<circle cx="684.12" cy="161.46" r="0.9" fill="#fff" stroke="#c4c4c4" stroke-width="0.5"/>
<circle cx="684.12" cy="153.04" r="0.9" fill="#fff" stroke="#c4c4c4" stroke-width="0.5"/>
<circle cx="684.12" cy="144.62" r="0.9" fill="#fff" stroke="#c4c4c4" stroke-width="0.5"/>
<circle cx="684.12" cy="136.2" r="0.9" fill="#fff" stroke="#c4c4c4" stroke-width="0.5"/>
<circle cx="684.12" cy="127.78" r="0.9" fill="#fff" stroke="#c4c4c4" stroke-width="0.5"/>
<circle cx="684.12" cy="119.36" r="0.9" fill="#fff" stroke="#c4c4c4" stroke-width="0.5"/>
<circle cx="684.12" cy="110.94" r="0.9" fill="#fff" stroke="#c4c4c4" stroke-width="0.5"/>
<circle cx="684.12" cy="102.52" r="0.9" fill="#fff" stroke="#c4c4c4" stroke-width="0.5"/>
<circle cx="684.12" cy="94.1" r="0.9" fill="#fff" stroke="#c4c4c4" stroke-width="0.5"/>
<circle cx="684.12" cy="85.68" r="0.9" fill="#fff" stroke="#c4c4c4" stroke-width="0.5"/>
<circle cx="684.12" cy="77.26" r="0.9" fill="#fff" stroke="#c4c4c4" stroke-width="0.5"/>
<circle cx="684.12" cy="68.84" r="0.9" fill="#fff" stroke="#c4c4c4" stroke-width="0.5"/>
<circle cx="684.12" cy="60.42" r="0.9" fill="#fff" stroke="#c4c4c4" stroke-width="0.5"/>
<circle cx="684.12" cy="52" r="0.9" fill="#fff" stroke="#c4c4c4" stroke-width="0.5"/>
<circle cx="684.12" cy="43.58" r="0.9" fill="#fff" stroke="#c4c4c4" stroke-width="0.5"/>
<circle cx="684.12" cy="35.16" r="0.9" fill="#fff" stroke="#c4c4c4" stroke-width="0.5"/>
<circle cx="684.12" cy="26.74" r="0.9" fill="#fff" stroke="#c4c4c4" stroke-width="0.5"/>
<circle cx="684.12" cy="18.32" r="0.9" fill="#fff" stroke="#c4c4c4" stroke-width="0.5"/>
<line x1="709.09" y1="9.3" x2="709.09" y2="181.0" stroke="#a4a4a4" stroke-width="0.8" stroke-dasharray="0.9,1.5"/>
<circle cx="709.09" cy="169.88" r="0.9" fill="#fff" stroke="#c4c4c4" stroke-width="0.5"/>
<circle cx="709.09" cy="161.46" r="0.9" fill="#fff" stroke="#c4c4c4" stroke-width="0.5"/>
<circle cx="709.09" cy="153.04" r="0.9" fill="#fff" stroke="#c4c4c4" stroke-width="0.5"/>
<circle cx="709.09" cy="144.62" r="0.9" fill="#fff" stroke="#c4c4c4" stroke-width="0.5"/>
<circle cx="709.09" cy="136.2" r="0.9" fill="#fff" stroke="#c4c4c4" stroke-width="0.5"/>
<circle cx="709.09" cy="127.78" r="0.9" fill="#fff" stroke="#c4c4c4" stroke-width="0.5"/>
<circle cx="709.09" cy="119.36" r="0.9" fill="#fff" stroke="#c4c4c4" stroke-width="0.5"/>
<circle cx="709.09" cy="110.94" r="0.9" fill="#fff" stroke="#c4c4c4" stroke-width="0.5"/>
<circle cx="709.09" cy="102.52" r="0.9" fill="#fff" stroke="#c4c4c4" stroke-width="0.5"/>
<circle cx="709.09" cy="94.1" r="0.9" fill="#fff" stroke="#c4c4c4" stroke-width="0.5"/>
<circle cx="709.09" cy="85.68" r="0.9" fill="#fff" stroke="#c4c4c4" stroke-width="0.5"/>
<circle cx="709.09" cy="77.26" r="0.9" fill="#fff" stroke="#c4c4c4" stroke-width="0.5"/>
<circle cx="709.09" cy="68.84" r="0.9" fill="#fff" stroke="#c4c4c4" stroke-width="0.5"/>
<circle cx="709.09" cy="60.42" r="0.9" fill="#fff" stroke="#c4c4c4" stroke-width="0.5"/>
<circle cx="709.09" cy="52" r="0.9" fill="#fff" stroke="#c4c4c4" stroke-width="0.5"/>
<circle cx="709.09" cy="43.58" r="0.9" fill="#fff" stroke="#c4c4c4" stroke-width="0.5"/>
<circle cx="709.09" cy="35.16" r="0.9" fill="#fff" stroke="#c4c4c4" stroke-width="0.5"/>
<circle cx="709.09" cy="26.74" r="0.9" fill="#fff" stroke="#c4c4c4" stroke-width="0.5"/>
<circle cx="709.09" cy="18.32" r="0.9" fill="#fff" stroke="#c4c4c4" stroke-width="0.5"/>
<line x1="734.05" y1="9.3" x2="734.05" y2="181.0" stroke="#a4a4a4" stroke-width="0.8" stroke-dasharray="0.9,1.5"/>
<circle cx="734.05" cy="169.88" r="0.9" fill="#fff" stroke="#c4c4c4" stroke-width="0.5"/>
<circle cx="734.05" cy="161.46" r="0.9" fill="#fff" stroke="#c4c4c4" stroke-width="0.5"/>
<circle cx="734.05" cy="153.04" r="0.9" fill="#fff" stroke="#c4c4c4" stroke-width="0.5"/>
<circle cx="734.05" cy="144.62" r="0.9" fill="#fff" stroke="#c4c4c4" stroke-width="0.5"/>
<circle cx="734.05" cy="136.2" r="0.9" fill="#fff" stroke="#c4c4c4" stroke-width="0.5"/>
<circle cx="734.05" cy="127.78" r="0.9" fill="#fff" stroke="#c4c4c4" stroke-width="0.5"/>
<circle cx="734.05" cy="119.36" r="0.9" fill="#fff" stroke="#c4c4c4" stroke-width="0.5"/>
<circle cx="734.05" cy="110.94" r="0.9" fill="#fff" stroke="#c4c4c4" stroke-width="0.5"/>
<circle cx="734.05" cy="102.52" r="0.9" fill="#fff" stroke="#c4c4c4" stroke-width="0.5"/>
<circle cx="734.05" cy="94.1" r="0.9" fill="#fff" stroke="#c4c4c4" stroke-width="0.5"/>
<circle cx="734.05" cy="85.68" r="0.9" fill="#fff" stroke="#c4c4c4" stroke-width="0.5"/>
<circle cx="734.05" cy="77.26" r="0.9" fill="#fff" stroke="#c4c4c4" stroke-width="0.5"/>
<circle cx="734.05" cy="68.84" r="0.9" fill="#fff" stroke="#c4c4c4" stroke-width="0.5"/>
<circle cx="734.05" cy="60.42" r="0.9" fill="#fff" stroke="#c4c4c4" stroke-width="0.5"/>
<circle cx="734.05" cy="52" r="0.9" fill="#fff" stroke="#c4c4c4" stroke-width="0.5"/>
<circle cx="734.05" cy="43.58" r="0.9" fill="#fff" stroke="#c4c4c4" stroke-width="0.5"/>
<circle cx="734.05" cy="35.16" r="0.9" fill="#fff" stroke="#c4c4c4" stroke-width="0.5"/>
<circle cx="734.05" cy="26.74" r="0.9" fill="#fff" stroke="#c4c4c4" stroke-width="0.5"/>
<circle cx="734.05" cy="18.32" r="0.9" fill="#fff" stroke="#c4c4c4" stroke-width="0.5"/>
<line x1="759.01" y1="9.3" x2="759.01" y2="181.0" stroke="#a4a4a4" stroke-width="0.8" stroke-dasharray="0.9,1.5"/>
<circle cx="759.01" cy="169.88" r="0.9" fill="#fff" stroke="#c4c4c4" stroke-width="0.5"/>
<circle cx="759.01" cy="161.46" r="0.9" fill="#fff" stroke="#c4c4c4" stroke-width="0.5"/>
<circle cx="759.01" cy="153.04" r="0.9" fill="#fff" stroke="#c4c4c4" stroke-width="0.5"/>
<circle cx="759.01" cy="144.62" r="0.9" fill="#fff" stroke="#c4c4c4" stroke-width="0.5"/>
<circle cx="759.01" cy="136.2" r="0.9" fill="#fff" stroke="#c4c4c4" stroke-width="0.5"/>
<circle cx="759.01" cy="127.78" r="0.9" fill="#fff" stroke="#c4c4c4" stroke-width="0.5"/>
<circle cx="759.01" cy="119.36" r="0.9" fill="#fff" stroke="#c4c4c4" stroke-width="0.5"/>
<circle cx="759.01" cy="110.94" r="0.9" fill="#fff" stroke="#c4c4c4" stroke-width="0.5"/>
<circle cx="759.01" cy="102.52" r="0.9" fill="#fff" stroke="#c4c4c4" stroke-width="0.5"/>
<circle cx="759.01" cy="94.1" r="0.9" fill="#fff" stroke="#c4c4c4" stroke-width="0.5"/>
<circle cx="759.01" cy="85.68" r="0.9" fill="#fff" stroke="#c4c4c4" stroke-width="0.5"/>
<circle cx="759.01" cy="77.26" r="0.9" fill="#fff" stroke="#c4c4c4" stroke-width="0.5"/>
<circle cx="759.01" cy="68.84" r="0.9" fill="#fff" stroke="#c4c4c4" stroke-width="0.5"/>
<circle cx="759.01" cy="60.42" r="0.9" fill="#fff" stroke="#c4c4c4" stroke-width="0.5"/>
<circle cx="759.01" cy="52" r="0.9" fill="#fff" stroke="#c4c4c4" stroke-width="0.5"/>
<circle cx="759.01" cy="43.58" r="0.9" fill="#fff" stroke="#c4c4c4" stroke-width="0.5"/>
<circle cx="759.01" cy="35.16" r="0.9" fill="#fff" stroke="#c4c4c4" stroke-width="0.5"/>
<circle cx="759.01" cy="26.74" r="0.9" fill="#fff" stroke="#c4c4c4" stroke-width="0.5"/>
<circle cx="759.01" cy="18.32" r="0.9" fill="#fff" stroke="#c4c4c4" stroke-width="0.5"/>
<line x1="484.3" y1="9.3" x2="781.3" y2="9.3" stroke="#a08060" stroke-width="0.9" stroke-dasharray="1.5,1"/>
<line x1="781.3" y1="9.3" x2="781.3" y2="181.0" stroke="#d8b090" stroke-width="1"/>
<line x1="484.3" y1="181.0" x2="781.3" y2="181.0" stroke="#806450" stroke-width="1"/>
<line x1="484.3" y1="9.3" x2="484.3" y2="181.0" stroke="#776" stroke-width="0.8"/>
<line x1="481.8" y1="178.3" x2="484.3" y2="178.3" stroke="#555" stroke-width="0.4"/>
<line x1="482.8" y1="176.62" x2="484.3" y2="176.62" stroke="#555" stroke-width="0.4"/>
<line x1="482.8" y1="174.93" x2="484.3" y2="174.93" stroke="#555" stroke-width="0.4"/>
<line x1="482.8" y1="173.25" x2="484.3" y2="173.25" stroke="#555" stroke-width="0.4"/>
<line x1="482.8" y1="171.56" x2="484.3" y2="171.56" stroke="#555" stroke-width="0.4"/>
<line x1="481.8" y1="169.88" x2="484.3" y2="169.88" stroke="#555" stroke-width="0.4"/>
<line x1="482.8" y1="168.2" x2="484.3" y2="168.2" stroke="#555" stroke-width="0.4"/>
<line x1="482.8" y1="166.51" x2="484.3" y2="166.51" stroke="#555" stroke-width="0.4"/>
<line x1="482.8" y1="164.83" x2="484.3" y2="164.83" stroke="#555" stroke-width="0.4"/>
<line x1="482.8" y1="163.14" x2="484.3" y2="163.14" stroke="#555" stroke-width="0.4"/>
<line x1="481.8" y1="161.46" x2="484.3" y2="161.46" stroke="#555" stroke-width="0.4"/>
<line x1="482.8" y1="159.78" x2="484.3" y2="159.78" stroke="#555" stroke-width="0.4"/>
<line x1="482.8" y1="158.09" x2="484.3" y2="158.09" stroke="#555" stroke-width="0.4"/>
<line x1="482.8" y1="156.41" x2="484.3" y2="156.41" stroke="#555" stroke-width="0.4"/>
<line x1="482.8" y1="154.72" x2="484.3" y2="154.72" stroke="#555" stroke-width="0.4"/>
<line x1="481.8" y1="153.04" x2="484.3" y2="153.04" stroke="#555" stroke-width="0.4"/>
<line x1="482.8" y1="151.36" x2="484.3" y2="151.36" stroke="#555" stroke-width="0.4"/>
<line x1="482.8" y1="149.67" x2="484.3" y2="149.67" stroke="#555" stroke-width="0.4"/>
<line x1="482.8" y1="147.99" x2="484.3" y2="147.99" stroke="#555" stroke-width="0.4"/>
<line x1="482.8" y1="146.3" x2="484.3" y2="146.3" stroke="#555" stroke-width="0.4"/>
<line x1="481.8" y1="144.62" x2="484.3" y2="144.62" stroke="#555" stroke-width="0.4"/>
<line x1="482.8" y1="142.94" x2="484.3" y2="142.94" stroke="#555" stroke-width="0.4"/>
<line x1="482.8" y1="141.25" x2="484.3" y2="141.25" stroke="#555" stroke-width="0.4"/>
<line x1="482.8" y1="139.57" x2="484.3" y2="139.57" stroke="#555" stroke-width="0.4"/>
<line x1="482.8" y1="137.88" x2="484.3" y2="137.88" stroke="#555" stroke-width="0.4"/>
<line x1="481.8" y1="136.2" x2="484.3" y2="136.2" stroke="#555" stroke-width="0.4"/>
<line x1="482.8" y1="134.52" x2="484.3" y2="134.52" stroke="#555" stroke-width="0.4"/>
<line x1="482.8" y1="132.83" x2="484.3" y2="132.83" stroke="#555" stroke-width="0.4"/>
<line x1="482.8" y1="131.15" x2="484.3" y2="131.15" stroke="#555" stroke-width="0.4"/>
<line x1="482.8" y1="129.46" x2="484.3" y2="129.46" stroke="#555" stroke-width="0.4"/>
<line x1="481.8" y1="127.78" x2="484.3" y2="127.78" stroke="#555" stroke-width="0.4"/>
<line x1="482.8" y1="126.1" x2="484.3" y2="126.1" stroke="#555" stroke-width="0.4"/>
<line x1="482.8" y1="124.41" x2="484.3" y2="124.41" stroke="#555" stroke-width="0.4"/>
<line x1="482.8" y1="122.73" x2="484.3" y2="122.73" stroke="#555" stroke-width="0.4"/>
<line x1="482.8" y1="121.04" x2="484.3" y2="121.04" stroke="#555" stroke-width="0.4"/>
<line x1="481.8" y1="119.36" x2="484.3" y2="119.36" stroke="#555" stroke-width="0.4"/>
<line x1="482.8" y1="117.68" x2="484.3" y2="117.68" stroke="#555" stroke-width="0.4"/>
<line x1="482.8" y1="115.99" x2="484.3" y2="115.99" stroke="#555" stroke-width="0.4"/>
<line x1="482.8" y1="114.31" x2="484.3" y2="114.31" stroke="#555" stroke-width="0.4"/>
<line x1="482.8" y1="112.62" x2="484.3" y2="112.62" stroke="#555" stroke-width="0.4"/>
<line x1="481.8" y1="110.94" x2="484.3" y2="110.94" stroke="#555" stroke-width="0.4"/>
<line x1="482.8" y1="109.26" x2="484.3" y2="109.26" stroke="#555" stroke-width="0.4"/>
<line x1="482.8" y1="107.57" x2="484.3" y2="107.57" stroke="#555" stroke-width="0.4"/>
<line x1="482.8" y1="105.89" x2="484.3" y2="105.89" stroke="#555" stroke-width="0.4"/>
<line x1="482.8" y1="104.2" x2="484.3" y2="104.2" stroke="#555" stroke-width="0.4"/>
<line x1="481.8" y1="102.52" x2="484.3" y2="102.52" stroke="#555" stroke-width="0.4"/>
<line x1="482.8" y1="100.84" x2="484.3" y2="100.84" stroke="#555" stroke-width="0.4"/>
<line x1="482.8" y1="99.15" x2="484.3" y2="99.15" stroke="#555" stroke-width="0.4"/>
<line x1="482.8" y1="97.47" x2="484.3" y2="97.47" stroke="#555" stroke-width="0.4"/>
<line x1="482.8" y1="95.78" x2="484.3" y2="95.78" stroke="#555" stroke-width="0.4"/>
<line x1="481.8" y1="94.1" x2="484.3" y2="94.1" stroke="#555" stroke-width="0.4"/>
<line x1="482.8" y1="92.42" x2="484.3" y2="92.42" stroke="#555" stroke-width="0.4"/>
<line x1="482.8" y1="90.73" x2="484.3" y2="90.73" stroke="#555" stroke-width="0.4"/>
<line x1="482.8" y1="89.05" x2="484.3" y2="89.05" stroke="#555" stroke-width="0.4"/>
<line x1="482.8" y1="87.36" x2="484.3" y2="87.36" stroke="#555" stroke-width="0.4"/>
<line x1="481.8" y1="85.68" x2="484.3" y2="85.68" stroke="#555" stroke-width="0.4"/>
<line x1="482.8" y1="84" x2="484.3" y2="84" stroke="#555" stroke-width="0.4"/>
<line x1="482.8" y1="82.31" x2="484.3" y2="82.31" stroke="#555" stroke-width="0.4"/>
<line x1="482.8" y1="80.63" x2="484.3" y2="80.63" stroke="#555" stroke-width="0.4"/>
<line x1="482.8" y1="78.94" x2="484.3" y2="78.94" stroke="#555" stroke-width="0.4"/>
<line x1="481.8" y1="77.26" x2="484.3" y2="77.26" stroke="#555" stroke-width="0.4"/>
<line x1="482.8" y1="75.58" x2="484.3" y2="75.58" stroke="#555" stroke-width="0.4"/>
<line x1="482.8" y1="73.89" x2="484.3" y2="73.89" stroke="#555" stroke-width="0.4"/>
<line x1="482.8" y1="72.21" x2="484.3" y2="72.21" stroke="#555" stroke-width="0.4"/>
<line x1="482.8" y1="70.52" x2="484.3" y2="70.52" stroke="#555" stroke-width="0.4"/>
<line x1="481.8" y1="68.84" x2="484.3" y2="68.84" stroke="#555" stroke-width="0.4"/>
<line x1="482.8" y1="67.16" x2="484.3" y2="67.16" stroke="#555" stroke-width="0.4"/>
<line x1="482.8" y1="65.47" x2="484.3" y2="65.47" stroke="#555" stroke-width="0.4"/>
<line x1="482.8" y1="63.79" x2="484.3" y2="63.79" stroke="#555" stroke-width="0.4"/>
<line x1="482.8" y1="62.1" x2="484.3" y2="62.1" stroke="#555" stroke-width="0.4"/>
<line x1="481.8" y1="60.42" x2="484.3" y2="60.42" stroke="#555" stroke-width="0.4"/>
<line x1="482.8" y1="58.74" x2="484.3" y2="58.74" stroke="#555" stroke-width="0.4"/>
<line x1="482.8" y1="57.05" x2="484.3" y2="57.05" stroke="#555" stroke-width="0.4"/>
<line x1="482.8" y1="55.37" x2="484.3" y2="55.37" stroke="#555" stroke-width="0.4"/>
<line x1="482.8" y1="53.68" x2="484.3" y2="53.68" stroke="#555" stroke-width="0.4"/>
<line x1="481.8" y1="52" x2="484.3" y2="52" stroke="#555" stroke-width="0.4"/>
<line x1="482.8" y1="50.32" x2="484.3" y2="50.32" stroke="#555" stroke-width="0.4"/>
<line x1="482.8" y1="48.63" x2="484.3" y2="48.63" stroke="#555" stroke-width="0.4"/>
<line x1="482.8" y1="46.95" x2="484.3" y2="46.95" stroke="#555" stroke-width="0.4"/>
<line x1="482.8" y1="45.26" x2="484.3" y2="45.26" stroke="#555" stroke-width="0.4"/>
<line x1="481.8" y1="43.58" x2="484.3" y2="43.58" stroke="#555" stroke-width="0.4"/>
<line x1="482.8" y1="41.9" x2="484.3" y2="41.9" stroke="#555" stroke-width="0.4"/>
<line x1="482.8" y1="40.21" x2="484.3" y2="40.21" stroke="#555" stroke-width="0.4"/>
<line x1="482.8" y1="38.53" x2="484.3" y2="38.53" stroke="#555" stroke-width="0.4"/>
<line x1="482.8" y1="36.84" x2="484.3" y2="36.84" stroke="#555" stroke-width="0.4"/>
<line x1="481.8" y1="35.16" x2="484.3" y2="35.16" stroke="#555" stroke-width="0.4"/>
<line x1="482.8" y1="33.48" x2="484.3" y2="33.48" stroke="#555" stroke-width="0.4"/>
<line x1="482.8" y1="31.79" x2="484.3" y2="31.79" stroke="#555" stroke-width="0.4"/>
<line x1="482.8" y1="30.11" x2="484.3" y2="30.11" stroke="#555" stroke-width="0.4"/>
<line x1="482.8" y1="28.42" x2="484.3" y2="28.42" stroke="#555" stroke-width="0.4"/>
<line x1="481.8" y1="26.74" x2="484.3" y2="26.74" stroke="#555" stroke-width="0.4"/>
<line x1="482.8" y1="25.06" x2="484.3" y2="25.06" stroke="#555" stroke-width="0.4"/>
<line x1="482.8" y1="23.37" x2="484.3" y2="23.37" stroke="#555" stroke-width="0.4"/>
<line x1="482.8" y1="21.69" x2="484.3" y2="21.69" stroke="#555" stroke-width="0.4"/>
<line x1="482.8" y1="20" x2="484.3" y2="20" stroke="#555" stroke-width="0.4"/>
<line x1="481.8" y1="18.32" x2="484.3" y2="18.32" stroke="#555" stroke-width="0.4"/>
<line x1="482.8" y1="16.64" x2="484.3" y2="16.64" stroke="#555" stroke-width="0.4"/>
<line x1="482.8" y1="14.95" x2="484.3" y2="14.95" stroke="#555" stroke-width="0.4"/>
<line x1="482.8" y1="13.27" x2="484.3" y2="13.27" stroke="#555" stroke-width="0.4"/>
<line x1="482.8" y1="11.58" x2="484.3" y2="11.58" stroke="#555" stroke-width="0.4"/>
<line x1="481.8" y1="9.9" x2="484.3" y2="9.9" stroke="#555" stroke-width="0.4"/>
<line x1="484.4" y1="181.0" x2="484.4" y2="183.0" stroke="#555" stroke-width="0.5"/>
<line x1="489.39" y1="181.0" x2="489.39" y2="183.0" stroke="#555" stroke-width="0.5"/>
<line x1="494.39" y1="181.0" x2="494.39" y2="183.0" stroke="#555" stroke-width="0.5"/>
<line x1="499.38" y1="181.0" x2="499.38" y2="183.0" stroke="#555" stroke-width="0.5"/>
<line x1="504.37" y1="181.0" x2="504.37" y2="183.0" stroke="#555" stroke-width="0.5"/>
<line x1="509.36" y1="181.0" x2="509.36" y2="183.0" stroke="#555" stroke-width="0.5"/>
<line x1="514.36" y1="181.0" x2="514.36" y2="183.0" stroke="#555" stroke-width="0.5"/>
<line x1="519.35" y1="181.0" x2="519.35" y2="183.0" stroke="#555" stroke-width="0.5"/>
<line x1="524.34" y1="181.0" x2="524.34" y2="183.0" stroke="#555" stroke-width="0.5"/>
<line x1="529.34" y1="181.0" x2="529.34" y2="183.0" stroke="#555" stroke-width="0.5"/>
<line x1="534.33" y1="181.0" x2="534.33" y2="183.0" stroke="#555" stroke-width="0.5"/>
<line x1="539.32" y1="181.0" x2="539.32" y2="183.0" stroke="#555" stroke-width="0.5"/>
<line x1="544.32" y1="181.0" x2="544.32" y2="183.0" stroke="#555" stroke-width="0.5"/>
<line x1="549.31" y1="181.0" x2="549.31" y2="183.0" stroke="#555" stroke-width="0.5"/>
<line x1="554.3" y1="181.0" x2="554.3" y2="183.0" stroke="#555" stroke-width="0.5"/>
<line x1="559.29" y1="181.0" x2="559.29" y2="183.0" stroke="#555" stroke-width="0.5"/>
<line x1="564.29" y1="181.0" x2="564.29" y2="183.0" stroke="#555" stroke-width="0.5"/>
<line x1="569.28" y1="181.0" x2="569.28" y2="183.0" stroke="#555" stroke-width="0.5"/>
<line x1="574.27" y1="181.0" x2="574.27" y2="183.0" stroke="#555" stroke-width="0.5"/>
<line x1="579.27" y1="181.0" x2="579.27" y2="183.0" stroke="#555" stroke-width="0.5"/>
<line x1="584.26" y1="181.0" x2="584.26" y2="183.0" stroke="#555" stroke-width="0.5"/>
<line x1="589.25" y1="181.0" x2="589.25" y2="183.0" stroke="#555" stroke-width="0.5"/>
<line x1="594.25" y1="181.0" x2="594.25" y2="183.0" stroke="#555" stroke-width="0.5"/>
<line x1="599.24" y1="181.0" x2="599.24" y2="183.0" stroke="#555" stroke-width="0.5"/>
<line x1="604.23" y1="181.0" x2="604.23" y2="183.0" stroke="#555" stroke-width="0.5"/>
<line x1="609.23" y1="181.0" x2="609.23" y2="183.0" stroke="#555" stroke-width="0.5"/>
<line x1="614.22" y1="181.0" x2="614.22" y2="183.0" stroke="#555" stroke-width="0.5"/>
<line x1="619.21" y1="181.0" x2="619.21" y2="183.0" stroke="#555" stroke-width="0.5"/>
<line x1="624.2" y1="181.0" x2="624.2" y2="183.0" stroke="#555" stroke-width="0.5"/>
<line x1="629.2" y1="181.0" x2="629.2" y2="183.0" stroke="#555" stroke-width="0.5"/>
<line x1="634.19" y1="181.0" x2="634.19" y2="183.0" stroke="#555" stroke-width="0.5"/>
<line x1="639.18" y1="181.0" x2="639.18" y2="183.0" stroke="#555" stroke-width="0.5"/>
<line x1="644.18" y1="181.0" x2="644.18" y2="183.0" stroke="#555" stroke-width="0.5"/>
<line x1="649.17" y1="181.0" x2="649.17" y2="183.0" stroke="#555" stroke-width="0.5"/>
<line x1="654.16" y1="181.0" x2="654.16" y2="183.0" stroke="#555" stroke-width="0.5"/>
<line x1="659.15" y1="181.0" x2="659.15" y2="183.0" stroke="#555" stroke-width="0.5"/>
<line x1="664.15" y1="181.0" x2="664.15" y2="183.0" stroke="#555" stroke-width="0.5"/>
<line x1="669.14" y1="181.0" x2="669.14" y2="183.0" stroke="#555" stroke-width="0.5"/>
<line x1="674.13" y1="181.0" x2="674.13" y2="183.0" stroke="#555" stroke-width="0.5"/>
<line x1="679.13" y1="181.0" x2="679.13" y2="183.0" stroke="#555" stroke-width="0.5"/>
<line x1="684.12" y1="181.0" x2="684.12" y2="183.0" stroke="#555" stroke-width="0.5"/>
<line x1="689.11" y1="181.0" x2="689.11" y2="183.0" stroke="#555" stroke-width="0.5"/>
<line x1="694.11" y1="181.0" x2="694.11" y2="183.0" stroke="#555" stroke-width="0.5"/>
<line x1="699.1" y1="181.0" x2="699.1" y2="183.0" stroke="#555" stroke-width="0.5"/>
<line x1="704.09" y1="181.0" x2="704.09" y2="183.0" stroke="#555" stroke-width="0.5"/>
<line x1="709.09" y1="181.0" x2="709.09" y2="183.0" stroke="#555" stroke-width="0.5"/>
<line x1="714.08" y1="181.0" x2="714.08" y2="183.0" stroke="#555" stroke-width="0.5"/>
<line x1="719.07" y1="181.0" x2="719.07" y2="183.0" stroke="#555" stroke-width="0.5"/>
<line x1="724.06" y1="181.0" x2="724.06" y2="183.0" stroke="#555" stroke-width="0.5"/>
<line x1="729.06" y1="181.0" x2="729.06" y2="183.0" stroke="#555" stroke-width="0.5"/>
<line x1="734.05" y1="181.0" x2="734.05" y2="183.0" stroke="#555" stroke-width="0.5"/>
<line x1="739.04" y1="181.0" x2="739.04" y2="183.0" stroke="#555" stroke-width="0.5"/>
<line x1="744.04" y1="181.0" x2="744.04" y2="183.0" stroke="#555" stroke-width="0.5"/>
<line x1="749.03" y1="181.0" x2="749.03" y2="183.0" stroke="#555" stroke-width="0.5"/>
<line x1="754.02" y1="181.0" x2="754.02" y2="183.0" stroke="#555" stroke-width="0.5"/>
<line x1="759.01" y1="181.0" x2="759.01" y2="183.0" stroke="#555" stroke-width="0.5"/>
<line x1="764.01" y1="181.0" x2="764.01" y2="183.0" stroke="#555" stroke-width="0.5"/>
<line x1="769" y1="181.0" x2="769" y2="183.0" stroke="#555" stroke-width="0.5"/>
<line x1="773.99" y1="181.0" x2="773.99" y2="183.0" stroke="#555" stroke-width="0.5"/>
<line x1="778.99" y1="181.0" x2="778.99" y2="183.0" stroke="#555" stroke-width="0.5"/>
<line x1="484.4" y1="9.3" x2="484.4" y2="181.0" stroke="#f02020" stroke-width="2.0" stroke-dasharray="4.5,4.5" stroke-dashoffset="-0.5"/>
<line x1="513.86" y1="9.3" x2="513.86" y2="181.0" stroke="#f02020" stroke-width="2.2" stroke-dasharray="4.5,4.5" stroke-dashoffset="-0.5"/>
<line x1="551.81" y1="9.3" x2="551.81" y2="181.0" stroke="#f02020" stroke-width="1.0" stroke-dasharray="4.2,3.6" stroke-dashoffset="-0.5"/>
<line x1="566.78" y1="9.3" x2="566.78" y2="181.0" stroke="#f02020" stroke-width="1.0" stroke-dasharray="4.2,3.6" stroke-dashoffset="-0.5"/>
<line x1="641.68" y1="9.3" x2="641.68" y2="181.0" stroke="#f02020" stroke-width="1.0" stroke-dasharray="4.2,3.6" stroke-dashoffset="-0.5"/>
<line x1="656.66" y1="9.3" x2="656.66" y2="181.0" stroke="#f02020" stroke-width="1.0" stroke-dasharray="4.2,3.6" stroke-dashoffset="-0.5"/>
<line x1="731.55" y1="9.3" x2="731.55" y2="181.0" stroke="#f02020" stroke-width="1.0" stroke-dasharray="4.2,3.6" stroke-dashoffset="-0.5"/>
<path d="M484.4,176.36 L485.9,176.7 L487.4,176.97 L488.89,177.2 L490.39,177.38 L491.89,177.53 L493.39,177.66 L494.89,177.76 L496.38,177.84 L497.88,177.91 L499.38,177.97 L500.88,178.01 L502.37,178.05 L503.87,178.08 L505.37,178.1 L506.87,178.12 L508.37,178.14 L509.86,178.15 L511.36,178.17 L512.86,178.17 L513.86,177.96 L540.32,178.01 L566.78,178.05 L567.28,178.97 L592.08,179.06 L616.88,179.14 L641.68,179.23 L642.18,177.63 L656.66,177.63 L657.16,178.47 L682.02,178.5 L706.89,178.54 L731.75,178.57 L756.62,178.6 L781.48,178.64" fill="none" stroke="#6aaae0" stroke-width="1.0" stroke-linejoin="round" stroke-linecap="round" />
<path d="M484.4,175.69 L485.9,175.99 L487.4,176.25 L488.89,176.48 L490.39,176.68 L491.89,176.86 L493.39,177.01 L494.89,177.14 L496.38,177.26 L497.88,177.36 L499.38,177.44 L500.88,177.52 L502.37,177.59 L503.87,177.65 L505.37,177.7 L506.87,177.74 L508.37,177.78 L509.86,177.82 L511.36,177.84 L512.86,177.87 L513.86,178.3 L516.23,175.14 L518.6,171.99 L520.97,168.83 L523.35,165.67 L525.72,162.51 L528.09,159.36 L530.46,156.2 L532.83,153.04 L535.2,149.88 L537.58,146.73 L539.95,143.57 L542.32,140.41 L544.69,137.25 L547.06,134.09 L549.43,130.94 L551.81,127.78 L551.81,127.78 L556.8,127.7 L561.79,127.61 L566.78,127.53 L566.78,127.53 L567.28,127.53 L567.78,127.53 L568.28,122.13 L568.78,117.09 L569.28,112.38 L569.78,107.99 L570.28,103.89 L570.78,100.06 L571.28,96.48 L571.78,93.14 L572.28,90.02 L572.78,87.11 L573.28,84.38 L573.77,81.84 L574.27,79.46 L574.77,77.24 L575.27,75.16 L575.77,73.21 L576.27,71.4 L576.77,69.7 L577.27,68.11 L577.77,66.62 L578.27,65.23 L578.77,63.93 L579.27,62.71 L579.77,61.57 L580.27,60.5 L580.76,59.5 L581.26,58.56 L581.76,57.68 L582.26,56.86 L582.76,56.08 L583.26,55.36 L583.76,54.68 L584.26,54.04 L584.76,53.44 L585.26,52.87 L585.76,52.34 L586.26,51.84 L586.76,51.37 L587.26,50.93 L587.76,50.51 L588.25,50.12 L588.75,49.75 L589.25,49.4 L589.75,49.07 L590.25,48.76 L590.75,48.47 L591.25,48.19 L591.75,47.93 L592.25,47.68 L592.75,47.44 L593.25,47.22 L593.75,47.01 L594.25,46.81 L594.75,46.62 L595.24,46.44 L595.74,46.26 L596.24,46.1 L596.74,45.94 L597.24,45.79 L597.74,45.65 L598.24,45.51 L598.74,45.38 L599.24,45.25 L599.74,45.13 L600.24,45.02 L600.74,44.91 L601.24,44.8 L601.74,44.7 L602.23,44.6 L602.73,44.51 L603.23,44.41 L603.73,44.33 L604.23,44.24 L604.73,44.16 L605.23,44.08 L605.73,44 L606.23,43.93 L606.73,43.85 L607.23,43.78 L607.73,43.72 L608.23,43.65 L608.73,43.58 L609.23,43.52 L609.72,43.46 L610.22,43.4 L610.72,43.34 L611.22,43.28 L611.72,43.23 L612.22,43.17 L612.72,43.12 L613.22,43.07 L613.72,43.02 L614.22,42.97 L614.72,42.92 L615.22,42.87 L615.72,42.82 L616.22,42.77 L616.71,42.73 L617.21,42.68 L617.71,42.64 L618.21,42.6 L618.71,42.55 L619.21,42.51 L619.71,42.47 L620.21,42.43 L620.71,42.39 L621.21,42.35 L621.71,42.31 L622.21,42.27 L622.71,42.24 L623.21,42.2 L623.7,42.16 L624.2,42.13 L624.7,42.09 L625.2,42.05 L625.7,42.02 L626.2,41.98 L626.7,41.95 L627.2,41.92 L627.7,41.88 L628.2,41.85 L628.7,41.82 L629.2,41.79 L629.7,41.76 L630.2,41.72 L630.69,41.69 L631.19,41.66 L631.69,41.63 L632.19,41.6 L632.69,41.57 L633.19,41.54 L633.69,41.52 L634.19,41.49 L634.69,41.46 L635.19,41.43 L635.69,41.4 L636.19,41.38 L636.69,41.35 L637.19,41.32 L637.69,41.3 L638.18,41.27 L638.68,41.24 L639.18,41.22 L639.68,41.19 L640.18,41.17 L640.68,41.14 L641.18,41.12 L641.68,41.09 L656.66,42.74 L657.66,41.32 L658.66,39.98 L659.65,38.72 L660.65,37.53 L661.65,36.41 L662.65,35.36 L663.65,34.36 L664.65,33.43 L665.65,32.55 L666.64,31.72 L667.64,30.94 L668.64,30.21 L669.64,29.51 L670.64,28.86 L671.64,28.25 L672.64,27.67 L673.63,27.13 L674.63,26.61 L675.63,26.13 L676.63,25.67 L677.63,25.25 L678.63,24.84 L679.63,24.46 L680.62,24.11 L681.62,23.77 L682.62,23.45 L683.62,23.15 L684.62,22.87 L685.62,22.61 L686.62,22.36 L687.62,22.12 L688.61,21.9 L689.61,21.69 L690.61,21.5 L691.61,21.31 L692.61,21.14 L693.61,20.97 L694.61,20.82 L695.6,20.67 L696.6,20.54 L697.6,20.41 L698.6,20.28 L699.6,20.17 L700.6,20.06 L701.6,19.96 L702.59,19.87 L703.59,19.78 L704.59,19.69 L705.59,19.61 L706.59,19.54 L707.59,19.46 L708.59,19.4 L709.58,19.34 L710.58,19.28 L711.58,19.22 L712.58,19.17 L713.58,19.12 L714.58,19.07 L715.58,19.03 L716.57,18.99 L717.57,18.95 L718.57,18.91 L719.57,18.88 L720.57,18.84 L721.57,18.81 L722.57,18.79 L723.56,18.76 L724.56,18.73 L725.56,18.71 L726.56,18.69 L727.56,18.66 L728.56,18.64 L729.56,18.63 L730.55,18.61 L731.55,18.59 L731.55,18.59 L734.05,18.93 L736.55,19.26 L739.04,19.56 L741.54,19.85 L744.04,20.12 L746.53,20.38 L749.03,20.63 L751.53,20.86 L754.02,21.08 L756.52,21.28 L759.01,21.48 L761.51,21.66 L764.01,21.84 L766.5,22 L769,22.16 L771.5,22.31 L773.99,22.45 L776.49,22.58 L778.99,22.71 L781.48,22.83" fill="none" stroke="#ec8a68" stroke-width="1.1" stroke-linejoin="round" stroke-linecap="round" />
<path d="M484.4,175.1 L485.9,175.43 L487.4,175.72 L488.89,175.97 L490.39,176.19 L491.89,176.39 L493.39,176.57 L494.89,176.72 L496.38,176.86 L497.88,176.98 L499.38,177.08 L500.88,177.18 L502.37,177.26 L503.87,177.33 L505.37,177.4 L506.87,177.45 L508.37,177.5 L509.86,177.55 L511.36,177.59 L512.86,177.62 L513.86,178.3 L516.23,175.09 L518.6,171.88 L520.97,168.67 L523.35,165.46 L525.72,162.25 L528.09,159.04 L530.46,155.83 L532.83,152.62 L535.2,149.41 L537.58,146.2 L539.95,142.99 L542.32,139.78 L544.69,136.57 L547.06,133.36 L549.43,130.15 L551.81,126.94 L551.81,125.25 L556.8,125.31 L561.79,125.37 L566.78,125.42 L566.78,125.42 L567.28,125.42 L567.78,125.42 L568.28,119.85 L568.78,114.64 L569.28,109.77 L569.78,105.23 L570.28,100.98 L570.78,97.01 L571.28,93.3 L571.78,89.83 L572.28,86.59 L572.78,83.55 L573.28,80.71 L573.77,78.06 L574.27,75.58 L574.77,73.25 L575.27,71.08 L575.77,69.04 L576.27,67.13 L576.77,65.35 L577.27,63.67 L577.77,62.11 L578.27,60.63 L578.77,59.26 L579.27,57.96 L579.77,56.75 L580.27,55.61 L580.76,54.54 L581.26,53.53 L581.76,52.59 L582.26,51.7 L582.76,50.86 L583.26,50.08 L583.76,49.34 L584.26,48.64 L584.76,47.98 L585.26,47.36 L585.76,46.78 L586.26,46.23 L586.76,45.7 L587.26,45.21 L587.76,44.74 L588.25,44.3 L588.75,43.89 L589.25,43.49 L589.75,43.11 L590.25,42.76 L590.75,42.42 L591.25,42.1 L591.75,41.79 L592.25,41.5 L592.75,41.22 L593.25,40.96 L593.75,40.7 L594.25,40.46 L594.75,40.23 L595.24,40.01 L595.74,39.8 L596.24,39.6 L596.74,39.4 L597.24,39.21 L597.74,39.03 L598.24,38.86 L598.74,38.69 L599.24,38.53 L599.74,38.38 L600.24,38.23 L600.74,38.08 L601.24,37.94 L601.74,37.81 L602.23,37.68 L602.73,37.55 L603.23,37.43 L603.73,37.31 L604.23,37.19 L604.73,37.08 L605.23,36.97 L605.73,36.86 L606.23,36.75 L606.73,36.65 L607.23,36.55 L607.73,36.45 L608.23,36.36 L608.73,36.27 L609.23,36.18 L609.72,36.09 L610.22,36 L610.72,35.91 L611.22,35.83 L611.72,35.75 L612.22,35.67 L612.72,35.59 L613.22,35.51 L613.72,35.43 L614.22,35.36 L614.72,35.28 L615.22,35.21 L615.72,35.14 L616.22,35.07 L616.71,35 L617.21,34.93 L617.71,34.86 L618.21,34.79 L618.71,34.73 L619.21,34.66 L619.71,34.6 L620.21,34.54 L620.71,34.47 L621.21,34.41 L621.71,34.35 L622.21,34.29 L622.71,34.23 L623.21,34.18 L623.7,34.12 L624.2,34.06 L624.7,34.01 L625.2,33.95 L625.7,33.9 L626.2,33.84 L626.7,33.79 L627.2,33.73 L627.7,33.68 L628.2,33.63 L628.7,33.58 L629.2,33.53 L629.7,33.48 L630.2,33.43 L630.69,33.38 L631.19,33.33 L631.69,33.28 L632.19,33.24 L632.69,33.19 L633.19,33.14 L633.69,33.1 L634.19,33.05 L634.69,33.01 L635.19,32.96 L635.69,32.92 L636.19,32.88 L636.69,32.83 L637.19,32.79 L637.69,32.75 L638.18,32.71 L638.68,32.67 L639.18,32.63 L639.68,32.59 L640.18,32.55 L640.68,32.51 L641.18,32.47 L641.68,32.43 L656.66,35.16 L659.15,35.35 L664.15,35.72 L669.14,36.06 L674.13,36.37 L679.13,36.66 L684.12,36.94 L689.11,37.19 L694.11,37.43 L699.1,37.65 L704.09,37.86 L709.09,38.05 L714.08,38.23 L719.07,38.39 L724.06,38.55 L729.06,38.69 L734.05,38.82 L739.04,38.95 L744.04,39.06 L749.03,39.17 L754.02,39.27 L759.01,39.37 L764.01,39.45 L769,39.54 L773.99,39.61 L778.99,39.68" fill="none" stroke="#f2b84a" stroke-width="1.1" stroke-linejoin="round" stroke-linecap="round" />
<path d="M484.4,175.69 L485.9,175.99 L487.4,176.25 L488.89,176.48 L490.39,176.68 L491.89,176.86 L493.39,177.01 L494.89,177.14 L496.38,177.26 L497.88,177.36 L499.38,177.44 L500.88,177.52 L502.37,177.59 L503.87,177.65 L505.37,177.7 L506.87,177.74 L508.37,177.78 L509.86,177.82 L511.36,177.84 L512.86,177.87 L513.86,178.3 L516.23,175.04 L518.6,171.77 L520.97,168.51 L523.35,165.25 L525.72,161.99 L528.09,158.72 L530.46,155.46 L532.83,152.2 L535.2,148.94 L537.58,145.67 L539.95,142.41 L542.32,139.15 L544.69,135.88 L547.06,132.62 L549.43,129.36 L551.81,126.1 L551.81,124.41 L556.8,124.55 L561.79,124.69 L566.78,124.83 L566.78,124.83 L567.28,124.83 L567.78,124.83 L568.28,122.84 L568.78,120.93 L569.28,119.1 L569.78,117.34 L570.28,115.65 L570.78,114.03 L571.28,112.47 L571.78,110.98 L572.28,109.54 L572.78,108.17 L573.28,106.84 L573.77,105.57 L574.27,104.35 L574.77,103.17 L575.27,102.05 L575.77,100.96 L576.27,99.92 L576.77,98.91 L577.27,97.95 L577.77,97.02 L578.27,96.12 L578.77,95.26 L579.27,94.43 L579.77,93.63 L580.27,92.86 L580.76,92.12 L581.26,91.41 L581.76,90.72 L582.26,90.06 L582.76,89.42 L583.26,88.8 L583.76,88.2 L584.26,87.63 L584.76,87.07 L585.26,86.53 L585.76,86.01 L586.26,85.51 L586.76,85.03 L587.26,84.56 L587.76,84.11 L588.25,83.67 L588.75,83.24 L589.25,82.83 L589.75,82.43 L590.25,82.05 L590.75,81.67 L591.25,81.31 L591.75,80.96 L592.25,80.62 L592.75,80.29 L593.25,79.96 L593.75,79.65 L594.25,79.35 L594.75,79.05 L595.24,78.76 L595.74,78.48 L596.24,78.21 L596.74,77.95 L597.24,77.69 L597.74,77.44 L598.24,77.19 L598.74,76.95 L599.24,76.72 L599.74,76.49 L600.24,76.27 L600.74,76.06 L601.24,75.84 L601.74,75.64 L602.23,75.43 L602.73,75.24 L603.23,75.04 L603.73,74.85 L604.23,74.67 L604.73,74.49 L605.23,74.31 L605.73,74.13 L606.23,73.96 L606.73,73.79 L607.23,73.63 L607.73,73.47 L608.23,73.31 L608.73,73.15 L609.23,73 L609.72,72.85 L610.22,72.7 L610.72,72.56 L611.22,72.41 L611.72,72.27 L612.22,72.13 L612.72,72 L613.22,71.86 L613.72,71.73 L614.22,71.6 L614.72,71.47 L615.22,71.35 L615.72,71.22 L616.22,71.1 L616.71,70.98 L617.21,70.86 L617.71,70.74 L618.21,70.62 L618.71,70.5 L619.21,70.39 L619.71,70.28 L620.21,70.17 L620.71,70.06 L621.21,69.95 L621.71,69.84 L622.21,69.73 L622.71,69.63 L623.21,69.52 L623.7,69.42 L624.2,69.32 L624.7,69.22 L625.2,69.12 L625.7,69.02 L626.2,68.92 L626.7,68.83 L627.2,68.73 L627.7,68.64 L628.2,68.54 L628.7,68.45 L629.2,68.36 L629.7,68.27 L630.2,68.17 L630.69,68.08 L631.19,68 L631.69,67.91 L632.19,67.82 L632.69,67.73 L633.19,67.65 L633.69,67.56 L634.19,67.48 L634.69,67.39 L635.19,67.31 L635.69,67.23 L636.19,67.15 L636.69,67.06 L637.19,66.98 L637.69,66.9 L638.18,66.82 L638.68,66.74 L639.18,66.67 L639.68,66.59 L640.18,66.51 L640.68,66.44 L641.18,66.36 L641.68,66.28 L641.93,65.05 L646.84,65.25 L651.75,65.44 L656.66,65.64 L656.66,65.64 L669.14,66.1 L681.62,66.57 L694.11,67.03 L706.59,67.49 L719.07,67.96 L731.55,68.42 L732.55,67.83 L736.55,67.58 L739.04,67.83 L747.53,67.91 L756.02,68 L764.51,68.08 L773,68.17 L781.48,68.25" fill="none" stroke="#40b4bc" stroke-width="1.1" stroke-linejoin="round" stroke-linecap="round" />
<path d="M484.4,175.69 L485.9,175.99 L487.4,176.25 L488.89,176.48 L490.39,176.68 L491.89,176.86 L493.39,177.01 L494.89,177.14 L496.38,177.26 L497.88,177.36 L499.38,177.44 L500.88,177.52 L502.37,177.59 L503.87,177.65 L505.37,177.7 L506.87,177.74 L508.37,177.78 L509.86,177.82 L511.36,177.84 L512.86,177.87 L513.86,178.3 L516.23,175.04 L518.6,171.77 L520.97,168.51 L523.35,165.25 L525.72,161.99 L528.09,158.72 L530.46,155.46 L532.83,152.2 L535.2,148.94 L537.58,145.67 L539.95,142.41 L542.32,139.15 L544.69,135.88 L547.06,132.62 L549.43,129.36 L551.81,126.1 L551.81,124.83 L556.8,124.92 L561.79,125 L566.78,125.09 L566.78,125.09 L569.28,125.37 L571.78,125.63 L574.27,125.88 L576.77,126.11 L579.27,126.32 L581.76,126.52 L584.26,126.71 L586.76,126.88 L589.25,127.04 L591.75,127.19 L594.25,127.33 L596.74,127.46 L599.24,127.58 L601.74,127.69 L604.23,127.8 L606.73,127.9 L609.23,127.99 L611.72,128.07 L614.22,128.15 L616.71,128.22 L619.21,128.29 L621.71,128.35 L624.2,128.41 L626.7,128.47 L629.2,128.52 L631.69,128.57 L634.19,128.61 L636.69,128.65 L639.18,128.69 L641.68,128.73 L644.18,128.76 L646.67,128.79 L649.17,128.82 L651.67,128.85 L654.16,128.87 L656.66,128.9 L659.15,128.92 L661.65,128.94 L664.15,128.96 L666.64,128.97 L669.14,128.99 L671.64,129.01 L674.13,129.02 L676.63,129.03 L679.13,129.05 L681.62,129.06 L684.12,129.07 L686.62,129.08 L689.11,129.09 L691.61,129.1 L694.11,129.1 L696.6,129.11 L699.1,129.12 L701.6,129.12 L704.09,129.13 L706.59,129.14 L709.09,129.14 L711.58,129.15 L714.08,129.15 L716.57,129.15 L719.07,129.16 L721.57,129.16 L724.06,129.17 L726.56,129.17 L729.06,129.17 L731.55,129.17 L734.05,129.18 L736.55,129.18 L739.04,129.18 L741.54,129.18 L744.04,129.19 L746.53,129.19 L749.03,129.19 L751.53,129.19 L754.02,129.19 L756.52,129.19 L759.01,129.19 L761.51,129.2 L764.01,129.2 L766.5,129.2 L769,129.2 L771.5,129.2 L773.99,129.2 L776.49,129.2 L778.99,129.2 L781.48,129.2" fill="none" stroke="#9ccb58" stroke-width="1.1" stroke-linejoin="round" stroke-linecap="round" />
<path d="M484.4,175.1 L485.9,175.43 L487.4,175.72 L488.89,175.97 L490.39,176.19 L491.89,176.39 L493.39,176.57 L494.89,176.72 L496.38,176.86 L497.88,176.98 L499.38,177.08 L500.88,177.18 L502.37,177.26 L503.87,177.33 L505.37,177.4 L506.87,177.45 L508.37,177.5 L509.86,177.55 L511.36,177.59 L512.86,177.62 L513.86,177.88" fill="none" stroke="#f2b84a" stroke-width="1.1" stroke-linejoin="round" stroke-linecap="round" />
<text x="479.8" y="179.7" class="tkc" text-anchor="end" textLength="4.8" lengthAdjust="spacingAndGlyphs">0.0</text>
<text x="479.8" y="171.28" class="tkc" text-anchor="end" textLength="4.8" lengthAdjust="spacingAndGlyphs">0.1</text>
<text x="479.8" y="162.86" class="tkc" text-anchor="end" textLength="4.8" lengthAdjust="spacingAndGlyphs">0.2</text>
<text x="479.8" y="154.44" class="tkc" text-anchor="end" textLength="4.8" lengthAdjust="spacingAndGlyphs">0.3</text>
<text x="479.8" y="146.02" class="tkc" text-anchor="end" textLength="4.8" lengthAdjust="spacingAndGlyphs">0.4</text>
<text x="479.8" y="137.6" class="tkc" text-anchor="end" textLength="4.8" lengthAdjust="spacingAndGlyphs">0.5</text>
<text x="479.8" y="129.18" class="tkc" text-anchor="end" textLength="4.8" lengthAdjust="spacingAndGlyphs">0.6</text>
<text x="479.8" y="120.76" class="tkc" text-anchor="end" textLength="4.8" lengthAdjust="spacingAndGlyphs">0.7</text>
<text x="479.8" y="112.34" class="tkc" text-anchor="end" textLength="4.8" lengthAdjust="spacingAndGlyphs">0.8</text>
<text x="479.8" y="103.92" class="tkc" text-anchor="end" textLength="4.8" lengthAdjust="spacingAndGlyphs">0.9</text>
<text x="479.8" y="95.5" class="tkc" text-anchor="end" textLength="4.8" lengthAdjust="spacingAndGlyphs">1.0</text>
<text x="479.8" y="87.08" class="tkc" text-anchor="end" textLength="4.8" lengthAdjust="spacingAndGlyphs">1.1</text>
<text x="479.8" y="78.66" class="tkc" text-anchor="end" textLength="4.8" lengthAdjust="spacingAndGlyphs">1.2</text>
<text x="479.8" y="70.24" class="tkc" text-anchor="end" textLength="4.8" lengthAdjust="spacingAndGlyphs">1.3</text>
<text x="479.8" y="61.82" class="tkc" text-anchor="end" textLength="4.8" lengthAdjust="spacingAndGlyphs">1.4</text>
<text x="479.8" y="53.4" class="tkc" text-anchor="end" textLength="4.8" lengthAdjust="spacingAndGlyphs">1.5</text>
<text x="479.8" y="44.98" class="tkc" text-anchor="end" textLength="4.8" lengthAdjust="spacingAndGlyphs">1.6</text>
<text x="479.8" y="36.56" class="tkc" text-anchor="end" textLength="4.8" lengthAdjust="spacingAndGlyphs">1.7</text>
<text x="479.8" y="28.14" class="tkc" text-anchor="end" textLength="4.8" lengthAdjust="spacingAndGlyphs">1.8</text>
<text x="479.8" y="19.72" class="tkc" text-anchor="end" textLength="4.8" lengthAdjust="spacingAndGlyphs">1.9</text>
<text x="479.8" y="11.3" class="tkc" text-anchor="end" textLength="4.8" lengthAdjust="spacingAndGlyphs">2.0</text>
<text x="484.7" y="189" class="tkc" text-anchor="middle" textLength="2.1" lengthAdjust="spacingAndGlyphs">0</text>
<text x="509.66" y="189" class="tkc" text-anchor="middle" textLength="4.2" lengthAdjust="spacingAndGlyphs">50</text>
<text x="534.63" y="189" class="tkc" text-anchor="middle" textLength="6.3" lengthAdjust="spacingAndGlyphs">100</text>
<text x="559.59" y="189" class="tkc" text-anchor="middle" textLength="6.3" lengthAdjust="spacingAndGlyphs">150</text>
<text x="584.56" y="189" class="tkc" text-anchor="middle" textLength="6.3" lengthAdjust="spacingAndGlyphs">200</text>
<text x="609.52" y="189" class="tkc" text-anchor="middle" textLength="6.3" lengthAdjust="spacingAndGlyphs">250</text>
<text x="634.49" y="189" class="tkc" text-anchor="middle" textLength="6.3" lengthAdjust="spacingAndGlyphs">300</text>
<text x="659.45" y="189" class="tkc" text-anchor="middle" textLength="6.3" lengthAdjust="spacingAndGlyphs">350</text>
<text x="684.42" y="189" class="tkc" text-anchor="middle" textLength="6.3" lengthAdjust="spacingAndGlyphs">400</text>
<text x="709.38" y="189" class="tkc" text-anchor="middle" textLength="6.3" lengthAdjust="spacingAndGlyphs">450</text>
<text x="734.35" y="189" class="tkc" text-anchor="middle" textLength="6.3" lengthAdjust="spacingAndGlyphs">500</text>
<text x="759.31" y="189" class="tkc" text-anchor="middle" textLength="6.3" lengthAdjust="spacingAndGlyphs">550</text>
<text x="633" y="191.2" class="tkcb" text-anchor="middle">Time (sec)</text>
<text transform="translate(472.2,95.3) rotate(-90)" class="tkcb" text-anchor="middle">Shift (nm)</text>
<rect x="483.5" y="179" width="2" height="3" fill="#e07020"/>
<text x="460.8" y="16.6" class="lblc">C</text>
<text x="533.8" y="8.5" class="sec" text-anchor="middle">Load</text>
<text x="603.6" y="8.5" class="sec" text-anchor="middle">Bind #1</text>
<text x="697" y="8.5" class="sec" text-anchor="middle">Bind #2</text>
<text x="779.5" y="18" class="chl" text-anchor="end">Ch. 1</text>
<text x="779.5" y="37.8" class="chl" text-anchor="end">Ch. 2</text>
<text x="779.5" y="64.4" class="chl" text-anchor="end">Ch. 4</text>
<text x="779.5" y="127.2" class="chl" text-anchor="end">Ch. 3</text>
<text x="779.5" y="176.8" class="chl" text-anchor="end">Ch. 5</text>
<rect x="762.8" y="77.3" width="27" height="35.4" fill="#fff" stroke="#8a8a8a" stroke-width="0.8"/>
<line x1="781.3" y1="77" x2="781.3" y2="113" stroke="#ecd0b4" stroke-width="0.8"/>
<path d="M766.2,81.3 l1.1,1.3 l2,-2.6" fill="none" stroke="#111" stroke-width="1"/>
<line x1="771.3" y1="81.6" x2="777" y2="81.6" stroke="#ec9a7a" stroke-width="0.9"/>
<text x="778.8" y="82.9" class="lg">CH 1</text>
<path d="M766.2,86.57 l1.1,1.3 l2,-2.6" fill="none" stroke="#111" stroke-width="1"/>
<line x1="771.3" y1="86.87" x2="777" y2="86.87" stroke="#f2c060" stroke-width="0.9"/>
<text x="778.8" y="88.17" class="lg">CH 2</text>
<path d="M766.2,91.84 l1.1,1.3 l2,-2.6" fill="none" stroke="#111" stroke-width="1"/>
<line x1="771.3" y1="92.14" x2="777" y2="92.14" stroke="#c0dc88" stroke-width="0.9"/>
<text x="778.8" y="93.44" class="lg">CH 3</text>
<path d="M766.2,97.11 l1.1,1.3 l2,-2.6" fill="none" stroke="#111" stroke-width="1"/>
<line x1="771.3" y1="97.41" x2="777" y2="97.41" stroke="#50bcc4" stroke-width="0.9"/>
<text x="778.8" y="98.71" class="lg">CH 4</text>
<path d="M766.2,102.38 l1.1,1.3 l2,-2.6" fill="none" stroke="#111" stroke-width="1"/>
<line x1="771.3" y1="102.68" x2="777" y2="102.68" stroke="#90c4ea" stroke-width="0.9"/>
<text x="778.8" y="103.98" class="lg">CH 5</text>
<line x1="771.3" y1="107.95" x2="777" y2="107.95" stroke="#f0b0cc" stroke-width="0.9"/>
<text x="778.8" y="109.25" class="lg">CH 7</text>
</svg>

<table class="kt" style="top:124px">
<tr><td></td><td>K<sub>off</sub> (1/s)</td><td>K<sub>on</sub> (1/Ms)</td><td>K<sub>D</sub> (M)</td></tr>
<tr><td>ZGGS15</td><td>1.60E-03</td><td>5.26E+05</td><td>3.05E-09</td></tr>
</table>

<table class="kt" style="top:289.4px">
<tr><td></td><td>K<sub>off</sub> (1/s)</td><td>K<sub>on</sub> (1/Ms)</td><td>K<sub>D</sub> (M)</td></tr>
<tr><td>ZGGS15</td><td>8.12E-04</td><td>3.07E+05</td><td>2.65E-09</td></tr>
</table>
<div style="position:absolute;left:459.5px;top:210.5px;width:329.5px;height:19.0px;background:#c0c0c0"></div>
<div style="position:absolute;left:459.5px;top:229.5px;width:329.5px;height:94.5px;background:#f0f0f0"></div>
<div class="cc" style="left:459.5px;top:210.5px;width:75.70000000000005px;height:19.0px;font-weight:bold;color:#111;font-size:10.4px;">Channel #</div>
<div class="cc" style="left:535.2px;top:210.5px;width:74.0px;height:19.0px;font-weight:bold;color:#111;font-size:10.4px;">Load</div>
<div class="cc" style="left:609.2px;top:210.5px;width:99.79999999999995px;height:19.0px;font-weight:bold;color:#111;font-size:10.4px;">Bind #1</div>
<div class="cc" style="left:709.0px;top:210.5px;width:80.0px;height:19.0px;font-weight:bold;color:#111;font-size:10.4px;">Bind #2</div>
<div class="cc" style="left:459.5px;top:229.5px;width:75.70000000000005px;height:18.900000000000006px;color:#222;font-size:10.1px;"><b style="color:#ee1c24;font-size:10.9px">Ch. 1</b></div>
<div class="cc" style="left:535.2px;top:229.5px;width:74.0px;height:18.900000000000006px;color:#222;font-size:10.1px;">huLAG-3</div>
<div class="cc" style="left:609.2px;top:229.5px;width:99.79999999999995px;height:18.900000000000006px;color:#222;font-size:10.1px;">ZGGS15</div>
<div class="cc" style="left:709.0px;top:229.5px;width:80.0px;height:18.900000000000006px;color:#222;font-size:10.1px;">huTIGIT-Fc</div>
<div class="cc" style="left:459.5px;top:248.4px;width:75.70000000000005px;height:18.99999999999997px;color:#222;font-size:10.1px;"><b style="color:#f7941d;font-size:10.9px">Ch. 2</b></div>
<div class="cc" style="left:535.2px;top:248.4px;width:74.0px;height:18.99999999999997px;color:#222;font-size:10.1px;">huLAG-3</div>
<div class="cc" style="left:609.2px;top:248.4px;width:99.79999999999995px;height:18.99999999999997px;color:#222;font-size:10.1px;">ZGGS15</div>
<div class="cc" style="left:709.0px;top:248.4px;width:80.0px;height:18.99999999999997px;color:#222;font-size:10.1px;">buffer</div>
<div class="cc" style="left:459.5px;top:267.4px;width:75.70000000000005px;height:19.0px;color:#222;font-size:10.1px;"><b style="color:#8dc63f;font-size:10.9px">Ch. 3</b></div>
<div class="cc" style="left:535.2px;top:267.4px;width:74.0px;height:19.0px;color:#222;font-size:10.1px;">huLAG-3</div>
<div class="cc" style="left:609.2px;top:267.4px;width:99.79999999999995px;height:19.0px;color:#222;font-size:10.1px;">buffer</div>
<div class="cc" style="left:709.0px;top:267.4px;width:80.0px;height:19.0px;color:#222;font-size:10.1px;">huTIGIT-Fc</div>
<div class="cc" style="left:459.5px;top:286.4px;width:75.70000000000005px;height:18.900000000000034px;color:#222;font-size:10.1px;"><b style="color:#1ab2e8;font-size:10.9px">Ch. 4</b></div>
<div class="cc" style="left:535.2px;top:286.4px;width:74.0px;height:18.900000000000034px;color:#222;font-size:10.1px;">huLAG-3</div>
<div class="cc" style="left:609.2px;top:286.4px;width:99.79999999999995px;height:18.900000000000034px;color:#222;font-size:10.1px;">Relatlimab analog</div>
<div class="cc" style="left:709.0px;top:286.4px;width:80.0px;height:18.900000000000034px;color:#222;font-size:10.1px;">huTIGIT-Fc</div>
<div class="cc" style="left:459.5px;top:305.3px;width:75.70000000000005px;height:18.69999999999999px;color:#222;font-size:10.1px;"><b style="color:#2060e8;font-size:10.9px">Ch. 5</b></div>
<div class="cc" style="left:535.2px;top:305.3px;width:74.0px;height:18.69999999999999px;color:#222;font-size:10.1px;">buffer</div>
<div class="cc" style="left:609.2px;top:305.3px;width:99.79999999999995px;height:18.69999999999999px;color:#222;font-size:10.1px;">ZGGS15</div>
<div class="cc" style="left:709.0px;top:305.3px;width:80.0px;height:18.69999999999999px;color:#222;font-size:10.1px;">huTIGIT-Fc</div>
<div style="position:absolute;left:458.7px;top:209.7px;width:330.9px;height:1.6px;background:#4a4a4a"></div>
<div style="position:absolute;left:458.7px;top:228.7px;width:330.9px;height:1.6px;background:#4a4a4a"></div>
<div style="position:absolute;left:458.7px;top:247.6px;width:330.9px;height:1.6px;background:#4a4a4a"></div>
<div style="position:absolute;left:458.7px;top:266.59999999999997px;width:330.9px;height:1.6px;background:#4a4a4a"></div>
<div style="position:absolute;left:458.7px;top:285.59999999999997px;width:330.9px;height:1.6px;background:#4a4a4a"></div>
<div style="position:absolute;left:458.7px;top:304.5px;width:330.9px;height:1.6px;background:#4a4a4a"></div>
<div style="position:absolute;left:458.7px;top:323.2px;width:330.9px;height:1.6px;background:#4a4a4a"></div>
<div style="position:absolute;left:458.8px;top:209.8px;width:1.4px;height:114.9px;background:#444"></div>
<div style="position:absolute;left:534.5px;top:209.8px;width:1.4px;height:114.9px;background:#444"></div>
<div style="position:absolute;left:608.5px;top:209.8px;width:1.4px;height:114.9px;background:#444"></div>
<div style="position:absolute;left:708.3px;top:209.8px;width:1.4px;height:114.9px;background:#444"></div>
<div style="position:absolute;left:788.3px;top:209.8px;width:1.4px;height:114.9px;background:#444"></div>
</body></html>
